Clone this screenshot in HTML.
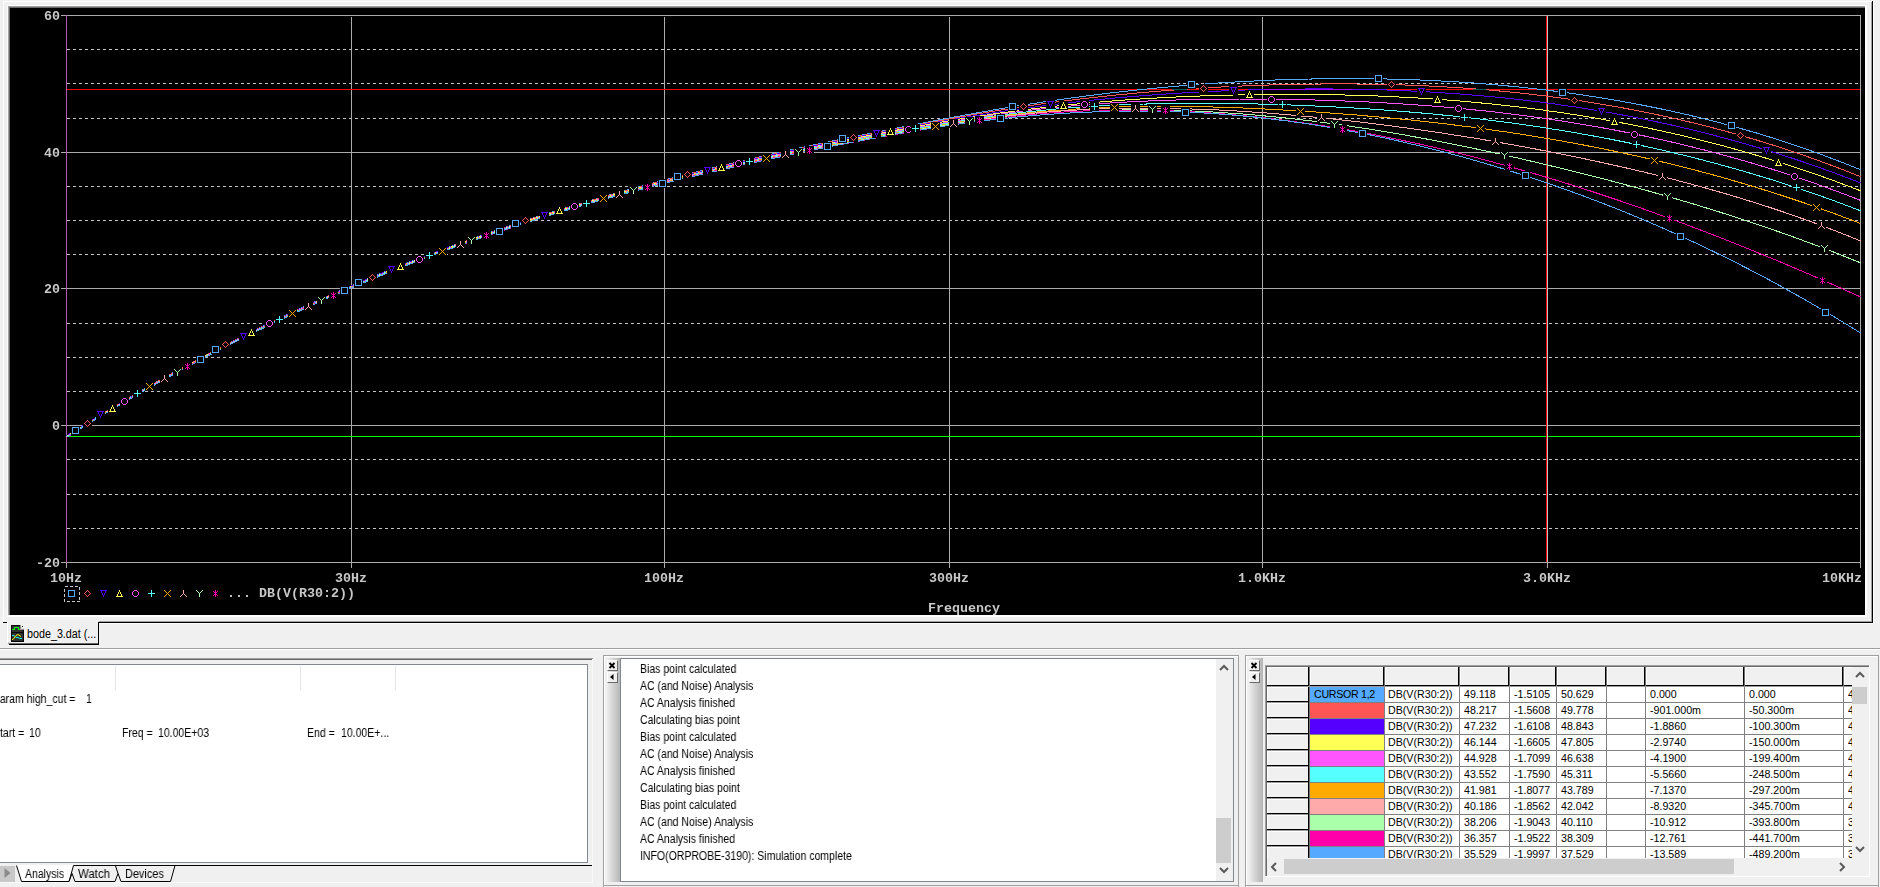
<!DOCTYPE html>
<html><head><meta charset="utf-8"><title>bode_3.dat</title>
<style>
html,body{margin:0;padding:0;}
body{width:1880px;height:887px;overflow:hidden;background:#F0F0F0;position:relative;font-family:"Liberation Sans",sans-serif;font-size:11px;color:#000;}
.a{position:absolute;}
.pt{position:absolute;font-family:"Liberation Mono",monospace;font-weight:bold;font-size:13.33px;line-height:12px;height:12px;color:#C8C8C8;white-space:pre;letter-spacing:0px;will-change:transform;}
.ms{position:absolute;white-space:pre;font-size:12px;line-height:13px;height:13px;transform:scaleX(0.875);transform-origin:0 0;will-change:transform;}
.tc{position:absolute;white-space:pre;font-size:10.67px;line-height:15px;height:15px;overflow:hidden;}
.btn{position:absolute;width:9px;height:9px;background:#F0F0F0;border-top:1px solid #fff;border-left:1px solid #fff;border-right:1px solid #696969;border-bottom:1px solid #696969;}
</style></head><body>

<div class="a" style="left:3px;top:1px;width:1871px;height:1px;background:#fff"></div>
<div class="a" style="left:3px;top:1px;width:1px;height:621px;background:#fff"></div>
<div class="a" style="left:1871px;top:2px;width:1px;height:620px;background:#A0A0A0"></div>
<div class="a" style="left:1872px;top:1px;width:1px;height:622px;background:#000"></div>
<div class="a" style="left:1873px;top:1px;width:1px;height:623px;background:#fff"></div>
<div class="a" style="left:99px;top:621px;width:1773px;height:1px;background:#A0A0A0"></div>
<div class="a" style="left:99px;top:622px;width:1774px;height:1px;background:#000"></div>
<div class="a" style="left:99px;top:623px;width:1775px;height:1px;background:#fff"></div>
<div class="a" style="left:3px;top:622px;width:4px;height:1px;background:#000"></div>
<div class="a" style="left:7px;top:5px;width:1860px;height:612px;background:#fff"></div>
<div class="a" style="left:7px;top:5px;width:1858px;height:1px;background:#FAFAFA"></div>
<div class="a" style="left:7px;top:5px;width:1px;height:610px;background:#FAFAFA"></div>
<div class="a" style="left:8px;top:6px;width:1857px;height:609px;background:#A0A0A0"></div>
<div class="a" style="left:9px;top:7px;width:1856px;height:608px;background:#696969"></div>
<svg class="a" style="left:0;top:0" width="1880" height="620" viewBox="0 0 1880 620">
<rect x="10" y="8" width="1855" height="607" fill="#000"/>
<g stroke="#C4C4C4" stroke-width="1" shape-rendering="crispEdges" stroke-dasharray="3 3" fill="none">
<path d="M67 49.5H1858"/>
<path d="M67 83.5H1858"/>
<path d="M67 118.5H1858"/>
<path d="M67 186.5H1858"/>
<path d="M67 220.5H1858"/>
<path d="M67 254.5H1858"/>
<path d="M67 323.5H1858"/>
<path d="M67 357.5H1858"/>
<path d="M67 391.5H1858"/>
<path d="M67 459.5H1858"/>
<path d="M67 494.5H1858"/>
<path d="M67 528.5H1858"/>
</g>
<g stroke="#ABABAB" stroke-width="1" shape-rendering="crispEdges" fill="none">
<path d="M61 15.5H1861"/>
<path d="M61 152.5H1861"/>
<path d="M61 288.5H1861"/>
<path d="M61 425.5H1861"/>
<path d="M61 562.5H1861"/>
<path d="M351.5 17V568"/>
<path d="M664.5 17V568"/>
<path d="M949.5 17V568"/>
<path d="M1262.5 17V568"/>
<path d="M1547.5 17V568"/>
<path d="M1860.5 15V568"/>
<path d="M66.5 562V568"/>
</g>
<g shape-rendering="crispEdges" fill="none" stroke-width="1">
<path d="M66.5 15V563" stroke="#B358B3"/>
<path d="M67 436.5H1860" stroke="#00FF00"/>
<path d="M67 89.5H1860" stroke="#FF0000"/>
<path d="M1546.5 16V562" stroke="#FF0000"/>
<path d="M1547.5 16V562" stroke="#B4C8C8"/>
</g>
<g fill="none" stroke-width="1" shape-rendering="crispEdges" stroke-linejoin="round">
<path d="M66.5 436.2 69.5 434.3 72.5 432.4 75.5 430.5 78.5 428.6 81.5 426.7 84.5 424.9 87.5 423.0 90.5 421.1 93.5 419.3 96.5 417.4 99.5 415.6 102.5 413.8 105.5 411.9 108.5 410.1 111.5 408.3 114.5 406.5 117.5 404.7 120.5 402.9 123.5 401.1 126.5 399.4 129.5 397.6 132.5 395.8 135.5 394.1 138.5 392.3 141.5 390.6 144.5 388.9 147.5 387.2 150.5 385.4 153.5 383.7 156.5 382.0 159.5 380.3 162.5 378.7 165.5 377.0 168.5 375.3 171.5 373.6 174.5 372.0 177.5 370.3 180.5 368.7 183.5 367.0 186.5 365.4 189.5 363.8 192.5 362.2 195.5 360.6 198.5 359.0 201.5 357.4 204.5 355.8 207.5 354.2 210.5 352.6 213.5 351.0 216.5 349.5 219.5 347.9 222.5 346.4 225.5 344.8 228.5 343.3 231.5 341.8 234.5 340.2 237.5 338.7 240.5 337.2 243.5 335.7 246.5 334.2 249.5 332.7 252.5 331.2 255.5 329.7 258.5 328.3 261.5 326.8 264.5 325.3 267.5 323.9 270.5 322.4 273.5 321.0 276.5 319.6 279.5 318.1 282.5 316.7 285.5 315.3 288.5 313.9 291.5 312.5 294.5 311.1 297.5 309.7 300.5 308.3 303.5 307.0 306.5 305.6 309.5 304.2 312.5 302.9 315.5 301.5 318.5 300.2 321.5 298.8 324.5 297.5 327.5 296.1 330.5 294.8 333.5 293.5 336.5 292.2 339.5 290.9 342.5 289.6 345.5 288.3 348.5 287.0 351.5 285.7 354.5 284.4 357.5 283.2 360.5 281.9 363.5 280.7 366.5 279.4 369.5 278.2 372.5 276.9 375.5 275.7 378.5 274.4 381.5 273.2 384.5 272.0 387.5 270.8 390.5 269.6 393.5 268.4 396.5 267.2 399.5 266.0 402.5 264.8 405.5 263.6 408.5 262.4 411.5 261.3 414.5 260.1 417.5 258.9 420.5 257.8 423.5 256.6 426.5 255.5 429.5 254.4 432.5 253.2 435.5 252.1 438.5 251.0 441.5 249.9 444.5 248.7 447.5 247.6 450.5 246.5 453.5 245.4 456.5 244.3 459.5 243.3 462.5 242.2 465.5 241.1 468.5 240.0 471.5 239.0 474.5 237.9 477.5 236.8 480.5 235.8 483.5 234.7 486.5 233.7 489.5 232.7 492.5 231.6 495.5 230.6 498.5 229.6 501.5 228.6 504.5 227.6 507.5 226.6 510.5 225.6 513.5 224.6 516.5 223.6 519.5 222.6 522.5 221.6 525.5 220.6 528.5 219.6 531.5 218.7 534.5 217.7 537.5 216.7 540.5 215.8 543.5 214.8 546.5 213.9 549.5 212.9 552.5 212.0 555.5 211.1 558.5 210.1 561.5 209.2 564.5 208.3 567.5 207.4 570.5 206.5 573.5 205.6 576.5 204.7 579.5 203.8 582.5 202.9 585.5 202.0 588.5 201.1 591.5 200.2 594.5 199.3 597.5 198.5 600.5 197.6 603.5 196.7 606.5 195.9 609.5 195.0 612.5 194.2 615.5 193.3 618.5 192.5 621.5 191.6 624.5 190.8 627.5 190.0 630.5 189.1 633.5 188.3 636.5 187.5 639.5 186.7 642.5 185.9 645.5 185.0 648.5 184.2 651.5 183.4 654.5 182.6 657.5 181.8 660.5 181.1 663.5 180.3 666.5 179.5 669.5 178.7 672.5 177.9 675.5 177.2 678.5 176.4 681.5 175.6 684.5 174.9 687.5 174.1 690.5 173.4 693.5 172.6 696.5 171.9 699.5 171.1 702.5 170.4 705.5 169.6 708.5 168.9 711.5 168.2 714.5 167.4 717.5 166.7 720.5 166.0 723.5 165.3 726.5 164.6 729.5 163.9 732.5 163.1 735.5 162.4 738.5 161.7 741.5 161.0 744.5 160.3 747.5 159.6 750.5 158.9 753.5 158.3 756.5 157.6 759.5 156.9 762.5 156.2 765.5 155.5 768.5 154.9 771.5 154.2 774.5 153.5 777.5 152.8 780.5 152.2 783.5 151.5 786.5 150.9 789.5 150.2 792.5 149.5 795.5 148.9 798.5 148.2 801.5 147.6 804.5 147.0 807.5 146.3 810.5 145.7 813.5 145.0 816.5 144.4 819.5 143.8 822.5 143.1 825.5 142.5 828.5 141.9 831.5 141.2 834.5 140.6 837.5 140.0 840.5 139.4 843.5 138.8 846.5 138.1 849.5 137.5 852.5 136.9 855.5 136.3 858.5 135.7 861.5 135.1 864.5 134.5 867.5 133.9 870.5 133.3 873.5 132.7 876.5 132.1 879.5 131.5 882.5 130.9 885.5 130.3 888.5 129.7 891.5 129.1 894.5 128.5 897.5 127.9 900.5 127.4 903.5 126.8 906.5 126.2 909.5 125.6 912.5 125.0 915.5 124.4 918.5 123.9 921.5 123.3 924.5 122.7 927.5 122.1 930.5 121.6 933.5 121.0 936.5 120.4 939.5 119.8 942.5 119.3 945.5 118.7 948.5 118.2 951.5 117.6 954.5 117.0 957.5 116.5 960.5 115.9 963.5 115.4 966.5 114.8 969.5 114.3 972.5 113.7 975.5 113.2 978.5 112.6 981.5 112.1 984.5 111.6 987.5 111.1 990.5 110.5 993.5 110.0 996.5 109.5 999.5 109.0 1002.5 108.5 1005.5 108.0 1008.5 107.5 1011.5 107.0 1014.5 106.5 1017.5 106.0 1020.5 105.5 1023.5 105.0 1026.5 104.6 1029.5 104.1 1032.5 103.6 1035.5 103.2 1038.5 102.7 1041.5 102.3 1044.5 101.8 1047.5 101.4 1050.5 100.9 1053.5 100.5 1056.5 100.1 1059.5 99.6 1062.5 99.2 1065.5 98.8 1068.5 98.4 1071.5 98.0 1074.5 97.6 1077.5 97.2 1080.5 96.8 1083.5 96.4 1086.5 96.0 1089.5 95.6 1092.5 95.2 1095.5 94.8 1098.5 94.5 1101.5 94.1 1104.5 93.7 1107.5 93.4 1110.5 93.0 1113.5 92.7 1116.5 92.3 1119.5 92.0 1122.5 91.6 1125.5 91.3 1128.5 91.0 1131.5 90.6 1134.5 90.3 1137.5 90.0 1140.5 89.7 1143.5 89.4 1146.5 89.1 1149.5 88.8 1152.5 88.5 1155.5 88.2 1158.5 87.9 1161.5 87.6 1164.5 87.3 1167.5 87.1 1170.5 86.8 1173.5 86.5 1176.5 86.3 1179.5 86.0 1182.5 85.7 1185.5 85.5 1188.5 85.2 1191.5 85.0 1194.5 84.8 1197.5 84.5 1200.5 84.3 1203.5 84.1 1206.5 83.9 1209.5 83.7 1212.5 83.4 1215.5 83.2 1218.5 83.0 1221.5 82.8 1224.5 82.6 1227.5 82.5 1230.5 82.3 1233.5 82.1 1236.5 81.9 1239.5 81.8 1242.5 81.6 1245.5 81.4 1248.5 81.3 1251.5 81.1 1254.5 81.0 1257.5 80.8 1260.5 80.7 1263.5 80.5 1266.5 80.4 1269.5 80.3 1272.5 80.2 1275.5 80.0 1278.5 79.9 1281.5 79.8 1284.5 79.7 1287.5 79.6 1290.5 79.5 1293.5 79.4 1296.5 79.3 1299.5 79.3 1302.5 79.2 1305.5 79.1 1308.5 79.0 1311.5 79.0 1314.5 78.9 1317.5 78.9 1320.5 78.8 1323.5 78.8 1326.5 78.7 1329.5 78.7 1332.5 78.7 1335.5 78.6 1338.5 78.6 1341.5 78.6 1344.5 78.6 1347.5 78.6 1350.5 78.6 1353.5 78.6 1356.5 78.6 1359.5 78.6 1362.5 78.6 1365.5 78.7 1368.5 78.7 1371.5 78.7 1374.5 78.8 1377.5 78.8 1380.5 78.9 1383.5 78.9 1386.5 79.0 1389.5 79.0 1392.5 79.1 1395.5 79.2 1398.5 79.3 1401.5 79.4 1404.5 79.4 1407.5 79.5 1410.5 79.6 1413.5 79.8 1416.5 79.9 1419.5 80.0 1422.5 80.1 1425.5 80.2 1428.5 80.4 1431.5 80.5 1434.5 80.7 1437.5 80.8 1440.5 81.0 1443.5 81.1 1446.5 81.3 1449.5 81.5 1452.5 81.6 1455.5 81.8 1458.5 82.0 1461.5 82.2 1464.5 82.4 1467.5 82.6 1470.5 82.8 1473.5 83.0 1476.5 83.3 1479.5 83.5 1482.5 83.7 1485.5 84.0 1488.5 84.2 1491.5 84.5 1494.5 84.7 1497.5 85.0 1500.5 85.3 1503.5 85.5 1506.5 85.8 1509.5 86.1 1512.5 86.4 1515.5 86.7 1518.5 87.0 1521.5 87.3 1524.5 87.6 1527.5 88.0 1530.5 88.3 1533.5 88.6 1536.5 89.0 1539.5 89.3 1542.5 89.7 1545.5 90.0 1548.5 90.4 1551.5 90.8 1554.5 91.1 1557.5 91.5 1560.5 91.9 1563.5 92.3 1566.5 92.7 1569.5 93.1 1572.5 93.6 1575.5 94.0 1578.5 94.4 1581.5 94.8 1584.5 95.3 1587.5 95.7 1590.5 96.2 1593.5 96.7 1596.5 97.1 1599.5 97.6 1602.5 98.1 1605.5 98.6 1608.5 99.1 1611.5 99.6 1614.5 100.1 1617.5 100.6 1620.5 101.1 1623.5 101.7 1626.5 102.2 1629.5 102.7 1632.5 103.3 1635.5 103.9 1638.5 104.4 1641.5 105.0 1644.5 105.6 1647.5 106.2 1650.5 106.8 1653.5 107.4 1656.5 108.0 1659.5 108.6 1662.5 109.2 1665.5 109.9 1668.5 110.5 1671.5 111.2 1674.5 111.8 1677.5 112.5 1680.5 113.2 1683.5 113.9 1686.5 114.5 1689.5 115.2 1692.5 116.0 1695.5 116.7 1698.5 117.4 1701.5 118.1 1704.5 118.9 1707.5 119.6 1710.5 120.4 1713.5 121.1 1716.5 121.9 1719.5 122.7 1722.5 123.5 1725.5 124.3 1728.5 125.1 1731.5 125.9 1734.5 126.7 1737.5 127.6 1740.5 128.4 1743.5 129.3 1746.5 130.1 1749.5 131.0 1752.5 131.9 1755.5 132.7 1758.5 133.6 1761.5 134.5 1764.5 135.5 1767.5 136.4 1770.5 137.3 1773.5 138.3 1776.5 139.2 1779.5 140.2 1782.5 141.1 1785.5 142.1 1788.5 143.1 1791.5 144.1 1794.5 145.1 1797.5 146.1 1800.5 147.2 1803.5 148.2 1806.5 149.2 1809.5 150.3 1812.5 151.4 1815.5 152.4 1818.5 153.5 1821.5 154.6 1824.5 155.7 1827.5 156.8 1830.5 158.0 1833.5 159.1 1836.5 160.2 1839.5 161.4 1842.5 162.6 1845.5 163.7 1848.5 164.9 1851.5 166.1 1854.5 167.3 1857.5 168.5 1860.5 169.8" stroke="#55AAFF"/>
<path d="M66.5 436.4 69.5 434.5 72.5 432.6 75.5 430.7 78.5 428.8 81.5 426.9 84.5 425.1 87.5 423.2 90.5 421.3 93.5 419.5 96.5 417.6 99.5 415.8 102.5 414.0 105.5 412.1 108.5 410.3 111.5 408.5 114.5 406.7 117.5 404.9 120.5 403.1 123.5 401.3 126.5 399.6 129.5 397.8 132.5 396.0 135.5 394.3 138.5 392.6 141.5 390.8 144.5 389.1 147.5 387.4 150.5 385.6 153.5 383.9 156.5 382.2 159.5 380.5 162.5 378.9 165.5 377.2 168.5 375.5 171.5 373.8 174.5 372.2 177.5 370.5 180.5 368.9 183.5 367.3 186.5 365.6 189.5 364.0 192.5 362.4 195.5 360.8 198.5 359.2 201.5 357.6 204.5 356.0 207.5 354.4 210.5 352.8 213.5 351.3 216.5 349.7 219.5 348.1 222.5 346.6 225.5 345.0 228.5 343.5 231.5 342.0 234.5 340.5 237.5 338.9 240.5 337.4 243.5 335.9 246.5 334.4 249.5 332.9 252.5 331.5 255.5 330.0 258.5 328.5 261.5 327.0 264.5 325.6 267.5 324.1 270.5 322.7 273.5 321.2 276.5 319.8 279.5 318.4 282.5 317.0 285.5 315.6 288.5 314.1 291.5 312.7 294.5 311.3 297.5 310.0 300.5 308.6 303.5 307.2 306.5 305.8 309.5 304.5 312.5 303.1 315.5 301.8 318.5 300.4 321.5 299.1 324.5 297.7 327.5 296.4 330.5 295.1 333.5 293.8 336.5 292.5 339.5 291.2 342.5 289.9 345.5 288.6 348.5 287.3 351.5 286.0 354.5 284.7 357.5 283.4 360.5 282.2 363.5 280.9 366.5 279.7 369.5 278.4 372.5 277.2 375.5 275.9 378.5 274.7 381.5 273.5 384.5 272.3 387.5 271.1 390.5 269.9 393.5 268.7 396.5 267.5 399.5 266.3 402.5 265.1 405.5 263.9 408.5 262.7 411.5 261.6 414.5 260.4 417.5 259.2 420.5 258.1 423.5 256.9 426.5 255.8 429.5 254.7 432.5 253.5 435.5 252.4 438.5 251.3 441.5 250.2 444.5 249.0 447.5 247.9 450.5 246.8 453.5 245.7 456.5 244.7 459.5 243.6 462.5 242.5 465.5 241.4 468.5 240.3 471.5 239.3 474.5 238.2 477.5 237.2 480.5 236.1 483.5 235.1 486.5 234.0 489.5 233.0 492.5 232.0 495.5 230.9 498.5 229.9 501.5 228.9 504.5 227.9 507.5 226.9 510.5 225.9 513.5 224.9 516.5 223.9 519.5 222.9 522.5 221.9 525.5 220.9 528.5 220.0 531.5 219.0 534.5 218.0 537.5 217.1 540.5 216.1 543.5 215.2 546.5 214.2 549.5 213.3 552.5 212.4 555.5 211.4 558.5 210.5 561.5 209.6 564.5 208.6 567.5 207.7 570.5 206.8 573.5 205.9 576.5 205.0 579.5 204.1 582.5 203.2 585.5 202.3 588.5 201.5 591.5 200.6 594.5 199.7 597.5 198.8 600.5 198.0 603.5 197.1 606.5 196.2 609.5 195.4 612.5 194.5 615.5 193.7 618.5 192.8 621.5 192.0 624.5 191.2 627.5 190.3 630.5 189.5 633.5 188.7 636.5 187.9 639.5 187.1 642.5 186.2 645.5 185.4 648.5 184.6 651.5 183.8 654.5 183.0 657.5 182.2 660.5 181.5 663.5 180.7 666.5 179.9 669.5 179.1 672.5 178.3 675.5 177.6 678.5 176.8 681.5 176.0 684.5 175.3 687.5 174.5 690.5 173.8 693.5 173.0 696.5 172.3 699.5 171.5 702.5 170.8 705.5 170.1 708.5 169.3 711.5 168.6 714.5 167.9 717.5 167.1 720.5 166.4 723.5 165.7 726.5 165.0 729.5 164.3 732.5 163.6 735.5 162.9 738.5 162.2 741.5 161.5 744.5 160.8 747.5 160.1 750.5 159.4 753.5 158.7 756.5 158.0 759.5 157.4 762.5 156.7 765.5 156.0 768.5 155.3 771.5 154.7 774.5 154.0 777.5 153.3 780.5 152.7 783.5 152.0 786.5 151.4 789.5 150.7 792.5 150.1 795.5 149.4 798.5 148.8 801.5 148.1 804.5 147.5 807.5 146.8 810.5 146.2 813.5 145.6 816.5 144.9 819.5 144.3 822.5 143.7 825.5 143.1 828.5 142.4 831.5 141.8 834.5 141.2 837.5 140.6 840.5 140.0 843.5 139.4 846.5 138.8 849.5 138.2 852.5 137.5 855.5 136.9 858.5 136.3 861.5 135.7 864.5 135.1 867.5 134.6 870.5 134.0 873.5 133.4 876.5 132.8 879.5 132.2 882.5 131.6 885.5 131.0 888.5 130.4 891.5 129.9 894.5 129.3 897.5 128.7 900.5 128.1 903.5 127.6 906.5 127.0 909.5 126.4 912.5 125.8 915.5 125.3 918.5 124.7 921.5 124.1 924.5 123.6 927.5 123.0 930.5 122.5 933.5 121.9 936.5 121.3 939.5 120.8 942.5 120.2 945.5 119.7 948.5 119.1 951.5 118.6 954.5 118.0 957.5 117.5 960.5 117.0 963.5 116.4 966.5 115.9 969.5 115.4 972.5 114.8 975.5 114.3 978.5 113.8 981.5 113.3 984.5 112.8 987.5 112.3 990.5 111.8 993.5 111.3 996.5 110.8 999.5 110.3 1002.5 109.8 1005.5 109.3 1008.5 108.9 1011.5 108.4 1014.5 107.9 1017.5 107.5 1020.5 107.0 1023.5 106.6 1026.5 106.1 1029.5 105.7 1032.5 105.3 1035.5 104.8 1038.5 104.4 1041.5 104.0 1044.5 103.6 1047.5 103.2 1050.5 102.8 1053.5 102.4 1056.5 102.0 1059.5 101.6 1062.5 101.2 1065.5 100.8 1068.5 100.4 1071.5 100.1 1074.5 99.7 1077.5 99.3 1080.5 99.0 1083.5 98.6 1086.5 98.3 1089.5 97.9 1092.5 97.6 1095.5 97.3 1098.5 96.9 1101.5 96.6 1104.5 96.3 1107.5 96.0 1110.5 95.6 1113.5 95.3 1116.5 95.0 1119.5 94.7 1122.5 94.4 1125.5 94.1 1128.5 93.9 1131.5 93.6 1134.5 93.3 1137.5 93.0 1140.5 92.8 1143.5 92.5 1146.5 92.2 1149.5 92.0 1152.5 91.7 1155.5 91.5 1158.5 91.2 1161.5 91.0 1164.5 90.7 1167.5 90.5 1170.5 90.3 1173.5 90.1 1176.5 89.8 1179.5 89.6 1182.5 89.4 1185.5 89.2 1188.5 89.0 1191.5 88.8 1194.5 88.6 1197.5 88.4 1200.5 88.2 1203.5 88.1 1206.5 87.9 1209.5 87.7 1212.5 87.5 1215.5 87.4 1218.5 87.2 1221.5 87.0 1224.5 86.9 1227.5 86.7 1230.5 86.6 1233.5 86.4 1236.5 86.3 1239.5 86.2 1242.5 86.0 1245.5 85.9 1248.5 85.8 1251.5 85.7 1254.5 85.5 1257.5 85.4 1260.5 85.3 1263.5 85.2 1266.5 85.1 1269.5 85.0 1272.5 84.9 1275.5 84.8 1278.5 84.8 1281.5 84.7 1284.5 84.6 1287.5 84.5 1290.5 84.4 1293.5 84.4 1296.5 84.3 1299.5 84.3 1302.5 84.2 1305.5 84.2 1308.5 84.1 1311.5 84.1 1314.5 84.0 1317.5 84.0 1320.5 84.0 1323.5 83.9 1326.5 83.9 1329.5 83.9 1332.5 83.9 1335.5 83.9 1338.5 83.9 1341.5 83.9 1344.5 83.9 1347.5 83.9 1350.5 83.9 1353.5 83.9 1356.5 84.0 1359.5 84.0 1362.5 84.0 1365.5 84.1 1368.5 84.1 1371.5 84.2 1374.5 84.2 1377.5 84.3 1380.5 84.3 1383.5 84.4 1386.5 84.5 1389.5 84.6 1392.5 84.6 1395.5 84.7 1398.5 84.8 1401.5 84.9 1404.5 85.0 1407.5 85.1 1410.5 85.2 1413.5 85.3 1416.5 85.5 1419.5 85.6 1422.5 85.7 1425.5 85.9 1428.5 86.0 1431.5 86.2 1434.5 86.3 1437.5 86.5 1440.5 86.6 1443.5 86.8 1446.5 87.0 1449.5 87.2 1452.5 87.4 1455.5 87.5 1458.5 87.7 1461.5 87.9 1464.5 88.2 1467.5 88.4 1470.5 88.6 1473.5 88.8 1476.5 89.1 1479.5 89.3 1482.5 89.5 1485.5 89.8 1488.5 90.0 1491.5 90.3 1494.5 90.6 1497.5 90.8 1500.5 91.1 1503.5 91.4 1506.5 91.7 1509.5 92.0 1512.5 92.3 1515.5 92.6 1518.5 92.9 1521.5 93.2 1524.5 93.6 1527.5 93.9 1530.5 94.2 1533.5 94.6 1536.5 94.9 1539.5 95.3 1542.5 95.7 1545.5 96.0 1548.5 96.4 1551.5 96.8 1554.5 97.2 1557.5 97.6 1560.5 98.0 1563.5 98.4 1566.5 98.8 1569.5 99.2 1572.5 99.7 1575.5 100.1 1578.5 100.6 1581.5 101.0 1584.5 101.5 1587.5 101.9 1590.5 102.4 1593.5 102.9 1596.5 103.4 1599.5 103.9 1602.5 104.4 1605.5 104.9 1608.5 105.4 1611.5 105.9 1614.5 106.4 1617.5 107.0 1620.5 107.5 1623.5 108.0 1626.5 108.6 1629.5 109.2 1632.5 109.7 1635.5 110.3 1638.5 110.9 1641.5 111.5 1644.5 112.1 1647.5 112.7 1650.5 113.3 1653.5 113.9 1656.5 114.6 1659.5 115.2 1662.5 115.8 1665.5 116.5 1668.5 117.2 1671.5 117.8 1674.5 118.5 1677.5 119.2 1680.5 119.9 1683.5 120.6 1686.5 121.3 1689.5 122.0 1692.5 122.7 1695.5 123.4 1698.5 124.2 1701.5 124.9 1704.5 125.7 1707.5 126.4 1710.5 127.2 1713.5 128.0 1716.5 128.8 1719.5 129.6 1722.5 130.4 1725.5 131.2 1728.5 132.0 1731.5 132.8 1734.5 133.7 1737.5 134.5 1740.5 135.4 1743.5 136.2 1746.5 137.1 1749.5 138.0 1752.5 138.9 1755.5 139.7 1758.5 140.7 1761.5 141.6 1764.5 142.5 1767.5 143.4 1770.5 144.4 1773.5 145.3 1776.5 146.3 1779.5 147.2 1782.5 148.2 1785.5 149.2 1788.5 150.2 1791.5 151.2 1794.5 152.2 1797.5 153.2 1800.5 154.2 1803.5 155.3 1806.5 156.3 1809.5 157.4 1812.5 158.4 1815.5 159.5 1818.5 160.6 1821.5 161.7 1824.5 162.8 1827.5 163.9 1830.5 165.0 1833.5 166.1 1836.5 167.3 1839.5 168.4 1842.5 169.6 1845.5 170.7 1848.5 171.9 1851.5 173.1 1854.5 174.3 1857.5 175.5 1860.5 176.7" stroke="#FF5555"/>
<path d="M66.5 435.8 69.5 434.0 72.5 432.1 75.5 430.3 78.5 428.5 81.5 426.6 84.5 424.8 87.5 423.0 90.5 421.2 93.5 419.4 96.5 417.6 99.5 415.8 102.5 414.0 105.5 412.3 108.5 410.5 111.5 408.7 114.5 407.0 117.5 405.2 120.5 403.5 123.5 401.7 126.5 400.0 129.5 398.2 132.5 396.5 135.5 394.8 138.5 393.1 141.5 391.3 144.5 389.6 147.5 387.9 150.5 386.2 153.5 384.5 156.5 382.9 159.5 381.2 162.5 379.5 165.5 377.8 168.5 376.2 171.5 374.5 174.5 372.9 177.5 371.2 180.5 369.6 183.5 367.9 186.5 366.3 189.5 364.7 192.5 363.1 195.5 361.5 198.5 359.8 201.5 358.2 204.5 356.7 207.5 355.1 210.5 353.5 213.5 351.9 216.5 350.3 219.5 348.8 222.5 347.2 225.5 345.7 228.5 344.1 231.5 342.6 234.5 341.0 237.5 339.5 240.5 338.0 243.5 336.5 246.5 335.0 249.5 333.5 252.5 332.0 255.5 330.5 258.5 329.0 261.5 327.5 264.5 326.0 267.5 324.5 270.5 323.1 273.5 321.6 276.5 320.2 279.5 318.7 282.5 317.3 285.5 315.9 288.5 314.4 291.5 313.0 294.5 311.6 297.5 310.2 300.5 308.8 303.5 307.4 306.5 306.0 309.5 304.6 312.5 303.3 315.5 301.9 318.5 300.5 321.5 299.2 324.5 297.8 327.5 296.5 330.5 295.2 333.5 293.8 336.5 292.5 339.5 291.2 342.5 289.9 345.5 288.6 348.5 287.3 351.5 286.0 354.5 284.7 357.5 283.4 360.5 282.1 363.5 280.9 366.5 279.6 369.5 278.4 372.5 277.1 375.5 275.9 378.5 274.7 381.5 273.4 384.5 272.2 387.5 271.0 390.5 269.8 393.5 268.6 396.5 267.4 399.5 266.2 402.5 265.0 405.5 263.8 408.5 262.7 411.5 261.5 414.5 260.3 417.5 259.2 420.5 258.0 423.5 256.9 426.5 255.8 429.5 254.6 432.5 253.5 435.5 252.4 438.5 251.3 441.5 250.2 444.5 249.1 447.5 248.0 450.5 246.9 453.5 245.8 456.5 244.7 459.5 243.6 462.5 242.6 465.5 241.5 468.5 240.5 471.5 239.4 474.5 238.4 477.5 237.3 480.5 236.3 483.5 235.2 486.5 234.2 489.5 233.2 492.5 232.2 495.5 231.2 498.5 230.2 501.5 229.2 504.5 228.2 507.5 227.2 510.5 226.2 513.5 225.2 516.5 224.2 519.5 223.2 522.5 222.3 525.5 221.3 528.5 220.4 531.5 219.4 534.5 218.5 537.5 217.5 540.5 216.6 543.5 215.6 546.5 214.7 549.5 213.8 552.5 212.8 555.5 211.9 558.5 211.0 561.5 210.1 564.5 209.2 567.5 208.3 570.5 207.4 573.5 206.5 576.5 205.6 579.5 204.7 582.5 203.8 585.5 203.0 588.5 202.1 591.5 201.2 594.5 200.4 597.5 199.5 600.5 198.6 603.5 197.8 606.5 196.9 609.5 196.1 612.5 195.2 615.5 194.4 618.5 193.6 621.5 192.7 624.5 191.9 627.5 191.1 630.5 190.2 633.5 189.4 636.5 188.6 639.5 187.8 642.5 187.0 645.5 186.2 648.5 185.4 651.5 184.6 654.5 183.8 657.5 183.0 660.5 182.2 663.5 181.4 666.5 180.6 669.5 179.9 672.5 179.1 675.5 178.3 678.5 177.5 681.5 176.8 684.5 176.0 687.5 175.2 690.5 174.5 693.5 173.7 696.5 173.0 699.5 172.2 702.5 171.5 705.5 170.7 708.5 170.0 711.5 169.3 714.5 168.5 717.5 167.8 720.5 167.1 723.5 166.4 726.5 165.6 729.5 164.9 732.5 164.2 735.5 163.5 738.5 162.8 741.5 162.1 744.5 161.4 747.5 160.7 750.5 160.0 753.5 159.3 756.5 158.6 759.5 157.9 762.5 157.2 765.5 156.5 768.5 155.9 771.5 155.2 774.5 154.5 777.5 153.9 780.5 153.2 783.5 152.5 786.5 151.9 789.5 151.2 792.5 150.5 795.5 149.9 798.5 149.2 801.5 148.6 804.5 148.0 807.5 147.3 810.5 146.7 813.5 146.0 816.5 145.4 819.5 144.8 822.5 144.1 825.5 143.5 828.5 142.9 831.5 142.3 834.5 141.7 837.5 141.1 840.5 140.4 843.5 139.8 846.5 139.2 849.5 138.6 852.5 138.0 855.5 137.4 858.5 136.8 861.5 136.2 864.5 135.6 867.5 135.1 870.5 134.5 873.5 133.9 876.5 133.3 879.5 132.7 882.5 132.2 885.5 131.6 888.5 131.0 891.5 130.5 894.5 129.9 897.5 129.3 900.5 128.8 903.5 128.2 906.5 127.7 909.5 127.1 912.5 126.6 915.5 126.0 918.5 125.5 921.5 124.9 924.5 124.4 927.5 123.8 930.5 123.3 933.5 122.8 936.5 122.2 939.5 121.7 942.5 121.2 945.5 120.7 948.5 120.2 951.5 119.6 954.5 119.1 957.5 118.6 960.5 118.1 963.5 117.6 966.5 117.1 969.5 116.6 972.5 116.1 975.5 115.6 978.5 115.2 981.5 114.7 984.5 114.2 987.5 113.7 990.5 113.3 993.5 112.8 996.5 112.4 999.5 111.9 1002.5 111.5 1005.5 111.0 1008.5 110.6 1011.5 110.2 1014.5 109.7 1017.5 109.3 1020.5 108.9 1023.5 108.5 1026.5 108.1 1029.5 107.7 1032.5 107.3 1035.5 106.9 1038.5 106.5 1041.5 106.1 1044.5 105.7 1047.5 105.3 1050.5 105.0 1053.5 104.6 1056.5 104.2 1059.5 103.9 1062.5 103.5 1065.5 103.2 1068.5 102.8 1071.5 102.5 1074.5 102.2 1077.5 101.8 1080.5 101.5 1083.5 101.2 1086.5 100.9 1089.5 100.5 1092.5 100.2 1095.5 99.9 1098.5 99.6 1101.5 99.3 1104.5 99.1 1107.5 98.8 1110.5 98.5 1113.5 98.2 1116.5 97.9 1119.5 97.7 1122.5 97.4 1125.5 97.1 1128.5 96.9 1131.5 96.6 1134.5 96.4 1137.5 96.1 1140.5 95.9 1143.5 95.7 1146.5 95.4 1149.5 95.2 1152.5 95.0 1155.5 94.8 1158.5 94.6 1161.5 94.3 1164.5 94.1 1167.5 93.9 1170.5 93.7 1173.5 93.5 1176.5 93.4 1179.5 93.2 1182.5 93.0 1185.5 92.8 1188.5 92.6 1191.5 92.5 1194.5 92.3 1197.5 92.1 1200.5 92.0 1203.5 91.8 1206.5 91.7 1209.5 91.5 1212.5 91.4 1215.5 91.3 1218.5 91.1 1221.5 91.0 1224.5 90.9 1227.5 90.8 1230.5 90.6 1233.5 90.5 1236.5 90.4 1239.5 90.3 1242.5 90.2 1245.5 90.1 1248.5 90.0 1251.5 89.9 1254.5 89.8 1257.5 89.8 1260.5 89.7 1263.5 89.6 1266.5 89.5 1269.5 89.5 1272.5 89.4 1275.5 89.3 1278.5 89.3 1281.5 89.2 1284.5 89.2 1287.5 89.1 1290.5 89.1 1293.5 89.1 1296.5 89.0 1299.5 89.0 1302.5 89.0 1305.5 89.0 1308.5 88.9 1311.5 88.9 1314.5 88.9 1317.5 88.9 1320.5 88.9 1323.5 88.9 1326.5 88.9 1329.5 88.9 1332.5 89.0 1335.5 89.0 1338.5 89.0 1341.5 89.0 1344.5 89.1 1347.5 89.1 1350.5 89.2 1353.5 89.2 1356.5 89.3 1359.5 89.3 1362.5 89.4 1365.5 89.4 1368.5 89.5 1371.5 89.6 1374.5 89.7 1377.5 89.8 1380.5 89.8 1383.5 89.9 1386.5 90.0 1389.5 90.1 1392.5 90.2 1395.5 90.4 1398.5 90.5 1401.5 90.6 1404.5 90.7 1407.5 90.9 1410.5 91.0 1413.5 91.1 1416.5 91.3 1419.5 91.5 1422.5 91.6 1425.5 91.8 1428.5 91.9 1431.5 92.1 1434.5 92.3 1437.5 92.5 1440.5 92.7 1443.5 92.9 1446.5 93.1 1449.5 93.3 1452.5 93.5 1455.5 93.7 1458.5 93.9 1461.5 94.1 1464.5 94.4 1467.5 94.6 1470.5 94.9 1473.5 95.1 1476.5 95.4 1479.5 95.6 1482.5 95.9 1485.5 96.2 1488.5 96.4 1491.5 96.7 1494.5 97.0 1497.5 97.3 1500.5 97.6 1503.5 97.9 1506.5 98.2 1509.5 98.5 1512.5 98.9 1515.5 99.2 1518.5 99.5 1521.5 99.9 1524.5 100.2 1527.5 100.6 1530.5 100.9 1533.5 101.3 1536.5 101.7 1539.5 102.0 1542.5 102.4 1545.5 102.8 1548.5 103.2 1551.5 103.6 1554.5 104.0 1557.5 104.4 1560.5 104.9 1563.5 105.3 1566.5 105.7 1569.5 106.2 1572.5 106.6 1575.5 107.0 1578.5 107.5 1581.5 108.0 1584.5 108.4 1587.5 108.9 1590.5 109.4 1593.5 109.9 1596.5 110.4 1599.5 110.9 1602.5 111.4 1605.5 111.9 1608.5 112.5 1611.5 113.0 1614.5 113.5 1617.5 114.1 1620.5 114.6 1623.5 115.2 1626.5 115.7 1629.5 116.3 1632.5 116.9 1635.5 117.5 1638.5 118.1 1641.5 118.7 1644.5 119.3 1647.5 119.9 1650.5 120.5 1653.5 121.1 1656.5 121.8 1659.5 122.4 1662.5 123.1 1665.5 123.7 1668.5 124.4 1671.5 125.0 1674.5 125.7 1677.5 126.4 1680.5 127.1 1683.5 127.8 1686.5 128.5 1689.5 129.2 1692.5 129.9 1695.5 130.7 1698.5 131.4 1701.5 132.1 1704.5 132.9 1707.5 133.7 1710.5 134.4 1713.5 135.2 1716.5 136.0 1719.5 136.8 1722.5 137.6 1725.5 138.4 1728.5 139.2 1731.5 140.0 1734.5 140.8 1737.5 141.7 1740.5 142.5 1743.5 143.4 1746.5 144.2 1749.5 145.1 1752.5 146.0 1755.5 146.8 1758.5 147.7 1761.5 148.6 1764.5 149.5 1767.5 150.4 1770.5 151.4 1773.5 152.3 1776.5 153.2 1779.5 154.2 1782.5 155.1 1785.5 156.1 1788.5 157.1 1791.5 158.0 1794.5 159.0 1797.5 160.0 1800.5 161.0 1803.5 162.0 1806.5 163.1 1809.5 164.1 1812.5 165.1 1815.5 166.2 1818.5 167.2 1821.5 168.3 1824.5 169.4 1827.5 170.5 1830.5 171.5 1833.5 172.6 1836.5 173.7 1839.5 174.9 1842.5 176.0 1845.5 177.1 1848.5 178.3 1851.5 179.4 1854.5 180.6 1857.5 181.7 1860.5 182.9" stroke="#5500FF"/>
<path d="M66.5 436.6 69.5 434.7 72.5 432.8 75.5 431.0 78.5 429.1 81.5 427.2 84.5 425.3 87.5 423.5 90.5 421.6 93.5 419.8 96.5 418.0 99.5 416.1 102.5 414.3 105.5 412.5 108.5 410.7 111.5 408.9 114.5 407.1 117.5 405.3 120.5 403.6 123.5 401.8 126.5 400.0 129.5 398.3 132.5 396.5 135.5 394.8 138.5 393.0 141.5 391.3 144.5 389.6 147.5 387.9 150.5 386.2 153.5 384.5 156.5 382.8 159.5 381.1 162.5 379.4 165.5 377.7 168.5 376.1 171.5 374.4 174.5 372.8 177.5 371.1 180.5 369.5 183.5 367.8 186.5 366.2 189.5 364.6 192.5 363.0 195.5 361.4 198.5 359.8 201.5 358.2 204.5 356.6 207.5 355.0 210.5 353.4 213.5 351.9 216.5 350.3 219.5 348.8 222.5 347.2 225.5 345.7 228.5 344.1 231.5 342.6 234.5 341.1 237.5 339.6 240.5 338.1 243.5 336.6 246.5 335.1 249.5 333.6 252.5 332.1 255.5 330.6 258.5 329.1 261.5 327.7 264.5 326.2 267.5 324.8 270.5 323.3 273.5 321.9 276.5 320.4 279.5 319.0 282.5 317.6 285.5 316.2 288.5 314.8 291.5 313.4 294.5 312.0 297.5 310.6 300.5 309.2 303.5 307.8 306.5 306.4 309.5 305.1 312.5 303.7 315.5 302.4 318.5 301.0 321.5 299.7 324.5 298.3 327.5 297.0 330.5 295.7 333.5 294.4 336.5 293.0 339.5 291.7 342.5 290.4 345.5 289.1 348.5 287.9 351.5 286.6 354.5 285.3 357.5 284.0 360.5 282.8 363.5 281.5 366.5 280.2 369.5 279.0 372.5 277.7 375.5 276.5 378.5 275.3 381.5 274.1 384.5 272.8 387.5 271.6 390.5 270.4 393.5 269.2 396.5 268.0 399.5 266.8 402.5 265.6 405.5 264.4 408.5 263.3 411.5 262.1 414.5 260.9 417.5 259.8 420.5 258.6 423.5 257.5 426.5 256.3 429.5 255.2 432.5 254.0 435.5 252.9 438.5 251.8 441.5 250.7 444.5 249.6 447.5 248.5 450.5 247.4 453.5 246.3 456.5 245.2 459.5 244.1 462.5 243.0 465.5 241.9 468.5 240.9 471.5 239.8 474.5 238.7 477.5 237.7 480.5 236.6 483.5 235.6 486.5 234.6 489.5 233.5 492.5 232.5 495.5 231.5 498.5 230.4 501.5 229.4 504.5 228.4 507.5 227.4 510.5 226.4 513.5 225.4 516.5 224.4 519.5 223.5 522.5 222.5 525.5 221.5 528.5 220.5 531.5 219.6 534.5 218.6 537.5 217.7 540.5 216.7 543.5 215.8 546.5 214.8 549.5 213.9 552.5 212.9 555.5 212.0 558.5 211.1 561.5 210.2 564.5 209.3 567.5 208.4 570.5 207.5 573.5 206.6 576.5 205.7 579.5 204.8 582.5 203.9 585.5 203.0 588.5 202.1 591.5 201.3 594.5 200.4 597.5 199.5 600.5 198.7 603.5 197.8 606.5 197.0 609.5 196.1 612.5 195.3 615.5 194.4 618.5 193.6 621.5 192.8 624.5 192.0 627.5 191.1 630.5 190.3 633.5 189.5 636.5 188.7 639.5 187.9 642.5 187.1 645.5 186.3 648.5 185.5 651.5 184.8 654.5 184.0 657.5 183.2 660.5 182.4 663.5 181.7 666.5 180.9 669.5 180.1 672.5 179.4 675.5 178.6 678.5 177.9 681.5 177.1 684.5 176.4 687.5 175.6 690.5 174.9 693.5 174.2 696.5 173.4 699.5 172.7 702.5 172.0 705.5 171.3 708.5 170.5 711.5 169.8 714.5 169.1 717.5 168.4 720.5 167.7 723.5 167.0 726.5 166.3 729.5 165.6 732.5 164.9 735.5 164.2 738.5 163.5 741.5 162.8 744.5 162.2 747.5 161.5 750.5 160.8 753.5 160.1 756.5 159.4 759.5 158.8 762.5 158.1 765.5 157.4 768.5 156.7 771.5 156.1 774.5 155.4 777.5 154.8 780.5 154.1 783.5 153.4 786.5 152.8 789.5 152.1 792.5 151.5 795.5 150.8 798.5 150.2 801.5 149.5 804.5 148.9 807.5 148.2 810.5 147.6 813.5 146.9 816.5 146.3 819.5 145.7 822.5 145.0 825.5 144.4 828.5 143.8 831.5 143.1 834.5 142.5 837.5 141.9 840.5 141.3 843.5 140.7 846.5 140.0 849.5 139.4 852.5 138.8 855.5 138.2 858.5 137.6 861.5 137.0 864.5 136.4 867.5 135.8 870.5 135.2 873.5 134.6 876.5 134.0 879.5 133.5 882.5 132.9 885.5 132.3 888.5 131.7 891.5 131.1 894.5 130.6 897.5 130.0 900.5 129.4 903.5 128.9 906.5 128.3 909.5 127.8 912.5 127.2 915.5 126.7 918.5 126.2 921.5 125.6 924.5 125.1 927.5 124.6 930.5 124.0 933.5 123.5 936.5 123.0 939.5 122.5 942.5 122.0 945.5 121.5 948.5 121.0 951.5 120.5 954.5 120.0 957.5 119.5 960.5 119.0 963.5 118.5 966.5 118.0 969.5 117.6 972.5 117.1 975.5 116.7 978.5 116.2 981.5 115.7 984.5 115.3 987.5 114.9 990.5 114.4 993.5 114.0 996.5 113.6 999.5 113.1 1002.5 112.7 1005.5 112.3 1008.5 111.9 1011.5 111.5 1014.5 111.1 1017.5 110.7 1020.5 110.4 1023.5 110.0 1026.5 109.6 1029.5 109.2 1032.5 108.9 1035.5 108.5 1038.5 108.2 1041.5 107.8 1044.5 107.5 1047.5 107.1 1050.5 106.8 1053.5 106.5 1056.5 106.1 1059.5 105.8 1062.5 105.5 1065.5 105.2 1068.5 104.9 1071.5 104.6 1074.5 104.3 1077.5 104.0 1080.5 103.7 1083.5 103.4 1086.5 103.2 1089.5 102.9 1092.5 102.6 1095.5 102.4 1098.5 102.1 1101.5 101.9 1104.5 101.6 1107.5 101.4 1110.5 101.1 1113.5 100.9 1116.5 100.7 1119.5 100.4 1122.5 100.2 1125.5 100.0 1128.5 99.8 1131.5 99.6 1134.5 99.4 1137.5 99.2 1140.5 99.0 1143.5 98.8 1146.5 98.6 1149.5 98.4 1152.5 98.2 1155.5 98.1 1158.5 97.9 1161.5 97.7 1164.5 97.6 1167.5 97.4 1170.5 97.3 1173.5 97.1 1176.5 97.0 1179.5 96.8 1182.5 96.7 1185.5 96.6 1188.5 96.4 1191.5 96.3 1194.5 96.2 1197.5 96.1 1200.5 96.0 1203.5 95.9 1206.5 95.8 1209.5 95.7 1212.5 95.6 1215.5 95.5 1218.5 95.4 1221.5 95.3 1224.5 95.2 1227.5 95.1 1230.5 95.1 1233.5 95.0 1236.5 94.9 1239.5 94.9 1242.5 94.8 1245.5 94.7 1248.5 94.7 1251.5 94.6 1254.5 94.6 1257.5 94.5 1260.5 94.5 1263.5 94.5 1266.5 94.4 1269.5 94.4 1272.5 94.4 1275.5 94.4 1278.5 94.4 1281.5 94.3 1284.5 94.3 1287.5 94.3 1290.5 94.3 1293.5 94.3 1296.5 94.3 1299.5 94.3 1302.5 94.4 1305.5 94.4 1308.5 94.4 1311.5 94.4 1314.5 94.5 1317.5 94.5 1320.5 94.5 1323.5 94.6 1326.5 94.6 1329.5 94.7 1332.5 94.7 1335.5 94.8 1338.5 94.8 1341.5 94.9 1344.5 95.0 1347.5 95.0 1350.5 95.1 1353.5 95.2 1356.5 95.3 1359.5 95.4 1362.5 95.5 1365.5 95.6 1368.5 95.7 1371.5 95.8 1374.5 95.9 1377.5 96.0 1380.5 96.1 1383.5 96.3 1386.5 96.4 1389.5 96.5 1392.5 96.7 1395.5 96.8 1398.5 97.0 1401.5 97.1 1404.5 97.3 1407.5 97.4 1410.5 97.6 1413.5 97.8 1416.5 97.9 1419.5 98.1 1422.5 98.3 1425.5 98.5 1428.5 98.7 1431.5 98.9 1434.5 99.1 1437.5 99.3 1440.5 99.5 1443.5 99.8 1446.5 100.0 1449.5 100.2 1452.5 100.5 1455.5 100.7 1458.5 100.9 1461.5 101.2 1464.5 101.5 1467.5 101.7 1470.5 102.0 1473.5 102.3 1476.5 102.5 1479.5 102.8 1482.5 103.1 1485.5 103.4 1488.5 103.7 1491.5 104.0 1494.5 104.3 1497.5 104.6 1500.5 105.0 1503.5 105.3 1506.5 105.6 1509.5 106.0 1512.5 106.3 1515.5 106.6 1518.5 107.0 1521.5 107.4 1524.5 107.7 1527.5 108.1 1530.5 108.5 1533.5 108.9 1536.5 109.2 1539.5 109.6 1542.5 110.0 1545.5 110.4 1548.5 110.9 1551.5 111.3 1554.5 111.7 1557.5 112.1 1560.5 112.6 1563.5 113.0 1566.5 113.5 1569.5 113.9 1572.5 114.4 1575.5 114.8 1578.5 115.3 1581.5 115.8 1584.5 116.3 1587.5 116.8 1590.5 117.3 1593.5 117.8 1596.5 118.3 1599.5 118.8 1602.5 119.3 1605.5 119.9 1608.5 120.4 1611.5 120.9 1614.5 121.5 1617.5 122.0 1620.5 122.6 1623.5 123.2 1626.5 123.7 1629.5 124.3 1632.5 124.9 1635.5 125.5 1638.5 126.1 1641.5 126.7 1644.5 127.3 1647.5 127.9 1650.5 128.6 1653.5 129.2 1656.5 129.9 1659.5 130.5 1662.5 131.2 1665.5 131.8 1668.5 132.5 1671.5 133.2 1674.5 133.8 1677.5 134.5 1680.5 135.2 1683.5 135.9 1686.5 136.6 1689.5 137.4 1692.5 138.1 1695.5 138.8 1698.5 139.6 1701.5 140.3 1704.5 141.1 1707.5 141.8 1710.5 142.6 1713.5 143.4 1716.5 144.1 1719.5 144.9 1722.5 145.7 1725.5 146.5 1728.5 147.4 1731.5 148.2 1734.5 149.0 1737.5 149.8 1740.5 150.7 1743.5 151.5 1746.5 152.4 1749.5 153.2 1752.5 154.1 1755.5 155.0 1758.5 155.9 1761.5 156.8 1764.5 157.7 1767.5 158.6 1770.5 159.5 1773.5 160.4 1776.5 161.4 1779.5 162.3 1782.5 163.3 1785.5 164.2 1788.5 165.2 1791.5 166.2 1794.5 167.1 1797.5 168.1 1800.5 169.1 1803.5 170.1 1806.5 171.2 1809.5 172.2 1812.5 173.2 1815.5 174.2 1818.5 175.3 1821.5 176.3 1824.5 177.4 1827.5 178.5 1830.5 179.6 1833.5 180.6 1836.5 181.7 1839.5 182.8 1842.5 184.0 1845.5 185.1 1848.5 186.2 1851.5 187.3 1854.5 188.5 1857.5 189.6 1860.5 190.8" stroke="#FFFF55"/>
<path d="M66.5 437.0 69.5 435.1 72.5 433.2 75.5 431.3 78.5 429.4 81.5 427.5 84.5 425.6 87.5 423.8 90.5 421.9 93.5 420.1 96.5 418.2 99.5 416.4 102.5 414.6 105.5 412.7 108.5 410.9 111.5 409.1 114.5 407.3 117.5 405.5 120.5 403.8 123.5 402.0 126.5 400.2 129.5 398.4 132.5 396.7 135.5 394.9 138.5 393.2 141.5 391.5 144.5 389.7 147.5 388.0 150.5 386.3 153.5 384.6 156.5 382.9 159.5 381.2 162.5 379.5 165.5 377.9 168.5 376.2 171.5 374.5 174.5 372.9 177.5 371.2 180.5 369.6 183.5 367.9 186.5 366.3 189.5 364.7 192.5 363.1 195.5 361.5 198.5 359.9 201.5 358.3 204.5 356.7 207.5 355.1 210.5 353.5 213.5 352.0 216.5 350.4 219.5 348.9 222.5 347.3 225.5 345.8 228.5 344.2 231.5 342.7 234.5 341.2 237.5 339.7 240.5 338.2 243.5 336.7 246.5 335.2 249.5 333.7 252.5 332.2 255.5 330.7 258.5 329.3 261.5 327.8 264.5 326.4 267.5 324.9 270.5 323.5 273.5 322.0 276.5 320.6 279.5 319.2 282.5 317.8 285.5 316.3 288.5 314.9 291.5 313.5 294.5 312.1 297.5 310.8 300.5 309.4 303.5 308.0 306.5 306.6 309.5 305.3 312.5 303.9 315.5 302.6 318.5 301.2 321.5 299.9 324.5 298.6 327.5 297.2 330.5 295.9 333.5 294.6 336.5 293.3 339.5 292.0 342.5 290.7 345.5 289.4 348.5 288.1 351.5 286.8 354.5 285.6 357.5 284.3 360.5 283.0 363.5 281.8 366.5 280.5 369.5 279.3 372.5 278.0 375.5 276.8 378.5 275.6 381.5 274.4 384.5 273.2 387.5 271.9 390.5 270.7 393.5 269.5 396.5 268.3 399.5 267.2 402.5 266.0 405.5 264.8 408.5 263.6 411.5 262.5 414.5 261.3 417.5 260.1 420.5 259.0 423.5 257.8 426.5 256.7 429.5 255.6 432.5 254.4 435.5 253.3 438.5 252.2 441.5 251.1 444.5 250.0 447.5 248.9 450.5 247.8 453.5 246.7 456.5 245.6 459.5 244.5 462.5 243.4 465.5 242.4 468.5 241.3 471.5 240.3 474.5 239.2 477.5 238.1 480.5 237.1 483.5 236.1 486.5 235.0 489.5 234.0 492.5 233.0 495.5 231.9 498.5 230.9 501.5 229.9 504.5 228.9 507.5 227.9 510.5 226.9 513.5 225.9 516.5 224.9 519.5 223.9 522.5 223.0 525.5 222.0 528.5 221.0 531.5 220.1 534.5 219.1 537.5 218.1 540.5 217.2 543.5 216.2 546.5 215.3 549.5 214.4 552.5 213.4 555.5 212.5 558.5 211.6 561.5 210.7 564.5 209.7 567.5 208.8 570.5 207.9 573.5 207.0 576.5 206.1 579.5 205.2 582.5 204.4 585.5 203.5 588.5 202.6 591.5 201.7 594.5 200.8 597.5 200.0 600.5 199.1 603.5 198.3 606.5 197.4 609.5 196.5 612.5 195.7 615.5 194.9 618.5 194.0 621.5 193.2 624.5 192.4 627.5 191.5 630.5 190.7 633.5 189.9 636.5 189.1 639.5 188.3 642.5 187.5 645.5 186.7 648.5 185.9 651.5 185.1 654.5 184.3 657.5 183.5 660.5 182.7 663.5 181.9 666.5 181.2 669.5 180.4 672.5 179.6 675.5 178.9 678.5 178.1 681.5 177.3 684.5 176.6 687.5 175.8 690.5 175.1 693.5 174.4 696.5 173.6 699.5 172.9 702.5 172.2 705.5 171.4 708.5 170.7 711.5 170.0 714.5 169.3 717.5 168.5 720.5 167.8 723.5 167.1 726.5 166.4 729.5 165.7 732.5 165.0 735.5 164.3 738.5 163.6 741.5 163.0 744.5 162.3 747.5 161.6 750.5 160.9 753.5 160.2 756.5 159.6 759.5 158.9 762.5 158.2 765.5 157.6 768.5 156.9 771.5 156.3 774.5 155.6 777.5 154.9 780.5 154.3 783.5 153.7 786.5 153.0 789.5 152.4 792.5 151.7 795.5 151.1 798.5 150.5 801.5 149.9 804.5 149.2 807.5 148.6 810.5 148.0 813.5 147.4 816.5 146.8 819.5 146.1 822.5 145.5 825.5 144.9 828.5 144.3 831.5 143.7 834.5 143.1 837.5 142.5 840.5 141.9 843.5 141.4 846.5 140.8 849.5 140.2 852.5 139.6 855.5 139.0 858.5 138.4 861.5 137.9 864.5 137.3 867.5 136.7 870.5 136.2 873.5 135.6 876.5 135.0 879.5 134.5 882.5 133.9 885.5 133.3 888.5 132.8 891.5 132.2 894.5 131.7 897.5 131.1 900.5 130.6 903.5 130.0 906.5 129.5 909.5 129.0 912.5 128.4 915.5 127.9 918.5 127.4 921.5 126.8 924.5 126.3 927.5 125.8 930.5 125.2 933.5 124.7 936.5 124.2 939.5 123.7 942.5 123.2 945.5 122.6 948.5 122.1 951.5 121.6 954.5 121.1 957.5 120.6 960.5 120.1 963.5 119.6 966.5 119.2 969.5 118.7 972.5 118.2 975.5 117.7 978.5 117.3 981.5 116.8 984.5 116.3 987.5 115.9 990.5 115.5 993.5 115.0 996.5 114.6 999.5 114.2 1002.5 113.7 1005.5 113.3 1008.5 112.9 1011.5 112.5 1014.5 112.2 1017.5 111.8 1020.5 111.4 1023.5 111.0 1026.5 110.7 1029.5 110.3 1032.5 110.0 1035.5 109.6 1038.5 109.3 1041.5 109.0 1044.5 108.6 1047.5 108.3 1050.5 108.0 1053.5 107.7 1056.5 107.4 1059.5 107.1 1062.5 106.8 1065.5 106.5 1068.5 106.3 1071.5 106.0 1074.5 105.7 1077.5 105.5 1080.5 105.2 1083.5 105.0 1086.5 104.7 1089.5 104.5 1092.5 104.3 1095.5 104.0 1098.5 103.8 1101.5 103.6 1104.5 103.4 1107.5 103.2 1110.5 103.0 1113.5 102.8 1116.5 102.6 1119.5 102.5 1122.5 102.3 1125.5 102.1 1128.5 101.9 1131.5 101.8 1134.5 101.6 1137.5 101.5 1140.5 101.3 1143.5 101.2 1146.5 101.1 1149.5 100.9 1152.5 100.8 1155.5 100.7 1158.5 100.6 1161.5 100.5 1164.5 100.3 1167.5 100.2 1170.5 100.1 1173.5 100.1 1176.5 100.0 1179.5 99.9 1182.5 99.8 1185.5 99.7 1188.5 99.7 1191.5 99.6 1194.5 99.5 1197.5 99.5 1200.5 99.4 1203.5 99.4 1206.5 99.3 1209.5 99.3 1212.5 99.2 1215.5 99.2 1218.5 99.2 1221.5 99.1 1224.5 99.1 1227.5 99.1 1230.5 99.1 1233.5 99.1 1236.5 99.1 1239.5 99.0 1242.5 99.0 1245.5 99.0 1248.5 99.1 1251.5 99.1 1254.5 99.1 1257.5 99.1 1260.5 99.1 1263.5 99.1 1266.5 99.2 1269.5 99.2 1272.5 99.2 1275.5 99.3 1278.5 99.3 1281.5 99.3 1284.5 99.4 1287.5 99.4 1290.5 99.5 1293.5 99.5 1296.5 99.6 1299.5 99.6 1302.5 99.7 1305.5 99.8 1308.5 99.8 1311.5 99.9 1314.5 100.0 1317.5 100.1 1320.5 100.2 1323.5 100.2 1326.5 100.3 1329.5 100.4 1332.5 100.5 1335.5 100.6 1338.5 100.7 1341.5 100.9 1344.5 101.0 1347.5 101.1 1350.5 101.2 1353.5 101.3 1356.5 101.5 1359.5 101.6 1362.5 101.7 1365.5 101.9 1368.5 102.0 1371.5 102.2 1374.5 102.3 1377.5 102.5 1380.5 102.6 1383.5 102.8 1386.5 103.0 1389.5 103.1 1392.5 103.3 1395.5 103.5 1398.5 103.7 1401.5 103.9 1404.5 104.1 1407.5 104.3 1410.5 104.5 1413.5 104.7 1416.5 104.9 1419.5 105.1 1422.5 105.3 1425.5 105.5 1428.5 105.8 1431.5 106.0 1434.5 106.2 1437.5 106.5 1440.5 106.7 1443.5 107.0 1446.5 107.3 1449.5 107.5 1452.5 107.8 1455.5 108.1 1458.5 108.3 1461.5 108.6 1464.5 108.9 1467.5 109.2 1470.5 109.5 1473.5 109.8 1476.5 110.1 1479.5 110.4 1482.5 110.7 1485.5 111.0 1488.5 111.4 1491.5 111.7 1494.5 112.0 1497.5 112.4 1500.5 112.7 1503.5 113.1 1506.5 113.4 1509.5 113.8 1512.5 114.2 1515.5 114.5 1518.5 114.9 1521.5 115.3 1524.5 115.7 1527.5 116.1 1530.5 116.5 1533.5 116.9 1536.5 117.3 1539.5 117.7 1542.5 118.1 1545.5 118.6 1548.5 119.0 1551.5 119.4 1554.5 119.9 1557.5 120.3 1560.5 120.8 1563.5 121.3 1566.5 121.7 1569.5 122.2 1572.5 122.7 1575.5 123.2 1578.5 123.7 1581.5 124.2 1584.5 124.7 1587.5 125.2 1590.5 125.7 1593.5 126.2 1596.5 126.7 1599.5 127.3 1602.5 127.8 1605.5 128.4 1608.5 128.9 1611.5 129.5 1614.5 130.0 1617.5 130.6 1620.5 131.2 1623.5 131.8 1626.5 132.4 1629.5 132.9 1632.5 133.6 1635.5 134.2 1638.5 134.8 1641.5 135.4 1644.5 136.0 1647.5 136.7 1650.5 137.3 1653.5 138.0 1656.5 138.6 1659.5 139.3 1662.5 139.9 1665.5 140.6 1668.5 141.3 1671.5 142.0 1674.5 142.7 1677.5 143.4 1680.5 144.1 1683.5 144.8 1686.5 145.5 1689.5 146.3 1692.5 147.0 1695.5 147.8 1698.5 148.5 1701.5 149.3 1704.5 150.0 1707.5 150.8 1710.5 151.6 1713.5 152.4 1716.5 153.2 1719.5 154.0 1722.5 154.8 1725.5 155.6 1728.5 156.4 1731.5 157.3 1734.5 158.1 1737.5 158.9 1740.5 159.8 1743.5 160.7 1746.5 161.5 1749.5 162.4 1752.5 163.3 1755.5 164.2 1758.5 165.1 1761.5 166.0 1764.5 166.9 1767.5 167.8 1770.5 168.7 1773.5 169.7 1776.5 170.6 1779.5 171.6 1782.5 172.5 1785.5 173.5 1788.5 174.5 1791.5 175.5 1794.5 176.5 1797.5 177.5 1800.5 178.5 1803.5 179.5 1806.5 180.5 1809.5 181.6 1812.5 182.6 1815.5 183.6 1818.5 184.7 1821.5 185.8 1824.5 186.8 1827.5 187.9 1830.5 189.0 1833.5 190.1 1836.5 191.2 1839.5 192.3 1842.5 193.5 1845.5 194.6 1848.5 195.7 1851.5 196.9 1854.5 198.0 1857.5 199.2 1860.5 200.4" stroke="#FF55FF"/>
<path d="M66.5 437.2 69.5 435.3 72.5 433.4 75.5 431.5 78.5 429.6 81.5 427.7 84.5 425.8 87.5 424.0 90.5 422.1 93.5 420.3 96.5 418.4 99.5 416.6 102.5 414.8 105.5 412.9 108.5 411.1 111.5 409.3 114.5 407.5 117.5 405.7 120.5 403.9 123.5 402.2 126.5 400.4 129.5 398.6 132.5 396.9 135.5 395.1 138.5 393.4 141.5 391.7 144.5 389.9 147.5 388.2 150.5 386.5 153.5 384.8 156.5 383.1 159.5 381.4 162.5 379.7 165.5 378.1 168.5 376.4 171.5 374.7 174.5 373.1 177.5 371.4 180.5 369.8 183.5 368.2 186.5 366.5 189.5 364.9 192.5 363.3 195.5 361.7 198.5 360.1 201.5 358.5 204.5 356.9 207.5 355.3 210.5 353.8 213.5 352.2 216.5 350.6 219.5 349.1 222.5 347.5 225.5 346.0 228.5 344.5 231.5 343.0 234.5 341.4 237.5 339.9 240.5 338.4 243.5 336.9 246.5 335.4 249.5 333.9 252.5 332.5 255.5 331.0 258.5 329.5 261.5 328.0 264.5 326.6 267.5 325.1 270.5 323.7 273.5 322.3 276.5 320.8 279.5 319.4 282.5 318.0 285.5 316.6 288.5 315.2 291.5 313.8 294.5 312.4 297.5 311.0 300.5 309.6 303.5 308.3 306.5 306.9 309.5 305.5 312.5 304.2 315.5 302.8 318.5 301.5 321.5 300.1 324.5 298.8 327.5 297.5 330.5 296.2 333.5 294.9 336.5 293.5 339.5 292.2 342.5 291.0 345.5 289.7 348.5 288.4 351.5 287.1 354.5 285.8 357.5 284.6 360.5 283.3 363.5 282.0 366.5 280.8 369.5 279.6 372.5 278.3 375.5 277.1 378.5 275.9 381.5 274.6 384.5 273.4 387.5 272.2 390.5 271.0 393.5 269.8 396.5 268.6 399.5 267.4 402.5 266.2 405.5 265.1 408.5 263.9 411.5 262.7 414.5 261.6 417.5 260.4 420.5 259.3 423.5 258.1 426.5 257.0 429.5 255.9 432.5 254.7 435.5 253.6 438.5 252.5 441.5 251.4 444.5 250.3 447.5 249.2 450.5 248.1 453.5 247.0 456.5 245.9 459.5 244.8 462.5 243.7 465.5 242.7 468.5 241.6 471.5 240.5 474.5 239.5 477.5 238.4 480.5 237.4 483.5 236.4 486.5 235.3 489.5 234.3 492.5 233.3 495.5 232.2 498.5 231.2 501.5 230.2 504.5 229.2 507.5 228.2 510.5 227.2 513.5 226.2 516.5 225.2 519.5 224.2 522.5 223.3 525.5 222.3 528.5 221.3 531.5 220.4 534.5 219.4 537.5 218.5 540.5 217.5 543.5 216.6 546.5 215.6 549.5 214.7 552.5 213.8 555.5 212.8 558.5 211.9 561.5 211.0 564.5 210.1 567.5 209.2 570.5 208.3 573.5 207.4 576.5 206.5 579.5 205.6 582.5 204.7 585.5 203.8 588.5 202.9 591.5 202.1 594.5 201.2 597.5 200.3 600.5 199.5 603.5 198.6 606.5 197.8 609.5 196.9 612.5 196.1 615.5 195.2 618.5 194.4 621.5 193.6 624.5 192.7 627.5 191.9 630.5 191.1 633.5 190.3 636.5 189.5 639.5 188.6 642.5 187.8 645.5 187.0 648.5 186.3 651.5 185.5 654.5 184.7 657.5 183.9 660.5 183.1 663.5 182.3 666.5 181.6 669.5 180.8 672.5 180.0 675.5 179.3 678.5 178.5 681.5 177.8 684.5 177.0 687.5 176.3 690.5 175.5 693.5 174.8 696.5 174.0 699.5 173.3 702.5 172.6 705.5 171.9 708.5 171.1 711.5 170.4 714.5 169.7 717.5 169.0 720.5 168.3 723.5 167.6 726.5 166.9 729.5 166.2 732.5 165.5 735.5 164.8 738.5 164.1 741.5 163.4 744.5 162.7 747.5 162.1 750.5 161.4 753.5 160.7 756.5 160.1 759.5 159.4 762.5 158.7 765.5 158.1 768.5 157.4 771.5 156.8 774.5 156.1 777.5 155.5 780.5 154.8 783.5 154.2 786.5 153.5 789.5 152.9 792.5 152.3 795.5 151.7 798.5 151.0 801.5 150.4 804.5 149.8 807.5 149.2 810.5 148.6 813.5 147.9 816.5 147.3 819.5 146.7 822.5 146.1 825.5 145.5 828.5 144.9 831.5 144.3 834.5 143.7 837.5 143.2 840.5 142.6 843.5 142.0 846.5 141.4 849.5 140.8 852.5 140.2 855.5 139.7 858.5 139.1 861.5 138.5 864.5 138.0 867.5 137.4 870.5 136.8 873.5 136.3 876.5 135.7 879.5 135.2 882.5 134.6 885.5 134.1 888.5 133.5 891.5 133.0 894.5 132.4 897.5 131.9 900.5 131.4 903.5 130.8 906.5 130.3 909.5 129.7 912.5 129.2 915.5 128.7 918.5 128.2 921.5 127.6 924.5 127.1 927.5 126.6 930.5 126.1 933.5 125.6 936.5 125.1 939.5 124.5 942.5 124.0 945.5 123.5 948.5 123.0 951.5 122.5 954.5 122.0 957.5 121.6 960.5 121.1 963.5 120.6 966.5 120.1 969.5 119.6 972.5 119.2 975.5 118.7 978.5 118.3 981.5 117.8 984.5 117.4 987.5 117.0 990.5 116.5 993.5 116.1 996.5 115.7 999.5 115.3 1002.5 114.9 1005.5 114.5 1008.5 114.1 1011.5 113.8 1014.5 113.4 1017.5 113.0 1020.5 112.7 1023.5 112.4 1026.5 112.0 1029.5 111.7 1032.5 111.4 1035.5 111.1 1038.5 110.7 1041.5 110.4 1044.5 110.2 1047.5 109.9 1050.5 109.6 1053.5 109.3 1056.5 109.0 1059.5 108.8 1062.5 108.5 1065.5 108.3 1068.5 108.0 1071.5 107.8 1074.5 107.6 1077.5 107.4 1080.5 107.2 1083.5 106.9 1086.5 106.7 1089.5 106.6 1092.5 106.4 1095.5 106.2 1098.5 106.0 1101.5 105.8 1104.5 105.7 1107.5 105.5 1110.5 105.4 1113.5 105.2 1116.5 105.1 1119.5 104.9 1122.5 104.8 1125.5 104.7 1128.5 104.6 1131.5 104.4 1134.5 104.3 1137.5 104.2 1140.5 104.1 1143.5 104.0 1146.5 104.0 1149.5 103.9 1152.5 103.8 1155.5 103.7 1158.5 103.7 1161.5 103.6 1164.5 103.5 1167.5 103.5 1170.5 103.4 1173.5 103.4 1176.5 103.4 1179.5 103.3 1182.5 103.3 1185.5 103.3 1188.5 103.3 1191.5 103.3 1194.5 103.2 1197.5 103.2 1200.5 103.2 1203.5 103.2 1206.5 103.2 1209.5 103.3 1212.5 103.3 1215.5 103.3 1218.5 103.3 1221.5 103.3 1224.5 103.4 1227.5 103.4 1230.5 103.5 1233.5 103.5 1236.5 103.6 1239.5 103.6 1242.5 103.7 1245.5 103.7 1248.5 103.8 1251.5 103.8 1254.5 103.9 1257.5 104.0 1260.5 104.1 1263.5 104.1 1266.5 104.2 1269.5 104.3 1272.5 104.4 1275.5 104.5 1278.5 104.6 1281.5 104.7 1284.5 104.8 1287.5 104.9 1290.5 105.0 1293.5 105.1 1296.5 105.2 1299.5 105.3 1302.5 105.5 1305.5 105.6 1308.5 105.7 1311.5 105.8 1314.5 106.0 1317.5 106.1 1320.5 106.2 1323.5 106.4 1326.5 106.5 1329.5 106.7 1332.5 106.8 1335.5 107.0 1338.5 107.2 1341.5 107.3 1344.5 107.5 1347.5 107.6 1350.5 107.8 1353.5 108.0 1356.5 108.2 1359.5 108.4 1362.5 108.6 1365.5 108.7 1368.5 108.9 1371.5 109.1 1374.5 109.3 1377.5 109.5 1380.5 109.8 1383.5 110.0 1386.5 110.2 1389.5 110.4 1392.5 110.6 1395.5 110.9 1398.5 111.1 1401.5 111.3 1404.5 111.6 1407.5 111.8 1410.5 112.1 1413.5 112.3 1416.5 112.6 1419.5 112.8 1422.5 113.1 1425.5 113.4 1428.5 113.6 1431.5 113.9 1434.5 114.2 1437.5 114.5 1440.5 114.8 1443.5 115.1 1446.5 115.4 1449.5 115.7 1452.5 116.0 1455.5 116.3 1458.5 116.6 1461.5 116.9 1464.5 117.3 1467.5 117.6 1470.5 117.9 1473.5 118.3 1476.5 118.6 1479.5 119.0 1482.5 119.3 1485.5 119.7 1488.5 120.1 1491.5 120.4 1494.5 120.8 1497.5 121.2 1500.5 121.6 1503.5 122.0 1506.5 122.3 1509.5 122.7 1512.5 123.1 1515.5 123.6 1518.5 124.0 1521.5 124.4 1524.5 124.8 1527.5 125.2 1530.5 125.7 1533.5 126.1 1536.5 126.6 1539.5 127.0 1542.5 127.5 1545.5 127.9 1548.5 128.4 1551.5 128.9 1554.5 129.3 1557.5 129.8 1560.5 130.3 1563.5 130.8 1566.5 131.3 1569.5 131.8 1572.5 132.3 1575.5 132.8 1578.5 133.3 1581.5 133.9 1584.5 134.4 1587.5 134.9 1590.5 135.5 1593.5 136.0 1596.5 136.6 1599.5 137.1 1602.5 137.7 1605.5 138.3 1608.5 138.8 1611.5 139.4 1614.5 140.0 1617.5 140.6 1620.5 141.2 1623.5 141.8 1626.5 142.4 1629.5 143.0 1632.5 143.7 1635.5 144.3 1638.5 144.9 1641.5 145.6 1644.5 146.2 1647.5 146.9 1650.5 147.5 1653.5 148.2 1656.5 148.9 1659.5 149.5 1662.5 150.2 1665.5 150.9 1668.5 151.6 1671.5 152.3 1674.5 153.0 1677.5 153.8 1680.5 154.5 1683.5 155.2 1686.5 155.9 1689.5 156.7 1692.5 157.4 1695.5 158.2 1698.5 159.0 1701.5 159.7 1704.5 160.5 1707.5 161.3 1710.5 162.1 1713.5 162.9 1716.5 163.7 1719.5 164.5 1722.5 165.3 1725.5 166.1 1728.5 167.0 1731.5 167.8 1734.5 168.7 1737.5 169.5 1740.5 170.4 1743.5 171.2 1746.5 172.1 1749.5 173.0 1752.5 173.9 1755.5 174.8 1758.5 175.7 1761.5 176.6 1764.5 177.5 1767.5 178.4 1770.5 179.3 1773.5 180.3 1776.5 181.2 1779.5 182.2 1782.5 183.1 1785.5 184.1 1788.5 185.1 1791.5 186.1 1794.5 187.1 1797.5 188.1 1800.5 189.1 1803.5 190.1 1806.5 191.1 1809.5 192.1 1812.5 193.2 1815.5 194.2 1818.5 195.2 1821.5 196.3 1824.5 197.4 1827.5 198.4 1830.5 199.5 1833.5 200.6 1836.5 201.7 1839.5 202.8 1842.5 203.9 1845.5 205.1 1848.5 206.2 1851.5 207.3 1854.5 208.5 1857.5 209.6 1860.5 210.8" stroke="#55FFFF"/>
<path d="M66.5 437.3 69.5 435.4 72.5 433.5 75.5 431.6 78.5 429.7 81.5 427.8 84.5 426.0 87.5 424.1 90.5 422.3 93.5 420.4 96.5 418.6 99.5 416.7 102.5 414.9 105.5 413.1 108.5 411.3 111.5 409.5 114.5 407.7 117.5 405.9 120.5 404.1 123.5 402.4 126.5 400.6 129.5 398.9 132.5 397.1 135.5 395.4 138.5 393.6 141.5 391.9 144.5 390.2 147.5 388.5 150.5 386.8 153.5 385.1 156.5 383.4 159.5 381.7 162.5 380.0 165.5 378.3 168.5 376.7 171.5 375.0 174.5 373.3 177.5 371.7 180.5 370.1 183.5 368.4 186.5 366.8 189.5 365.2 192.5 363.6 195.5 362.0 198.5 360.4 201.5 358.8 204.5 357.2 207.5 355.6 210.5 354.1 213.5 352.5 216.5 350.9 219.5 349.4 222.5 347.8 225.5 346.3 228.5 344.8 231.5 343.2 234.5 341.7 237.5 340.2 240.5 338.7 243.5 337.2 246.5 335.7 249.5 334.2 252.5 332.7 255.5 331.3 258.5 329.8 261.5 328.3 264.5 326.9 267.5 325.4 270.5 324.0 273.5 322.6 276.5 321.1 279.5 319.7 282.5 318.3 285.5 316.9 288.5 315.5 291.5 314.1 294.5 312.7 297.5 311.3 300.5 309.9 303.5 308.6 306.5 307.2 309.5 305.8 312.5 304.5 315.5 303.1 318.5 301.8 321.5 300.4 324.5 299.1 327.5 297.8 330.5 296.5 333.5 295.1 336.5 293.8 339.5 292.5 342.5 291.2 345.5 289.9 348.5 288.7 351.5 287.4 354.5 286.1 357.5 284.8 360.5 283.6 363.5 282.3 366.5 281.1 369.5 279.8 372.5 278.6 375.5 277.4 378.5 276.1 381.5 274.9 384.5 273.7 387.5 272.5 390.5 271.3 393.5 270.1 396.5 268.9 399.5 267.7 402.5 266.5 405.5 265.3 408.5 264.2 411.5 263.0 414.5 261.8 417.5 260.7 420.5 259.5 423.5 258.4 426.5 257.3 429.5 256.1 432.5 255.0 435.5 253.9 438.5 252.8 441.5 251.6 444.5 250.5 447.5 249.4 450.5 248.3 453.5 247.2 456.5 246.2 459.5 245.1 462.5 244.0 465.5 242.9 468.5 241.9 471.5 240.8 474.5 239.7 477.5 238.7 480.5 237.7 483.5 236.6 486.5 235.6 489.5 234.5 492.5 233.5 495.5 232.5 498.5 231.5 501.5 230.5 504.5 229.5 507.5 228.5 510.5 227.5 513.5 226.5 516.5 225.5 519.5 224.5 522.5 223.5 525.5 222.6 528.5 221.6 531.5 220.6 534.5 219.7 537.5 218.7 540.5 217.8 543.5 216.8 546.5 215.9 549.5 215.0 552.5 214.0 555.5 213.1 558.5 212.2 561.5 211.3 564.5 210.4 567.5 209.5 570.5 208.6 573.5 207.7 576.5 206.8 579.5 205.9 582.5 205.0 585.5 204.1 588.5 203.2 591.5 202.4 594.5 201.5 597.5 200.6 600.5 199.8 603.5 198.9 606.5 198.1 609.5 197.2 612.5 196.4 615.5 195.6 618.5 194.7 621.5 193.9 624.5 193.1 627.5 192.3 630.5 191.4 633.5 190.6 636.5 189.8 639.5 189.0 642.5 188.2 645.5 187.4 648.5 186.6 651.5 185.8 654.5 185.1 657.5 184.3 660.5 183.5 663.5 182.7 666.5 182.0 669.5 181.2 672.5 180.4 675.5 179.7 678.5 178.9 681.5 178.2 684.5 177.4 687.5 176.7 690.5 176.0 693.5 175.2 696.5 174.5 699.5 173.8 702.5 173.1 705.5 172.3 708.5 171.6 711.5 170.9 714.5 170.2 717.5 169.5 720.5 168.8 723.5 168.1 726.5 167.4 729.5 166.7 732.5 166.0 735.5 165.4 738.5 164.7 741.5 164.0 744.5 163.3 747.5 162.7 750.5 162.0 753.5 161.3 756.5 160.7 759.5 160.0 762.5 159.3 765.5 158.7 768.5 158.0 771.5 157.4 774.5 156.8 777.5 156.1 780.5 155.5 783.5 154.8 786.5 154.2 789.5 153.6 792.5 153.0 795.5 152.3 798.5 151.7 801.5 151.1 804.5 150.5 807.5 149.9 810.5 149.3 813.5 148.7 816.5 148.1 819.5 147.5 822.5 146.9 825.5 146.3 828.5 145.7 831.5 145.1 834.5 144.5 837.5 143.9 840.5 143.3 843.5 142.8 846.5 142.2 849.5 141.6 852.5 141.0 855.5 140.5 858.5 139.9 861.5 139.3 864.5 138.8 867.5 138.2 870.5 137.7 873.5 137.1 876.5 136.5 879.5 136.0 882.5 135.4 885.5 134.9 888.5 134.4 891.5 133.8 894.5 133.3 897.5 132.7 900.5 132.2 903.5 131.7 906.5 131.1 909.5 130.6 912.5 130.1 915.5 129.5 918.5 129.0 921.5 128.5 924.5 128.0 927.5 127.5 930.5 126.9 933.5 126.4 936.5 125.9 939.5 125.4 942.5 124.9 945.5 124.4 948.5 123.9 951.5 123.4 954.5 122.9 957.5 122.4 960.5 121.9 963.5 121.5 966.5 121.0 969.5 120.5 972.5 120.1 975.5 119.6 978.5 119.2 981.5 118.7 984.5 118.3 987.5 117.9 990.5 117.4 993.5 117.0 996.5 116.6 999.5 116.2 1002.5 115.8 1005.5 115.5 1008.5 115.1 1011.5 114.7 1014.5 114.4 1017.5 114.1 1020.5 113.7 1023.5 113.4 1026.5 113.1 1029.5 112.8 1032.5 112.5 1035.5 112.2 1038.5 111.9 1041.5 111.6 1044.5 111.3 1047.5 111.1 1050.5 110.8 1053.5 110.6 1056.5 110.3 1059.5 110.1 1062.5 109.9 1065.5 109.7 1068.5 109.5 1071.5 109.3 1074.5 109.1 1077.5 108.9 1080.5 108.7 1083.5 108.5 1086.5 108.4 1089.5 108.2 1092.5 108.1 1095.5 107.9 1098.5 107.8 1101.5 107.6 1104.5 107.5 1107.5 107.4 1110.5 107.3 1113.5 107.2 1116.5 107.1 1119.5 107.0 1122.5 106.9 1125.5 106.8 1128.5 106.7 1131.5 106.7 1134.5 106.6 1137.5 106.6 1140.5 106.5 1143.5 106.5 1146.5 106.4 1149.5 106.4 1152.5 106.4 1155.5 106.4 1158.5 106.3 1161.5 106.3 1164.5 106.3 1167.5 106.3 1170.5 106.3 1173.5 106.3 1176.5 106.4 1179.5 106.4 1182.5 106.4 1185.5 106.5 1188.5 106.5 1191.5 106.5 1194.5 106.6 1197.5 106.6 1200.5 106.7 1203.5 106.8 1206.5 106.8 1209.5 106.9 1212.5 107.0 1215.5 107.1 1218.5 107.1 1221.5 107.2 1224.5 107.3 1227.5 107.4 1230.5 107.5 1233.5 107.6 1236.5 107.7 1239.5 107.9 1242.5 108.0 1245.5 108.1 1248.5 108.2 1251.5 108.4 1254.5 108.5 1257.5 108.6 1260.5 108.8 1263.5 108.9 1266.5 109.1 1269.5 109.2 1272.5 109.4 1275.5 109.6 1278.5 109.7 1281.5 109.9 1284.5 110.1 1287.5 110.2 1290.5 110.4 1293.5 110.6 1296.5 110.8 1299.5 111.0 1302.5 111.1 1305.5 111.3 1308.5 111.5 1311.5 111.7 1314.5 111.9 1317.5 112.1 1320.5 112.3 1323.5 112.5 1326.5 112.8 1329.5 113.0 1332.5 113.2 1335.5 113.4 1338.5 113.6 1341.5 113.9 1344.5 114.1 1347.5 114.3 1350.5 114.6 1353.5 114.8 1356.5 115.0 1359.5 115.3 1362.5 115.5 1365.5 115.8 1368.5 116.1 1371.5 116.3 1374.5 116.6 1377.5 116.9 1380.5 117.1 1383.5 117.4 1386.5 117.7 1389.5 118.0 1392.5 118.2 1395.5 118.5 1398.5 118.8 1401.5 119.1 1404.5 119.4 1407.5 119.7 1410.5 120.0 1413.5 120.3 1416.5 120.7 1419.5 121.0 1422.5 121.3 1425.5 121.6 1428.5 122.0 1431.5 122.3 1434.5 122.6 1437.5 123.0 1440.5 123.3 1443.5 123.7 1446.5 124.0 1449.5 124.4 1452.5 124.8 1455.5 125.1 1458.5 125.5 1461.5 125.9 1464.5 126.3 1467.5 126.6 1470.5 127.0 1473.5 127.4 1476.5 127.8 1479.5 128.2 1482.5 128.6 1485.5 129.0 1488.5 129.4 1491.5 129.9 1494.5 130.3 1497.5 130.7 1500.5 131.2 1503.5 131.6 1506.5 132.0 1509.5 132.5 1512.5 132.9 1515.5 133.4 1518.5 133.8 1521.5 134.3 1524.5 134.8 1527.5 135.3 1530.5 135.7 1533.5 136.2 1536.5 136.7 1539.5 137.2 1542.5 137.7 1545.5 138.2 1548.5 138.7 1551.5 139.2 1554.5 139.7 1557.5 140.3 1560.5 140.8 1563.5 141.3 1566.5 141.9 1569.5 142.4 1572.5 143.0 1575.5 143.5 1578.5 144.1 1581.5 144.6 1584.5 145.2 1587.5 145.8 1590.5 146.4 1593.5 147.0 1596.5 147.5 1599.5 148.1 1602.5 148.7 1605.5 149.4 1608.5 150.0 1611.5 150.6 1614.5 151.2 1617.5 151.8 1620.5 152.5 1623.5 153.1 1626.5 153.8 1629.5 154.4 1632.5 155.1 1635.5 155.7 1638.5 156.4 1641.5 157.1 1644.5 157.8 1647.5 158.4 1650.5 159.1 1653.5 159.8 1656.5 160.5 1659.5 161.2 1662.5 162.0 1665.5 162.7 1668.5 163.4 1671.5 164.1 1674.5 164.9 1677.5 165.6 1680.5 166.4 1683.5 167.1 1686.5 167.9 1689.5 168.7 1692.5 169.4 1695.5 170.2 1698.5 171.0 1701.5 171.8 1704.5 172.6 1707.5 173.4 1710.5 174.2 1713.5 175.0 1716.5 175.9 1719.5 176.7 1722.5 177.5 1725.5 178.4 1728.5 179.2 1731.5 180.1 1734.5 181.0 1737.5 181.8 1740.5 182.7 1743.5 183.6 1746.5 184.5 1749.5 185.4 1752.5 186.3 1755.5 187.2 1758.5 188.1 1761.5 189.0 1764.5 190.0 1767.5 190.9 1770.5 191.9 1773.5 192.8 1776.5 193.8 1779.5 194.7 1782.5 195.7 1785.5 196.7 1788.5 197.7 1791.5 198.7 1794.5 199.7 1797.5 200.7 1800.5 201.7 1803.5 202.7 1806.5 203.7 1809.5 204.8 1812.5 205.8 1815.5 206.9 1818.5 207.9 1821.5 209.0 1824.5 210.1 1827.5 211.1 1830.5 212.2 1833.5 213.3 1836.5 214.4 1839.5 215.5 1842.5 216.7 1845.5 217.8 1848.5 218.9 1851.5 220.0 1854.5 221.2 1857.5 222.3 1860.5 223.5" stroke="#FFAA00"/>
<path d="M66.5 437.3 69.5 435.4 72.5 433.5 75.5 431.7 78.5 429.8 81.5 427.9 84.5 426.1 87.5 424.2 90.5 422.4 93.5 420.5 96.5 418.7 99.5 416.9 102.5 415.0 105.5 413.2 108.5 411.4 111.5 409.6 114.5 407.8 117.5 406.1 120.5 404.3 123.5 402.5 126.5 400.8 129.5 399.0 132.5 397.3 135.5 395.5 138.5 393.8 141.5 392.1 144.5 390.4 147.5 388.6 150.5 386.9 153.5 385.2 156.5 383.5 159.5 381.9 162.5 380.2 165.5 378.5 168.5 376.9 171.5 375.2 174.5 373.5 177.5 371.9 180.5 370.3 183.5 368.6 186.5 367.0 189.5 365.4 192.5 363.8 195.5 362.2 198.5 360.6 201.5 359.0 204.5 357.4 207.5 355.8 210.5 354.3 213.5 352.7 216.5 351.1 219.5 349.6 222.5 348.1 225.5 346.5 228.5 345.0 231.5 343.5 234.5 341.9 237.5 340.4 240.5 338.9 243.5 337.4 246.5 335.9 249.5 334.5 252.5 333.0 255.5 331.5 258.5 330.0 261.5 328.6 264.5 327.1 267.5 325.7 270.5 324.2 273.5 322.8 276.5 321.4 279.5 319.9 282.5 318.5 285.5 317.1 288.5 315.7 291.5 314.3 294.5 312.9 297.5 311.5 300.5 310.2 303.5 308.8 306.5 307.4 309.5 306.0 312.5 304.7 315.5 303.3 318.5 302.0 321.5 300.7 324.5 299.3 327.5 298.0 330.5 296.7 333.5 295.4 336.5 294.1 339.5 292.8 342.5 291.5 345.5 290.2 348.5 288.9 351.5 287.6 354.5 286.3 357.5 285.1 360.5 283.8 363.5 282.5 366.5 281.3 369.5 280.0 372.5 278.8 375.5 277.6 378.5 276.3 381.5 275.1 384.5 273.9 387.5 272.7 390.5 271.5 393.5 270.3 396.5 269.1 399.5 267.9 402.5 266.7 405.5 265.5 408.5 264.4 411.5 263.2 414.5 262.0 417.5 260.9 420.5 259.7 423.5 258.6 426.5 257.5 429.5 256.3 432.5 255.2 435.5 254.1 438.5 252.9 441.5 251.8 444.5 250.7 447.5 249.6 450.5 248.5 453.5 247.4 456.5 246.3 459.5 245.3 462.5 244.2 465.5 243.1 468.5 242.1 471.5 241.0 474.5 239.9 477.5 238.9 480.5 237.8 483.5 236.8 486.5 235.8 489.5 234.7 492.5 233.7 495.5 232.7 498.5 231.7 501.5 230.7 504.5 229.7 507.5 228.7 510.5 227.7 513.5 226.7 516.5 225.7 519.5 224.7 522.5 223.7 525.5 222.8 528.5 221.8 531.5 220.8 534.5 219.9 537.5 218.9 540.5 218.0 543.5 217.0 546.5 216.1 549.5 215.2 552.5 214.2 555.5 213.3 558.5 212.4 561.5 211.5 564.5 210.6 567.5 209.7 570.5 208.8 573.5 207.9 576.5 207.0 579.5 206.1 582.5 205.2 585.5 204.3 588.5 203.4 591.5 202.6 594.5 201.7 597.5 200.9 600.5 200.0 603.5 199.1 606.5 198.3 609.5 197.5 612.5 196.6 615.5 195.8 618.5 195.0 621.5 194.1 624.5 193.3 627.5 192.5 630.5 191.7 633.5 190.9 636.5 190.1 639.5 189.3 642.5 188.5 645.5 187.7 648.5 186.9 651.5 186.1 654.5 185.3 657.5 184.6 660.5 183.8 663.5 183.0 666.5 182.3 669.5 181.5 672.5 180.8 675.5 180.0 678.5 179.3 681.5 178.5 684.5 177.8 687.5 177.0 690.5 176.3 693.5 175.6 696.5 174.9 699.5 174.1 702.5 173.4 705.5 172.7 708.5 172.0 711.5 171.3 714.5 170.6 717.5 169.9 720.5 169.2 723.5 168.5 726.5 167.8 729.5 167.1 732.5 166.4 735.5 165.8 738.5 165.1 741.5 164.4 744.5 163.7 747.5 163.1 750.5 162.4 753.5 161.8 756.5 161.1 759.5 160.5 762.5 159.8 765.5 159.2 768.5 158.5 771.5 157.9 774.5 157.2 777.5 156.6 780.5 156.0 783.5 155.3 786.5 154.7 789.5 154.1 792.5 153.5 795.5 152.9 798.5 152.2 801.5 151.6 804.5 151.0 807.5 150.4 810.5 149.8 813.5 149.2 816.5 148.6 819.5 148.0 822.5 147.4 825.5 146.8 828.5 146.3 831.5 145.7 834.5 145.1 837.5 144.5 840.5 143.9 843.5 143.4 846.5 142.8 849.5 142.2 852.5 141.6 855.5 141.1 858.5 140.5 861.5 140.0 864.5 139.4 867.5 138.8 870.5 138.3 873.5 137.7 876.5 137.2 879.5 136.6 882.5 136.1 885.5 135.6 888.5 135.0 891.5 134.5 894.5 133.9 897.5 133.4 900.5 132.9 903.5 132.3 906.5 131.8 909.5 131.3 912.5 130.7 915.5 130.2 918.5 129.7 921.5 129.2 924.5 128.7 927.5 128.1 930.5 127.6 933.5 127.1 936.5 126.6 939.5 126.1 942.5 125.6 945.5 125.1 948.5 124.6 951.5 124.1 954.5 123.6 957.5 123.1 960.5 122.6 963.5 122.1 966.5 121.7 969.5 121.2 972.5 120.8 975.5 120.3 978.5 119.9 981.5 119.4 984.5 119.0 987.5 118.6 990.5 118.2 993.5 117.8 996.5 117.4 999.5 117.0 1002.5 116.6 1005.5 116.2 1008.5 115.9 1011.5 115.5 1014.5 115.2 1017.5 114.8 1020.5 114.5 1023.5 114.2 1026.5 113.9 1029.5 113.6 1032.5 113.3 1035.5 113.0 1038.5 112.8 1041.5 112.5 1044.5 112.2 1047.5 112.0 1050.5 111.8 1053.5 111.5 1056.5 111.3 1059.5 111.1 1062.5 110.9 1065.5 110.7 1068.5 110.5 1071.5 110.3 1074.5 110.1 1077.5 110.0 1080.5 109.8 1083.5 109.7 1086.5 109.5 1089.5 109.4 1092.5 109.3 1095.5 109.1 1098.5 109.0 1101.5 108.9 1104.5 108.8 1107.5 108.7 1110.5 108.6 1113.5 108.6 1116.5 108.5 1119.5 108.4 1122.5 108.4 1125.5 108.3 1128.5 108.3 1131.5 108.3 1134.5 108.2 1137.5 108.2 1140.5 108.2 1143.5 108.2 1146.5 108.2 1149.5 108.2 1152.5 108.2 1155.5 108.2 1158.5 108.3 1161.5 108.3 1164.5 108.3 1167.5 108.4 1170.5 108.4 1173.5 108.5 1176.5 108.5 1179.5 108.6 1182.5 108.7 1185.5 108.8 1188.5 108.9 1191.5 109.0 1194.5 109.0 1197.5 109.2 1200.5 109.3 1203.5 109.4 1206.5 109.5 1209.5 109.6 1212.5 109.8 1215.5 109.9 1218.5 110.0 1221.5 110.2 1224.5 110.3 1227.5 110.5 1230.5 110.7 1233.5 110.8 1236.5 111.0 1239.5 111.2 1242.5 111.4 1245.5 111.6 1248.5 111.8 1251.5 112.0 1254.5 112.2 1257.5 112.4 1260.5 112.6 1263.5 112.8 1266.5 113.0 1269.5 113.3 1272.5 113.5 1275.5 113.7 1278.5 114.0 1281.5 114.2 1284.5 114.5 1287.5 114.7 1290.5 115.0 1293.5 115.2 1296.5 115.5 1299.5 115.8 1302.5 116.1 1305.5 116.3 1308.5 116.6 1311.5 116.9 1314.5 117.2 1317.5 117.5 1320.5 117.8 1323.5 118.1 1326.5 118.4 1329.5 118.7 1332.5 119.0 1335.5 119.3 1338.5 119.6 1341.5 120.0 1344.5 120.3 1347.5 120.6 1350.5 121.0 1353.5 121.3 1356.5 121.7 1359.5 122.0 1362.5 122.4 1365.5 122.7 1368.5 123.1 1371.5 123.4 1374.5 123.8 1377.5 124.2 1380.5 124.5 1383.5 124.9 1386.5 125.3 1389.5 125.7 1392.5 126.1 1395.5 126.5 1398.5 126.9 1401.5 127.3 1404.5 127.7 1407.5 128.1 1410.5 128.5 1413.5 128.9 1416.5 129.3 1419.5 129.8 1422.5 130.2 1425.5 130.6 1428.5 131.1 1431.5 131.5 1434.5 131.9 1437.5 132.4 1440.5 132.8 1443.5 133.3 1446.5 133.8 1449.5 134.2 1452.5 134.7 1455.5 135.2 1458.5 135.6 1461.5 136.1 1464.5 136.6 1467.5 137.1 1470.5 137.6 1473.5 138.0 1476.5 138.5 1479.5 139.0 1482.5 139.5 1485.5 140.0 1488.5 140.6 1491.5 141.1 1494.5 141.6 1497.5 142.1 1500.5 142.6 1503.5 143.2 1506.5 143.7 1509.5 144.2 1512.5 144.8 1515.5 145.3 1518.5 145.9 1521.5 146.4 1524.5 147.0 1527.5 147.5 1530.5 148.1 1533.5 148.6 1536.5 149.2 1539.5 149.8 1542.5 150.4 1545.5 150.9 1548.5 151.5 1551.5 152.1 1554.5 152.7 1557.5 153.3 1560.5 153.9 1563.5 154.5 1566.5 155.1 1569.5 155.7 1572.5 156.3 1575.5 156.9 1578.5 157.5 1581.5 158.2 1584.5 158.8 1587.5 159.4 1590.5 160.1 1593.5 160.7 1596.5 161.3 1599.5 162.0 1602.5 162.6 1605.5 163.3 1608.5 164.0 1611.5 164.6 1614.5 165.3 1617.5 166.0 1620.5 166.6 1623.5 167.3 1626.5 168.0 1629.5 168.7 1632.5 169.4 1635.5 170.1 1638.5 170.8 1641.5 171.5 1644.5 172.2 1647.5 173.0 1650.5 173.7 1653.5 174.4 1656.5 175.2 1659.5 175.9 1662.5 176.7 1665.5 177.4 1668.5 178.2 1671.5 178.9 1674.5 179.7 1677.5 180.5 1680.5 181.3 1683.5 182.1 1686.5 182.9 1689.5 183.7 1692.5 184.5 1695.5 185.3 1698.5 186.1 1701.5 186.9 1704.5 187.7 1707.5 188.6 1710.5 189.4 1713.5 190.3 1716.5 191.1 1719.5 192.0 1722.5 192.9 1725.5 193.7 1728.5 194.6 1731.5 195.5 1734.5 196.4 1737.5 197.3 1740.5 198.2 1743.5 199.1 1746.5 200.1 1749.5 201.0 1752.5 201.9 1755.5 202.9 1758.5 203.8 1761.5 204.8 1764.5 205.8 1767.5 206.7 1770.5 207.7 1773.5 208.7 1776.5 209.7 1779.5 210.7 1782.5 211.7 1785.5 212.7 1788.5 213.8 1791.5 214.8 1794.5 215.8 1797.5 216.9 1800.5 218.0 1803.5 219.0 1806.5 220.1 1809.5 221.2 1812.5 222.3 1815.5 223.4 1818.5 224.5 1821.5 225.6 1824.5 226.7 1827.5 227.9 1830.5 229.0 1833.5 230.2 1836.5 231.3 1839.5 232.5 1842.5 233.7 1845.5 234.8 1848.5 236.0 1851.5 237.2 1854.5 238.5 1857.5 239.7 1860.5 240.9" stroke="#FFAAAA"/>
<path d="M66.5 437.1 69.5 435.2 72.5 433.4 75.5 431.5 78.5 429.7 81.5 427.8 84.5 426.0 87.5 424.1 90.5 422.3 93.5 420.5 96.5 418.7 99.5 416.9 102.5 415.1 105.5 413.3 108.5 411.5 111.5 409.7 114.5 407.9 117.5 406.2 120.5 404.4 123.5 402.6 126.5 400.9 129.5 399.1 132.5 397.4 135.5 395.7 138.5 394.0 141.5 392.2 144.5 390.5 147.5 388.8 150.5 387.1 153.5 385.5 156.5 383.8 159.5 382.1 162.5 380.4 165.5 378.8 168.5 377.1 171.5 375.5 174.5 373.8 177.5 372.2 180.5 370.5 183.5 368.9 186.5 367.3 189.5 365.7 192.5 364.1 195.5 362.5 198.5 360.9 201.5 359.3 204.5 357.7 207.5 356.1 210.5 354.6 213.5 353.0 216.5 351.5 219.5 349.9 222.5 348.4 225.5 346.8 228.5 345.3 231.5 343.8 234.5 342.3 237.5 340.7 240.5 339.2 243.5 337.7 246.5 336.2 249.5 334.8 252.5 333.3 255.5 331.8 258.5 330.3 261.5 328.9 264.5 327.4 267.5 326.0 270.5 324.5 273.5 323.1 276.5 321.6 279.5 320.2 282.5 318.8 285.5 317.4 288.5 316.0 291.5 314.6 294.5 313.2 297.5 311.8 300.5 310.4 303.5 309.0 306.5 307.6 309.5 306.3 312.5 304.9 315.5 303.6 318.5 302.2 321.5 300.9 324.5 299.5 327.5 298.2 330.5 296.9 333.5 295.6 336.5 294.2 339.5 292.9 342.5 291.6 345.5 290.3 348.5 289.0 351.5 287.8 354.5 286.5 357.5 285.2 360.5 283.9 363.5 282.7 366.5 281.4 369.5 280.2 372.5 278.9 375.5 277.7 378.5 276.4 381.5 275.2 384.5 274.0 387.5 272.8 390.5 271.6 393.5 270.4 396.5 269.2 399.5 268.0 402.5 266.8 405.5 265.6 408.5 264.4 411.5 263.2 414.5 262.1 417.5 260.9 420.5 259.8 423.5 258.6 426.5 257.5 429.5 256.3 432.5 255.2 435.5 254.1 438.5 252.9 441.5 251.8 444.5 250.7 447.5 249.6 450.5 248.5 453.5 247.4 456.5 246.3 459.5 245.2 462.5 244.1 465.5 243.1 468.5 242.0 471.5 240.9 474.5 239.9 477.5 238.8 480.5 237.8 483.5 236.7 486.5 235.7 489.5 234.7 492.5 233.6 495.5 232.6 498.5 231.6 501.5 230.6 504.5 229.6 507.5 228.6 510.5 227.6 513.5 226.6 516.5 225.6 519.5 224.6 522.5 223.7 525.5 222.7 528.5 221.7 531.5 220.8 534.5 219.8 537.5 218.9 540.5 217.9 543.5 217.0 546.5 216.0 549.5 215.1 552.5 214.2 555.5 213.3 558.5 212.4 561.5 211.4 564.5 210.5 567.5 209.6 570.5 208.7 573.5 207.9 576.5 207.0 579.5 206.1 582.5 205.2 585.5 204.3 588.5 203.5 591.5 202.6 594.5 201.8 597.5 200.9 600.5 200.1 603.5 199.2 606.5 198.4 609.5 197.6 612.5 196.7 615.5 195.9 618.5 195.1 621.5 194.3 624.5 193.5 627.5 192.7 630.5 191.9 633.5 191.1 636.5 190.3 639.5 189.5 642.5 188.7 645.5 188.0 648.5 187.2 651.5 186.4 654.5 185.7 657.5 184.9 660.5 184.2 663.5 183.4 666.5 182.7 669.5 181.9 672.5 181.2 675.5 180.5 678.5 179.7 681.5 179.0 684.5 178.3 687.5 177.6 690.5 176.9 693.5 176.1 696.5 175.4 699.5 174.7 702.5 174.0 705.5 173.3 708.5 172.6 711.5 172.0 714.5 171.3 717.5 170.6 720.5 169.9 723.5 169.2 726.5 168.5 729.5 167.9 732.5 167.2 735.5 166.5 738.5 165.9 741.5 165.2 744.5 164.5 747.5 163.9 750.5 163.2 753.5 162.6 756.5 161.9 759.5 161.3 762.5 160.6 765.5 160.0 768.5 159.3 771.5 158.7 774.5 158.0 777.5 157.4 780.5 156.7 783.5 156.1 786.5 155.5 789.5 154.8 792.5 154.2 795.5 153.6 798.5 152.9 801.5 152.3 804.5 151.7 807.5 151.0 810.5 150.4 813.5 149.8 816.5 149.2 819.5 148.5 822.5 147.9 825.5 147.3 828.5 146.7 831.5 146.1 834.5 145.5 837.5 144.9 840.5 144.3 843.5 143.7 846.5 143.1 849.5 142.5 852.5 141.9 855.5 141.3 858.5 140.7 861.5 140.1 864.5 139.5 867.5 138.9 870.5 138.4 873.5 137.8 876.5 137.2 879.5 136.6 882.5 136.1 885.5 135.5 888.5 135.0 891.5 134.4 894.5 133.9 897.5 133.3 900.5 132.8 903.5 132.2 906.5 131.7 909.5 131.2 912.5 130.6 915.5 130.1 918.5 129.6 921.5 129.1 924.5 128.6 927.5 128.1 930.5 127.6 933.5 127.1 936.5 126.6 939.5 126.1 942.5 125.6 945.5 125.1 948.5 124.7 951.5 124.2 954.5 123.8 957.5 123.3 960.5 122.9 963.5 122.4 966.5 122.0 969.5 121.6 972.5 121.1 975.5 120.7 978.5 120.3 981.5 119.9 984.5 119.5 987.5 119.1 990.5 118.8 993.5 118.4 996.5 118.0 999.5 117.7 1002.5 117.3 1005.5 117.0 1008.5 116.7 1011.5 116.4 1014.5 116.0 1017.5 115.7 1020.5 115.4 1023.5 115.2 1026.5 114.9 1029.5 114.6 1032.5 114.3 1035.5 114.1 1038.5 113.8 1041.5 113.6 1044.5 113.4 1047.5 113.1 1050.5 112.9 1053.5 112.7 1056.5 112.5 1059.5 112.3 1062.5 112.1 1065.5 111.9 1068.5 111.8 1071.5 111.6 1074.5 111.5 1077.5 111.3 1080.5 111.2 1083.5 111.0 1086.5 110.9 1089.5 110.8 1092.5 110.7 1095.5 110.6 1098.5 110.5 1101.5 110.4 1104.5 110.3 1107.5 110.2 1110.5 110.2 1113.5 110.1 1116.5 110.0 1119.5 110.0 1122.5 110.0 1125.5 109.9 1128.5 109.9 1131.5 109.9 1134.5 109.9 1137.5 109.9 1140.5 109.9 1143.5 109.9 1146.5 109.9 1149.5 109.9 1152.5 110.0 1155.5 110.0 1158.5 110.1 1161.5 110.1 1164.5 110.2 1167.5 110.2 1170.5 110.3 1173.5 110.4 1176.5 110.5 1179.5 110.6 1182.5 110.7 1185.5 110.8 1188.5 110.9 1191.5 111.0 1194.5 111.1 1197.5 111.3 1200.5 111.4 1203.5 111.6 1206.5 111.7 1209.5 111.9 1212.5 112.0 1215.5 112.2 1218.5 112.4 1221.5 112.6 1224.5 112.8 1227.5 113.0 1230.5 113.2 1233.5 113.4 1236.5 113.6 1239.5 113.8 1242.5 114.0 1245.5 114.3 1248.5 114.5 1251.5 114.8 1254.5 115.0 1257.5 115.3 1260.5 115.5 1263.5 115.8 1266.5 116.1 1269.5 116.4 1272.5 116.7 1275.5 117.0 1278.5 117.3 1281.5 117.6 1284.5 117.9 1287.5 118.2 1290.5 118.5 1293.5 118.9 1296.5 119.2 1299.5 119.6 1302.5 119.9 1305.5 120.3 1308.5 120.6 1311.5 121.0 1314.5 121.4 1317.5 121.7 1320.5 122.1 1323.5 122.5 1326.5 122.9 1329.5 123.3 1332.5 123.7 1335.5 124.1 1338.5 124.5 1341.5 125.0 1344.5 125.4 1347.5 125.8 1350.5 126.3 1353.5 126.7 1356.5 127.2 1359.5 127.6 1362.5 128.1 1365.5 128.5 1368.5 129.0 1371.5 129.5 1374.5 130.0 1377.5 130.4 1380.5 130.9 1383.5 131.4 1386.5 131.9 1389.5 132.4 1392.5 132.9 1395.5 133.4 1398.5 134.0 1401.5 134.5 1404.5 135.0 1407.5 135.5 1410.5 136.1 1413.5 136.6 1416.5 137.2 1419.5 137.7 1422.5 138.3 1425.5 138.8 1428.5 139.4 1431.5 140.0 1434.5 140.5 1437.5 141.1 1440.5 141.7 1443.5 142.3 1446.5 142.9 1449.5 143.5 1452.5 144.1 1455.5 144.7 1458.5 145.3 1461.5 145.9 1464.5 146.5 1467.5 147.1 1470.5 147.7 1473.5 148.4 1476.5 149.0 1479.5 149.6 1482.5 150.3 1485.5 150.9 1488.5 151.6 1491.5 152.2 1494.5 152.9 1497.5 153.5 1500.5 154.2 1503.5 154.9 1506.5 155.5 1509.5 156.2 1512.5 156.9 1515.5 157.5 1518.5 158.2 1521.5 158.9 1524.5 159.6 1527.5 160.3 1530.5 161.0 1533.5 161.7 1536.5 162.4 1539.5 163.1 1542.5 163.8 1545.5 164.5 1548.5 165.2 1551.5 166.0 1554.5 166.7 1557.5 167.4 1560.5 168.1 1563.5 168.9 1566.5 169.6 1569.5 170.3 1572.5 171.1 1575.5 171.8 1578.5 172.6 1581.5 173.3 1584.5 174.1 1587.5 174.8 1590.5 175.6 1593.5 176.4 1596.5 177.1 1599.5 177.9 1602.5 178.7 1605.5 179.4 1608.5 180.2 1611.5 181.0 1614.5 181.8 1617.5 182.6 1620.5 183.4 1623.5 184.2 1626.5 185.0 1629.5 185.8 1632.5 186.6 1635.5 187.4 1638.5 188.2 1641.5 189.1 1644.5 189.9 1647.5 190.7 1650.5 191.6 1653.5 192.4 1656.5 193.3 1659.5 194.1 1662.5 195.0 1665.5 195.8 1668.5 196.7 1671.5 197.5 1674.5 198.4 1677.5 199.3 1680.5 200.2 1683.5 201.1 1686.5 201.9 1689.5 202.8 1692.5 203.7 1695.5 204.6 1698.5 205.5 1701.5 206.5 1704.5 207.4 1707.5 208.3 1710.5 209.2 1713.5 210.2 1716.5 211.1 1719.5 212.0 1722.5 213.0 1725.5 213.9 1728.5 214.9 1731.5 215.9 1734.5 216.8 1737.5 217.8 1740.5 218.8 1743.5 219.8 1746.5 220.8 1749.5 221.8 1752.5 222.8 1755.5 223.8 1758.5 224.8 1761.5 225.8 1764.5 226.8 1767.5 227.9 1770.5 228.9 1773.5 229.9 1776.5 231.0 1779.5 232.0 1782.5 233.1 1785.5 234.1 1788.5 235.2 1791.5 236.3 1794.5 237.4 1797.5 238.5 1800.5 239.6 1803.5 240.7 1806.5 241.8 1809.5 242.9 1812.5 244.0 1815.5 245.1 1818.5 246.3 1821.5 247.4 1824.5 248.5 1827.5 249.7 1830.5 250.9 1833.5 252.0 1836.5 253.2 1839.5 254.4 1842.5 255.6 1845.5 256.8 1848.5 258.0 1851.5 259.2 1854.5 260.4 1857.5 261.6 1860.5 262.8" stroke="#AAFFAA"/>
<path d="M66.5 437.5 69.5 435.6 72.5 433.7 75.5 431.8 78.5 429.9 81.5 428.1 84.5 426.2 87.5 424.4 90.5 422.5 93.5 420.7 96.5 418.9 99.5 417.0 102.5 415.2 105.5 413.4 108.5 411.6 111.5 409.8 114.5 408.0 117.5 406.3 120.5 404.5 123.5 402.7 126.5 401.0 129.5 399.2 132.5 397.5 135.5 395.7 138.5 394.0 141.5 392.3 144.5 390.6 147.5 388.8 150.5 387.1 153.5 385.4 156.5 383.8 159.5 382.1 162.5 380.4 165.5 378.7 168.5 377.1 171.5 375.4 174.5 373.8 177.5 372.1 180.5 370.5 183.5 368.9 186.5 367.2 189.5 365.6 192.5 364.0 195.5 362.4 198.5 360.8 201.5 359.2 204.5 357.6 207.5 356.1 210.5 354.5 213.5 352.9 216.5 351.4 219.5 349.8 222.5 348.3 225.5 346.8 228.5 345.2 231.5 343.7 234.5 342.2 237.5 340.7 240.5 339.2 243.5 337.7 246.5 336.2 249.5 334.7 252.5 333.2 255.5 331.7 258.5 330.3 261.5 328.8 264.5 327.4 267.5 325.9 270.5 324.5 273.5 323.0 276.5 321.6 279.5 320.2 282.5 318.8 285.5 317.4 288.5 316.0 291.5 314.6 294.5 313.2 297.5 311.8 300.5 310.4 303.5 309.0 306.5 307.7 309.5 306.3 312.5 304.9 315.5 303.6 318.5 302.3 321.5 300.9 324.5 299.6 327.5 298.3 330.5 296.9 333.5 295.6 336.5 294.3 339.5 293.0 342.5 291.7 345.5 290.4 348.5 289.1 351.5 287.9 354.5 286.6 357.5 285.3 360.5 284.1 363.5 282.8 366.5 281.6 369.5 280.3 372.5 279.1 375.5 277.8 378.5 276.6 381.5 275.4 384.5 274.2 387.5 273.0 390.5 271.8 393.5 270.6 396.5 269.4 399.5 268.2 402.5 267.0 405.5 265.8 408.5 264.6 411.5 263.5 414.5 262.3 417.5 261.2 420.5 260.0 423.5 258.9 426.5 257.7 429.5 256.6 432.5 255.5 435.5 254.3 438.5 253.2 441.5 252.1 444.5 251.0 447.5 249.9 450.5 248.8 453.5 247.7 456.5 246.6 459.5 245.5 462.5 244.5 465.5 243.4 468.5 242.3 471.5 241.3 474.5 240.2 477.5 239.2 480.5 238.1 483.5 237.1 486.5 236.1 489.5 235.0 492.5 234.0 495.5 233.0 498.5 232.0 501.5 231.0 504.5 230.0 507.5 229.0 510.5 228.0 513.5 227.0 516.5 226.0 519.5 225.0 522.5 224.0 525.5 223.1 528.5 222.1 531.5 221.1 534.5 220.2 537.5 219.2 540.5 218.3 543.5 217.3 546.5 216.4 549.5 215.5 552.5 214.5 555.5 213.6 558.5 212.7 561.5 211.8 564.5 210.9 567.5 210.0 570.5 209.1 573.5 208.2 576.5 207.3 579.5 206.4 582.5 205.5 585.5 204.7 588.5 203.8 591.5 202.9 594.5 202.1 597.5 201.2 600.5 200.3 603.5 199.5 606.5 198.7 609.5 197.8 612.5 197.0 615.5 196.1 618.5 195.3 621.5 194.5 624.5 193.7 627.5 192.9 630.5 192.1 633.5 191.2 636.5 190.4 639.5 189.6 642.5 188.9 645.5 188.1 648.5 187.3 651.5 186.5 654.5 185.7 657.5 185.0 660.5 184.2 663.5 183.4 666.5 182.7 669.5 181.9 672.5 181.2 675.5 180.4 678.5 179.7 681.5 178.9 684.5 178.2 687.5 177.5 690.5 176.7 693.5 176.0 696.5 175.3 699.5 174.6 702.5 173.9 705.5 173.1 708.5 172.4 711.5 171.7 714.5 171.0 717.5 170.3 720.5 169.6 723.5 169.0 726.5 168.3 729.5 167.6 732.5 166.9 735.5 166.2 738.5 165.6 741.5 164.9 744.5 164.2 747.5 163.6 750.5 162.9 753.5 162.3 756.5 161.6 759.5 161.0 762.5 160.3 765.5 159.7 768.5 159.0 771.5 158.4 774.5 157.8 777.5 157.1 780.5 156.5 783.5 155.9 786.5 155.3 789.5 154.7 792.5 154.0 795.5 153.4 798.5 152.8 801.5 152.2 804.5 151.6 807.5 151.0 810.5 150.4 813.5 149.8 816.5 149.2 819.5 148.6 822.5 148.0 825.5 147.5 828.5 146.9 831.5 146.3 834.5 145.7 837.5 145.1 840.5 144.6 843.5 144.0 846.5 143.4 849.5 142.9 852.5 142.3 855.5 141.8 858.5 141.2 861.5 140.6 864.5 140.1 867.5 139.5 870.5 139.0 873.5 138.4 876.5 137.9 879.5 137.4 882.5 136.8 885.5 136.3 888.5 135.7 891.5 135.2 894.5 134.7 897.5 134.1 900.5 133.6 903.5 133.1 906.5 132.6 909.5 132.0 912.5 131.5 915.5 131.0 918.5 130.5 921.5 130.0 924.5 129.5 927.5 129.0 930.5 128.4 933.5 127.9 936.5 127.4 939.5 126.9 942.5 126.4 945.5 125.9 948.5 125.4 951.5 125.0 954.5 124.5 957.5 124.0 960.5 123.5 963.5 123.1 966.5 122.6 969.5 122.1 972.5 121.7 975.5 121.2 978.5 120.8 981.5 120.4 984.5 120.0 987.5 119.5 990.5 119.1 993.5 118.7 996.5 118.4 999.5 118.0 1002.5 117.6 1005.5 117.2 1008.5 116.9 1011.5 116.6 1014.5 116.2 1017.5 115.9 1020.5 115.6 1023.5 115.3 1026.5 115.0 1029.5 114.7 1032.5 114.4 1035.5 114.1 1038.5 113.9 1041.5 113.6 1044.5 113.4 1047.5 113.2 1050.5 112.9 1053.5 112.7 1056.5 112.5 1059.5 112.3 1062.5 112.1 1065.5 111.9 1068.5 111.8 1071.5 111.6 1074.5 111.4 1077.5 111.3 1080.5 111.2 1083.5 111.0 1086.5 110.9 1089.5 110.8 1092.5 110.7 1095.5 110.6 1098.5 110.5 1101.5 110.4 1104.5 110.4 1107.5 110.3 1110.5 110.2 1113.5 110.2 1116.5 110.2 1119.5 110.1 1122.5 110.1 1125.5 110.1 1128.5 110.1 1131.5 110.1 1134.5 110.1 1137.5 110.1 1140.5 110.1 1143.5 110.2 1146.5 110.2 1149.5 110.3 1152.5 110.3 1155.5 110.4 1158.5 110.5 1161.5 110.5 1164.5 110.6 1167.5 110.7 1170.5 110.8 1173.5 111.0 1176.5 111.1 1179.5 111.2 1182.5 111.3 1185.5 111.5 1188.5 111.6 1191.5 111.8 1194.5 112.0 1197.5 112.1 1200.5 112.3 1203.5 112.5 1206.5 112.7 1209.5 112.9 1212.5 113.1 1215.5 113.3 1218.5 113.6 1221.5 113.8 1224.5 114.0 1227.5 114.3 1230.5 114.5 1233.5 114.8 1236.5 115.1 1239.5 115.3 1242.5 115.6 1245.5 115.9 1248.5 116.2 1251.5 116.5 1254.5 116.8 1257.5 117.1 1260.5 117.5 1263.5 117.8 1266.5 118.1 1269.5 118.5 1272.5 118.8 1275.5 119.2 1278.5 119.6 1281.5 119.9 1284.5 120.3 1287.5 120.7 1290.5 121.1 1293.5 121.5 1296.5 121.9 1299.5 122.3 1302.5 122.7 1305.5 123.2 1308.5 123.6 1311.5 124.0 1314.5 124.5 1317.5 124.9 1320.5 125.4 1323.5 125.8 1326.5 126.3 1329.5 126.8 1332.5 127.3 1335.5 127.8 1338.5 128.3 1341.5 128.8 1344.5 129.3 1347.5 129.8 1350.5 130.3 1353.5 130.8 1356.5 131.4 1359.5 131.9 1362.5 132.5 1365.5 133.0 1368.5 133.6 1371.5 134.1 1374.5 134.7 1377.5 135.3 1380.5 135.9 1383.5 136.5 1386.5 137.1 1389.5 137.7 1392.5 138.3 1395.5 138.9 1398.5 139.5 1401.5 140.1 1404.5 140.8 1407.5 141.4 1410.5 142.1 1413.5 142.7 1416.5 143.4 1419.5 144.0 1422.5 144.7 1425.5 145.4 1428.5 146.1 1431.5 146.7 1434.5 147.4 1437.5 148.1 1440.5 148.8 1443.5 149.5 1446.5 150.3 1449.5 151.0 1452.5 151.7 1455.5 152.4 1458.5 153.2 1461.5 153.9 1464.5 154.7 1467.5 155.4 1470.5 156.2 1473.5 156.9 1476.5 157.7 1479.5 158.5 1482.5 159.3 1485.5 160.1 1488.5 160.9 1491.5 161.7 1494.5 162.5 1497.5 163.3 1500.5 164.1 1503.5 164.9 1506.5 165.7 1509.5 166.6 1512.5 167.4 1515.5 168.3 1518.5 169.1 1521.5 170.0 1524.5 170.8 1527.5 171.7 1530.5 172.6 1533.5 173.4 1536.5 174.3 1539.5 175.2 1542.5 176.1 1545.5 177.0 1548.5 177.9 1551.5 178.8 1554.5 179.7 1557.5 180.6 1560.5 181.5 1563.5 182.5 1566.5 183.4 1569.5 184.3 1572.5 185.3 1575.5 186.2 1578.5 187.2 1581.5 188.1 1584.5 189.1 1587.5 190.1 1590.5 191.0 1593.5 192.0 1596.5 193.0 1599.5 194.0 1602.5 195.0 1605.5 196.0 1608.5 197.0 1611.5 198.0 1614.5 199.0 1617.5 200.0 1620.5 201.0 1623.5 202.1 1626.5 203.1 1629.5 204.1 1632.5 205.2 1635.5 206.2 1638.5 207.3 1641.5 208.3 1644.5 209.4 1647.5 210.4 1650.5 211.5 1653.5 212.6 1656.5 213.7 1659.5 214.8 1662.5 215.8 1665.5 216.9 1668.5 218.0 1671.5 219.1 1674.5 220.2 1677.5 221.3 1680.5 222.5 1683.5 223.6 1686.5 224.7 1689.5 225.8 1692.5 227.0 1695.5 228.1 1698.5 229.2 1701.5 230.4 1704.5 231.5 1707.5 232.7 1710.5 233.8 1713.5 235.0 1716.5 236.2 1719.5 237.3 1722.5 238.5 1725.5 239.7 1728.5 240.9 1731.5 242.1 1734.5 243.3 1737.5 244.5 1740.5 245.7 1743.5 246.9 1746.5 248.1 1749.5 249.3 1752.5 250.5 1755.5 251.7 1758.5 253.0 1761.5 254.2 1764.5 255.4 1767.5 256.7 1770.5 257.9 1773.5 259.1 1776.5 260.4 1779.5 261.6 1782.5 262.9 1785.5 264.2 1788.5 265.4 1791.5 266.7 1794.5 268.0 1797.5 269.2 1800.5 270.5 1803.5 271.8 1806.5 273.1 1809.5 274.4 1812.5 275.7 1815.5 277.0 1818.5 278.3 1821.5 279.6 1824.5 280.9 1827.5 282.2 1830.5 283.5 1833.5 284.9 1836.5 286.2 1839.5 287.5 1842.5 288.8 1845.5 290.2 1848.5 291.5 1851.5 292.9 1854.5 294.2 1857.5 295.6 1860.5 296.9" stroke="#FF00AA"/>
<path d="M66.5 437.4 69.5 435.5 72.5 433.6 75.5 431.7 78.5 429.9 81.5 428.0 84.5 426.2 87.5 424.3 90.5 422.5 93.5 420.7 96.5 418.8 99.5 417.0 102.5 415.2 105.5 413.4 108.5 411.6 111.5 409.8 114.5 408.1 117.5 406.3 120.5 404.5 123.5 402.8 126.5 401.0 129.5 399.3 132.5 397.5 135.5 395.8 138.5 394.1 141.5 392.4 144.5 390.7 147.5 388.9 150.5 387.2 153.5 385.6 156.5 383.9 159.5 382.2 162.5 380.5 165.5 378.9 168.5 377.2 171.5 375.5 174.5 373.9 177.5 372.3 180.5 370.6 183.5 369.0 186.5 367.4 189.5 365.8 192.5 364.2 195.5 362.6 198.5 361.0 201.5 359.4 204.5 357.8 207.5 356.2 210.5 354.7 213.5 353.1 216.5 351.5 219.5 350.0 222.5 348.4 225.5 346.9 228.5 345.4 231.5 343.9 234.5 342.3 237.5 340.8 240.5 339.3 243.5 337.8 246.5 336.3 249.5 334.8 252.5 333.4 255.5 331.9 258.5 330.4 261.5 329.0 264.5 327.5 267.5 326.1 270.5 324.6 273.5 323.2 276.5 321.7 279.5 320.3 282.5 318.9 285.5 317.5 288.5 316.1 291.5 314.7 294.5 313.3 297.5 311.9 300.5 310.5 303.5 309.1 306.5 307.8 309.5 306.4 312.5 305.0 315.5 303.7 318.5 302.3 321.5 301.0 324.5 299.7 327.5 298.3 330.5 297.0 333.5 295.7 336.5 294.4 339.5 293.1 342.5 291.8 345.5 290.5 348.5 289.2 351.5 287.9 354.5 286.6 357.5 285.4 360.5 284.1 363.5 282.8 366.5 281.6 369.5 280.3 372.5 279.1 375.5 277.9 378.5 276.6 381.5 275.4 384.5 274.2 387.5 273.0 390.5 271.8 393.5 270.6 396.5 269.4 399.5 268.2 402.5 267.0 405.5 265.8 408.5 264.6 411.5 263.5 414.5 262.3 417.5 261.1 420.5 260.0 423.5 258.8 426.5 257.7 429.5 256.6 432.5 255.4 435.5 254.3 438.5 253.2 441.5 252.1 444.5 251.0 447.5 249.9 450.5 248.8 453.5 247.7 456.5 246.6 459.5 245.5 462.5 244.4 465.5 243.3 468.5 242.3 471.5 241.2 474.5 240.2 477.5 239.1 480.5 238.1 483.5 237.0 486.5 236.0 489.5 235.0 492.5 233.9 495.5 232.9 498.5 231.9 501.5 230.9 504.5 229.9 507.5 228.9 510.5 227.9 513.5 226.9 516.5 225.9 519.5 224.9 522.5 224.0 525.5 223.0 528.5 222.0 531.5 221.1 534.5 220.1 537.5 219.2 540.5 218.2 543.5 217.3 546.5 216.4 549.5 215.4 552.5 214.5 555.5 213.6 558.5 212.7 561.5 211.8 564.5 210.9 567.5 210.0 570.5 209.1 573.5 208.2 576.5 207.3 579.5 206.4 582.5 205.5 585.5 204.7 588.5 203.8 591.5 202.9 594.5 202.1 597.5 201.2 600.5 200.4 603.5 199.5 606.5 198.7 609.5 197.9 612.5 197.0 615.5 196.2 618.5 195.4 621.5 194.6 624.5 193.8 627.5 193.0 630.5 192.2 633.5 191.4 636.5 190.6 639.5 189.8 642.5 189.0 645.5 188.2 648.5 187.5 651.5 186.7 654.5 185.9 657.5 185.2 660.5 184.4 663.5 183.7 666.5 182.9 669.5 182.2 672.5 181.4 675.5 180.7 678.5 180.0 681.5 179.2 684.5 178.5 687.5 177.8 690.5 177.1 693.5 176.4 696.5 175.7 699.5 174.9 702.5 174.2 705.5 173.5 708.5 172.8 711.5 172.2 714.5 171.5 717.5 170.8 720.5 170.1 723.5 169.4 726.5 168.7 729.5 168.0 732.5 167.4 735.5 166.7 738.5 166.0 741.5 165.4 744.5 164.7 747.5 164.0 750.5 163.4 753.5 162.7 756.5 162.1 759.5 161.4 762.5 160.7 765.5 160.1 768.5 159.4 771.5 158.8 774.5 158.2 777.5 157.5 780.5 156.9 783.5 156.2 786.5 155.6 789.5 155.0 792.5 154.3 795.5 153.7 798.5 153.1 801.5 152.4 804.5 151.8 807.5 151.2 810.5 150.6 813.5 149.9 816.5 149.3 819.5 148.7 822.5 148.1 825.5 147.5 828.5 146.9 831.5 146.3 834.5 145.7 837.5 145.1 840.5 144.5 843.5 143.9 846.5 143.3 849.5 142.7 852.5 142.1 855.5 141.6 858.5 141.0 861.5 140.4 864.5 139.9 867.5 139.3 870.5 138.7 873.5 138.2 876.5 137.6 879.5 137.1 882.5 136.5 885.5 136.0 888.5 135.4 891.5 134.9 894.5 134.4 897.5 133.8 900.5 133.3 903.5 132.8 906.5 132.3 909.5 131.8 912.5 131.3 915.5 130.8 918.5 130.3 921.5 129.8 924.5 129.3 927.5 128.8 930.5 128.3 933.5 127.9 936.5 127.4 939.5 126.9 942.5 126.5 945.5 126.0 948.5 125.6 951.5 125.1 954.5 124.7 957.5 124.3 960.5 123.8 963.5 123.4 966.5 123.0 969.5 122.6 972.5 122.2 975.5 121.8 978.5 121.4 981.5 121.1 984.5 120.7 987.5 120.3 990.5 120.0 993.5 119.6 996.5 119.3 999.5 118.9 1002.5 118.6 1005.5 118.3 1008.5 118.0 1011.5 117.6 1014.5 117.3 1017.5 117.0 1020.5 116.8 1023.5 116.5 1026.5 116.2 1029.5 115.9 1032.5 115.7 1035.5 115.4 1038.5 115.2 1041.5 114.9 1044.5 114.7 1047.5 114.5 1050.5 114.3 1053.5 114.1 1056.5 113.8 1059.5 113.7 1062.5 113.5 1065.5 113.3 1068.5 113.1 1071.5 112.9 1074.5 112.8 1077.5 112.6 1080.5 112.5 1083.5 112.3 1086.5 112.2 1089.5 112.1 1092.5 112.0 1095.5 111.9 1098.5 111.8 1101.5 111.7 1104.5 111.6 1107.5 111.5 1110.5 111.4 1113.5 111.4 1116.5 111.3 1119.5 111.3 1122.5 111.2 1125.5 111.2 1128.5 111.2 1131.5 111.2 1134.5 111.1 1137.5 111.1 1140.5 111.2 1143.5 111.2 1146.5 111.2 1149.5 111.2 1152.5 111.2 1155.5 111.3 1158.5 111.3 1161.5 111.4 1164.5 111.5 1167.5 111.5 1170.5 111.6 1173.5 111.7 1176.5 111.8 1179.5 111.9 1182.5 112.0 1185.5 112.2 1188.5 112.3 1191.5 112.4 1194.5 112.6 1197.5 112.7 1200.5 112.9 1203.5 113.0 1206.5 113.2 1209.5 113.4 1212.5 113.6 1215.5 113.8 1218.5 114.0 1221.5 114.2 1224.5 114.4 1227.5 114.7 1230.5 114.9 1233.5 115.2 1236.5 115.4 1239.5 115.7 1242.5 116.0 1245.5 116.2 1248.5 116.5 1251.5 116.8 1254.5 117.1 1257.5 117.5 1260.5 117.8 1263.5 118.1 1266.5 118.4 1269.5 118.8 1272.5 119.2 1275.5 119.5 1278.5 119.9 1281.5 120.3 1284.5 120.7 1287.5 121.0 1290.5 121.5 1293.5 121.9 1296.5 122.3 1299.5 122.7 1302.5 123.1 1305.5 123.6 1308.5 124.0 1311.5 124.5 1314.5 125.0 1317.5 125.4 1320.5 125.9 1323.5 126.4 1326.5 126.9 1329.5 127.4 1332.5 127.9 1335.5 128.4 1338.5 129.0 1341.5 129.5 1344.5 130.0 1347.5 130.6 1350.5 131.2 1353.5 131.7 1356.5 132.3 1359.5 132.9 1362.5 133.4 1365.5 134.0 1368.5 134.6 1371.5 135.2 1374.5 135.9 1377.5 136.5 1380.5 137.1 1383.5 137.7 1386.5 138.4 1389.5 139.0 1392.5 139.7 1395.5 140.4 1398.5 141.0 1401.5 141.7 1404.5 142.4 1407.5 143.1 1410.5 143.8 1413.5 144.5 1416.5 145.2 1419.5 145.9 1422.5 146.6 1425.5 147.4 1428.5 148.1 1431.5 148.9 1434.5 149.6 1437.5 150.4 1440.5 151.1 1443.5 151.9 1446.5 152.7 1449.5 153.5 1452.5 154.3 1455.5 155.1 1458.5 155.9 1461.5 156.7 1464.5 157.5 1467.5 158.4 1470.5 159.2 1473.5 160.1 1476.5 160.9 1479.5 161.8 1482.5 162.6 1485.5 163.5 1488.5 164.4 1491.5 165.3 1494.5 166.2 1497.5 167.1 1500.5 168.0 1503.5 168.9 1506.5 169.8 1509.5 170.8 1512.5 171.7 1515.5 172.7 1518.5 173.6 1521.5 174.6 1524.5 175.5 1527.5 176.5 1530.5 177.5 1533.5 178.5 1536.5 179.5 1539.5 180.5 1542.5 181.5 1545.5 182.5 1548.5 183.5 1551.5 184.6 1554.5 185.6 1557.5 186.7 1560.5 187.7 1563.5 188.8 1566.5 189.8 1569.5 190.9 1572.5 192.0 1575.5 193.1 1578.5 194.2 1581.5 195.3 1584.5 196.4 1587.5 197.5 1590.5 198.7 1593.5 199.8 1596.5 200.9 1599.5 202.1 1602.5 203.2 1605.5 204.4 1608.5 205.6 1611.5 206.8 1614.5 207.9 1617.5 209.1 1620.5 210.3 1623.5 211.5 1626.5 212.8 1629.5 214.0 1632.5 215.2 1635.5 216.5 1638.5 217.7 1641.5 219.0 1644.5 220.2 1647.5 221.5 1650.5 222.8 1653.5 224.1 1656.5 225.4 1659.5 226.7 1662.5 228.0 1665.5 229.3 1668.5 230.6 1671.5 232.0 1674.5 233.3 1677.5 234.7 1680.5 236.0 1683.5 237.4 1686.5 238.8 1689.5 240.2 1692.5 241.5 1695.5 242.9 1698.5 244.4 1701.5 245.8 1704.5 247.2 1707.5 248.6 1710.5 250.1 1713.5 251.5 1716.5 253.0 1719.5 254.4 1722.5 255.9 1725.5 257.4 1728.5 258.9 1731.5 260.4 1734.5 261.9 1737.5 263.4 1740.5 264.9 1743.5 266.5 1746.5 268.0 1749.5 269.6 1752.5 271.1 1755.5 272.7 1758.5 274.3 1761.5 275.8 1764.5 277.4 1767.5 279.0 1770.5 280.6 1773.5 282.3 1776.5 283.9 1779.5 285.5 1782.5 287.2 1785.5 288.8 1788.5 290.5 1791.5 292.1 1794.5 293.8 1797.5 295.5 1800.5 297.2 1803.5 298.9 1806.5 300.6 1809.5 302.3 1812.5 304.1 1815.5 305.8 1818.5 307.6 1821.5 309.3 1824.5 311.1 1827.5 312.9 1830.5 314.6 1833.5 316.4 1836.5 318.2 1839.5 320.1 1842.5 321.9 1845.5 323.7 1848.5 325.5 1851.5 327.4 1854.5 329.2 1857.5 331.1 1860.5 333.0" stroke="#55AAFF"/>
<path d="M1172 89.5H1187M1473 89.5H1486" stroke="#005858"/>
<path d="M1264 89.5H1353" stroke="#AA00FF"/>
</g>
<g stroke="none" shape-rendering="crispEdges">
<rect x="71" y="426" width="9" height="9" fill="#000"/><path d="M72 427h7v1h-7zM72 428h1v1h-1zM78 428h1v1h-1zM72 429h1v1h-1zM78 429h1v1h-1zM72 430h1v1h-1zM78 430h1v1h-1zM72 431h1v1h-1zM78 431h1v1h-1zM72 432h1v1h-1zM78 432h1v1h-1zM72 433h7v1h-7z" fill="#55AAFF"/>
<rect x="211" y="345" width="9" height="9" fill="#000"/><path d="M212 346h7v1h-7zM212 347h1v1h-1zM218 347h1v1h-1zM212 348h1v1h-1zM218 348h1v1h-1zM212 349h1v1h-1zM218 349h1v1h-1zM212 350h1v1h-1zM218 350h1v1h-1zM212 351h1v1h-1zM218 351h1v1h-1zM212 352h7v1h-7z" fill="#55AAFF"/>
<rect x="354" y="278" width="9" height="9" fill="#000"/><path d="M355 279h7v1h-7zM355 280h1v1h-1zM361 280h1v1h-1zM355 281h1v1h-1zM361 281h1v1h-1zM355 282h1v1h-1zM361 282h1v1h-1zM355 283h1v1h-1zM361 283h1v1h-1zM355 284h1v1h-1zM361 284h1v1h-1zM355 285h7v1h-7z" fill="#55AAFF"/>
<rect x="511" y="219" width="9" height="9" fill="#000"/><path d="M512 220h7v1h-7zM512 221h1v1h-1zM518 221h1v1h-1zM512 222h1v1h-1zM518 222h1v1h-1zM512 223h1v1h-1zM518 223h1v1h-1zM512 224h1v1h-1zM518 224h1v1h-1zM512 225h1v1h-1zM518 225h1v1h-1zM512 226h7v1h-7z" fill="#55AAFF"/>
<rect x="673" y="172" width="9" height="9" fill="#000"/><path d="M674 173h7v1h-7zM674 174h1v1h-1zM680 174h1v1h-1zM674 175h1v1h-1zM680 175h1v1h-1zM674 176h1v1h-1zM680 176h1v1h-1zM674 177h1v1h-1zM680 177h1v1h-1zM674 178h1v1h-1zM680 178h1v1h-1zM674 179h7v1h-7z" fill="#55AAFF"/>
<rect x="838" y="134" width="9" height="9" fill="#000"/><path d="M839 135h7v1h-7zM839 136h1v1h-1zM845 136h1v1h-1zM839 137h1v1h-1zM845 137h1v1h-1zM839 138h1v1h-1zM845 138h1v1h-1zM839 139h1v1h-1zM845 139h1v1h-1zM839 140h1v1h-1zM845 140h1v1h-1zM839 141h7v1h-7z" fill="#55AAFF"/>
<rect x="1008" y="102" width="9" height="9" fill="#000"/><path d="M1009 103h7v1h-7zM1009 104h1v1h-1zM1015 104h1v1h-1zM1009 105h1v1h-1zM1015 105h1v1h-1zM1009 106h1v1h-1zM1015 106h1v1h-1zM1009 107h1v1h-1zM1015 107h1v1h-1zM1009 108h1v1h-1zM1015 108h1v1h-1zM1009 109h7v1h-7z" fill="#55AAFF"/>
<rect x="1187" y="80" width="9" height="9" fill="#000"/><path d="M1188 81h7v1h-7zM1188 82h1v1h-1zM1194 82h1v1h-1zM1188 83h1v1h-1zM1194 83h1v1h-1zM1188 84h1v1h-1zM1194 84h1v1h-1zM1188 85h1v1h-1zM1194 85h1v1h-1zM1188 86h1v1h-1zM1194 86h1v1h-1zM1188 87h7v1h-7z" fill="#55AAFF"/>
<rect x="1374" y="74" width="9" height="9" fill="#000"/><path d="M1375 75h7v1h-7zM1375 76h1v1h-1zM1381 76h1v1h-1zM1375 77h1v1h-1zM1381 77h1v1h-1zM1375 78h1v1h-1zM1381 78h1v1h-1zM1375 79h1v1h-1zM1381 79h1v1h-1zM1375 80h1v1h-1zM1381 80h1v1h-1zM1375 81h7v1h-7z" fill="#55AAFF"/>
<rect x="1558" y="88" width="9" height="9" fill="#000"/><path d="M1559 89h7v1h-7zM1559 90h1v1h-1zM1565 90h1v1h-1zM1559 91h1v1h-1zM1565 91h1v1h-1zM1559 92h1v1h-1zM1565 92h1v1h-1zM1559 93h1v1h-1zM1565 93h1v1h-1zM1559 94h1v1h-1zM1565 94h1v1h-1zM1559 95h7v1h-7z" fill="#55AAFF"/>
<rect x="1727" y="121" width="9" height="9" fill="#000"/><path d="M1728 122h7v1h-7zM1728 123h1v1h-1zM1734 123h1v1h-1zM1728 124h1v1h-1zM1734 124h1v1h-1zM1728 125h1v1h-1zM1734 125h1v1h-1zM1728 126h1v1h-1zM1734 126h1v1h-1zM1728 127h1v1h-1zM1734 127h1v1h-1zM1728 128h7v1h-7z" fill="#55AAFF"/>
<rect x="83" y="419" width="9" height="9" fill="#000"/><path d="M87 420h1v1h-1zM86 421h1v1h-1zM88 421h1v1h-1zM85 422h1v1h-1zM89 422h1v1h-1zM84 423h1v1h-1zM90 423h1v1h-1zM85 424h1v1h-1zM89 424h1v1h-1zM86 425h1v1h-1zM88 425h1v1h-1zM87 426h1v1h-1z" fill="#FF5555"/>
<rect x="221" y="340" width="9" height="9" fill="#000"/><path d="M225 341h1v1h-1zM224 342h1v1h-1zM226 342h1v1h-1zM223 343h1v1h-1zM227 343h1v1h-1zM222 344h1v1h-1zM228 344h1v1h-1zM223 345h1v1h-1zM227 345h1v1h-1zM224 346h1v1h-1zM226 346h1v1h-1zM225 347h1v1h-1z" fill="#FF5555"/>
<rect x="368" y="273" width="9" height="9" fill="#000"/><path d="M372 274h1v1h-1zM371 275h1v1h-1zM373 275h1v1h-1zM370 276h1v1h-1zM374 276h1v1h-1zM369 277h1v1h-1zM375 277h1v1h-1zM370 278h1v1h-1zM374 278h1v1h-1zM371 279h1v1h-1zM373 279h1v1h-1zM372 280h1v1h-1z" fill="#FF5555"/>
<rect x="521" y="216" width="9" height="9" fill="#000"/><path d="M525 217h1v1h-1zM524 218h1v1h-1zM526 218h1v1h-1zM523 219h1v1h-1zM527 219h1v1h-1zM522 220h1v1h-1zM528 220h1v1h-1zM523 221h1v1h-1zM527 221h1v1h-1zM524 222h1v1h-1zM526 222h1v1h-1zM525 223h1v1h-1z" fill="#FF5555"/>
<rect x="683" y="170" width="9" height="9" fill="#000"/><path d="M687 171h1v1h-1zM686 172h1v1h-1zM688 172h1v1h-1zM685 173h1v1h-1zM689 173h1v1h-1zM684 174h1v1h-1zM690 174h1v1h-1zM685 175h1v1h-1zM689 175h1v1h-1zM686 176h1v1h-1zM688 176h1v1h-1zM687 177h1v1h-1z" fill="#FF5555"/>
<rect x="849" y="133" width="9" height="9" fill="#000"/><path d="M853 134h1v1h-1zM852 135h1v1h-1zM854 135h1v1h-1zM851 136h1v1h-1zM855 136h1v1h-1zM850 137h1v1h-1zM856 137h1v1h-1zM851 138h1v1h-1zM855 138h1v1h-1zM852 139h1v1h-1zM854 139h1v1h-1zM853 140h1v1h-1z" fill="#FF5555"/>
<rect x="1019" y="102" width="9" height="9" fill="#000"/><path d="M1023 103h1v1h-1zM1022 104h1v1h-1zM1024 104h1v1h-1zM1021 105h1v1h-1zM1025 105h1v1h-1zM1020 106h1v1h-1zM1026 106h1v1h-1zM1021 107h1v1h-1zM1025 107h1v1h-1zM1022 108h1v1h-1zM1024 108h1v1h-1zM1023 109h1v1h-1z" fill="#FF5555"/>
<rect x="1199" y="84" width="9" height="9" fill="#000"/><path d="M1203 85h1v1h-1zM1202 86h1v1h-1zM1204 86h1v1h-1zM1201 87h1v1h-1zM1205 87h1v1h-1zM1200 88h1v1h-1zM1206 88h1v1h-1zM1201 89h1v1h-1zM1205 89h1v1h-1zM1202 90h1v1h-1zM1204 90h1v1h-1zM1203 91h1v1h-1z" fill="#FF5555"/>
<rect x="1387" y="80" width="9" height="9" fill="#000"/><path d="M1391 81h1v1h-1zM1390 82h1v1h-1zM1392 82h1v1h-1zM1389 83h1v1h-1zM1393 83h1v1h-1zM1388 84h1v1h-1zM1394 84h1v1h-1zM1389 85h1v1h-1zM1393 85h1v1h-1zM1390 86h1v1h-1zM1392 86h1v1h-1zM1391 87h1v1h-1z" fill="#FF5555"/>
<rect x="1570" y="96" width="9" height="9" fill="#000"/><path d="M1574 97h1v1h-1zM1573 98h1v1h-1zM1575 98h1v1h-1zM1572 99h1v1h-1zM1576 99h1v1h-1zM1571 100h1v1h-1zM1577 100h1v1h-1zM1572 101h1v1h-1zM1576 101h1v1h-1zM1573 102h1v1h-1zM1575 102h1v1h-1zM1574 103h1v1h-1z" fill="#FF5555"/>
<rect x="1736" y="131" width="9" height="9" fill="#000"/><path d="M1740 132h1v1h-1zM1739 133h1v1h-1zM1741 133h1v1h-1zM1738 134h1v1h-1zM1742 134h1v1h-1zM1737 135h1v1h-1zM1743 135h1v1h-1zM1738 136h1v1h-1zM1742 136h1v1h-1zM1739 137h1v1h-1zM1741 137h1v1h-1zM1740 138h1v1h-1z" fill="#FF5555"/>
<rect x="96" y="410" width="9" height="9" fill="#000"/><path d="M97 411h7v1h-7zM98 412h1v1h-1zM102 412h1v1h-1zM98 413h1v1h-1zM102 413h1v1h-1zM99 414h1v1h-1zM101 414h1v1h-1zM99 415h1v1h-1zM101 415h1v1h-1zM100 416h1v1h-1zM100 417h1v1h-1z" fill="#5500FF"/>
<rect x="239" y="332" width="9" height="9" fill="#000"/><path d="M240 333h7v1h-7zM241 334h1v1h-1zM245 334h1v1h-1zM241 335h1v1h-1zM245 335h1v1h-1zM242 336h1v1h-1zM244 336h1v1h-1zM242 337h1v1h-1zM244 337h1v1h-1zM243 338h1v1h-1zM243 339h1v1h-1z" fill="#5500FF"/>
<rect x="387" y="265" width="9" height="9" fill="#000"/><path d="M388 266h7v1h-7zM389 267h1v1h-1zM393 267h1v1h-1zM389 268h1v1h-1zM393 268h1v1h-1zM390 269h1v1h-1zM392 269h1v1h-1zM390 270h1v1h-1zM392 270h1v1h-1zM391 271h1v1h-1zM391 272h1v1h-1z" fill="#5500FF"/>
<rect x="540" y="211" width="9" height="9" fill="#000"/><path d="M541 212h7v1h-7zM542 213h1v1h-1zM546 213h1v1h-1zM542 214h1v1h-1zM546 214h1v1h-1zM543 215h1v1h-1zM545 215h1v1h-1zM543 216h1v1h-1zM545 216h1v1h-1zM544 217h1v1h-1zM544 218h1v1h-1z" fill="#5500FF"/>
<rect x="703" y="166" width="9" height="9" fill="#000"/><path d="M704 167h7v1h-7zM705 168h1v1h-1zM709 168h1v1h-1zM705 169h1v1h-1zM709 169h1v1h-1zM706 170h1v1h-1zM708 170h1v1h-1zM706 171h1v1h-1zM708 171h1v1h-1zM707 172h1v1h-1zM707 173h1v1h-1z" fill="#5500FF"/>
<rect x="872" y="129" width="9" height="9" fill="#000"/><path d="M873 130h7v1h-7zM874 131h1v1h-1zM878 131h1v1h-1zM874 132h1v1h-1zM878 132h1v1h-1zM875 133h1v1h-1zM877 133h1v1h-1zM875 134h1v1h-1zM877 134h1v1h-1zM876 135h1v1h-1zM876 136h1v1h-1z" fill="#5500FF"/>
<rect x="1046" y="100" width="9" height="9" fill="#000"/><path d="M1047 101h7v1h-7zM1048 102h1v1h-1zM1052 102h1v1h-1zM1048 103h1v1h-1zM1052 103h1v1h-1zM1049 104h1v1h-1zM1051 104h1v1h-1zM1049 105h1v1h-1zM1051 105h1v1h-1zM1050 106h1v1h-1zM1050 107h1v1h-1z" fill="#5500FF"/>
<rect x="1229" y="86" width="9" height="9" fill="#000"/><path d="M1230 87h7v1h-7zM1231 88h1v1h-1zM1235 88h1v1h-1zM1231 89h1v1h-1zM1235 89h1v1h-1zM1232 90h1v1h-1zM1234 90h1v1h-1zM1232 91h1v1h-1zM1234 91h1v1h-1zM1233 92h1v1h-1zM1233 93h1v1h-1z" fill="#5500FF"/>
<rect x="1417" y="87" width="9" height="9" fill="#000"/><path d="M1418 88h7v1h-7zM1419 89h1v1h-1zM1423 89h1v1h-1zM1419 90h1v1h-1zM1423 90h1v1h-1zM1420 91h1v1h-1zM1422 91h1v1h-1zM1420 92h1v1h-1zM1422 92h1v1h-1zM1421 93h1v1h-1zM1421 94h1v1h-1z" fill="#5500FF"/>
<rect x="1597" y="107" width="9" height="9" fill="#000"/><path d="M1598 108h7v1h-7zM1599 109h1v1h-1zM1603 109h1v1h-1zM1599 110h1v1h-1zM1603 110h1v1h-1zM1600 111h1v1h-1zM1602 111h1v1h-1zM1600 112h1v1h-1zM1602 112h1v1h-1zM1601 113h1v1h-1zM1601 114h1v1h-1z" fill="#5500FF"/>
<rect x="1762" y="146" width="9" height="9" fill="#000"/><path d="M1763 147h7v1h-7zM1764 148h1v1h-1zM1768 148h1v1h-1zM1764 149h1v1h-1zM1768 149h1v1h-1zM1765 150h1v1h-1zM1767 150h1v1h-1zM1765 151h1v1h-1zM1767 151h1v1h-1zM1766 152h1v1h-1zM1766 153h1v1h-1z" fill="#5500FF"/>
<rect x="108" y="404" width="9" height="9" fill="#000"/><path d="M112 405h1v1h-1zM112 406h1v1h-1zM111 407h1v1h-1zM113 407h1v1h-1zM111 408h1v1h-1zM113 408h1v1h-1zM110 409h1v1h-1zM114 409h1v1h-1zM110 410h1v1h-1zM114 410h1v1h-1zM109 411h7v1h-7z" fill="#FFFF55"/>
<rect x="247" y="328" width="9" height="9" fill="#000"/><path d="M251 329h1v1h-1zM251 330h1v1h-1zM250 331h1v1h-1zM252 331h1v1h-1zM250 332h1v1h-1zM252 332h1v1h-1zM249 333h1v1h-1zM253 333h1v1h-1zM249 334h1v1h-1zM253 334h1v1h-1zM248 335h7v1h-7z" fill="#FFFF55"/>
<rect x="396" y="262" width="9" height="9" fill="#000"/><path d="M400 263h1v1h-1zM400 264h1v1h-1zM399 265h1v1h-1zM401 265h1v1h-1zM399 266h1v1h-1zM401 266h1v1h-1zM398 267h1v1h-1zM402 267h1v1h-1zM398 268h1v1h-1zM402 268h1v1h-1zM397 269h7v1h-7z" fill="#FFFF55"/>
<rect x="555" y="206" width="9" height="9" fill="#000"/><path d="M559 207h1v1h-1zM559 208h1v1h-1zM558 209h1v1h-1zM560 209h1v1h-1zM558 210h1v1h-1zM560 210h1v1h-1zM557 211h1v1h-1zM561 211h1v1h-1zM557 212h1v1h-1zM561 212h1v1h-1zM556 213h7v1h-7z" fill="#FFFF55"/>
<rect x="717" y="163" width="9" height="9" fill="#000"/><path d="M721 164h1v1h-1zM721 165h1v1h-1zM720 166h1v1h-1zM722 166h1v1h-1zM720 167h1v1h-1zM722 167h1v1h-1zM719 168h1v1h-1zM723 168h1v1h-1zM719 169h1v1h-1zM723 169h1v1h-1zM718 170h7v1h-7z" fill="#FFFF55"/>
<rect x="886" y="127" width="9" height="9" fill="#000"/><path d="M890 128h1v1h-1zM890 129h1v1h-1zM889 130h1v1h-1zM891 130h1v1h-1zM889 131h1v1h-1zM891 131h1v1h-1zM888 132h1v1h-1zM892 132h1v1h-1zM888 133h1v1h-1zM892 133h1v1h-1zM887 134h7v1h-7z" fill="#FFFF55"/>
<rect x="1059" y="101" width="9" height="9" fill="#000"/><path d="M1063 102h1v1h-1zM1063 103h1v1h-1zM1062 104h1v1h-1zM1064 104h1v1h-1zM1062 105h1v1h-1zM1064 105h1v1h-1zM1061 106h1v1h-1zM1065 106h1v1h-1zM1061 107h1v1h-1zM1065 107h1v1h-1zM1060 108h7v1h-7z" fill="#FFFF55"/>
<rect x="1245" y="90" width="9" height="9" fill="#000"/><path d="M1249 91h1v1h-1zM1249 92h1v1h-1zM1248 93h1v1h-1zM1250 93h1v1h-1zM1248 94h1v1h-1zM1250 94h1v1h-1zM1247 95h1v1h-1zM1251 95h1v1h-1zM1247 96h1v1h-1zM1251 96h1v1h-1zM1246 97h7v1h-7z" fill="#FFFF55"/>
<rect x="1433" y="95" width="9" height="9" fill="#000"/><path d="M1437 96h1v1h-1zM1437 97h1v1h-1zM1436 98h1v1h-1zM1438 98h1v1h-1zM1436 99h1v1h-1zM1438 99h1v1h-1zM1435 100h1v1h-1zM1439 100h1v1h-1zM1435 101h1v1h-1zM1439 101h1v1h-1zM1434 102h7v1h-7z" fill="#FFFF55"/>
<rect x="1610" y="117" width="9" height="9" fill="#000"/><path d="M1614 118h1v1h-1zM1614 119h1v1h-1zM1613 120h1v1h-1zM1615 120h1v1h-1zM1613 121h1v1h-1zM1615 121h1v1h-1zM1612 122h1v1h-1zM1616 122h1v1h-1zM1612 123h1v1h-1zM1616 123h1v1h-1zM1611 124h7v1h-7z" fill="#FFFF55"/>
<rect x="1774" y="158" width="9" height="9" fill="#000"/><path d="M1778 159h1v1h-1zM1778 160h1v1h-1zM1777 161h1v1h-1zM1779 161h1v1h-1zM1777 162h1v1h-1zM1779 162h1v1h-1zM1776 163h1v1h-1zM1780 163h1v1h-1zM1776 164h1v1h-1zM1780 164h1v1h-1zM1775 165h7v1h-7z" fill="#FFFF55"/>
<rect x="120" y="397" width="9" height="9" fill="#000"/><path d="M123 398h3v1h-3zM122 399h1v1h-1zM126 399h1v1h-1zM121 400h1v1h-1zM127 400h1v1h-1zM121 401h1v1h-1zM127 401h1v1h-1zM121 402h1v1h-1zM127 402h1v1h-1zM122 403h1v1h-1zM126 403h1v1h-1zM123 404h3v1h-3z" fill="#FF55FF"/>
<rect x="265" y="319" width="9" height="9" fill="#000"/><path d="M268 320h3v1h-3zM267 321h1v1h-1zM271 321h1v1h-1zM266 322h1v1h-1zM272 322h1v1h-1zM266 323h1v1h-1zM272 323h1v1h-1zM266 324h1v1h-1zM272 324h1v1h-1zM267 325h1v1h-1zM271 325h1v1h-1zM268 326h3v1h-3z" fill="#FF55FF"/>
<rect x="415" y="255" width="9" height="9" fill="#000"/><path d="M418 256h3v1h-3zM417 257h1v1h-1zM421 257h1v1h-1zM416 258h1v1h-1zM422 258h1v1h-1zM416 259h1v1h-1zM422 259h1v1h-1zM416 260h1v1h-1zM422 260h1v1h-1zM417 261h1v1h-1zM421 261h1v1h-1zM418 262h3v1h-3z" fill="#FF55FF"/>
<rect x="570" y="202" width="9" height="9" fill="#000"/><path d="M573 203h3v1h-3zM572 204h1v1h-1zM576 204h1v1h-1zM571 205h1v1h-1zM577 205h1v1h-1zM571 206h1v1h-1zM577 206h1v1h-1zM571 207h1v1h-1zM577 207h1v1h-1zM572 208h1v1h-1zM576 208h1v1h-1zM573 209h3v1h-3z" fill="#FF55FF"/>
<rect x="734" y="159" width="9" height="9" fill="#000"/><path d="M737 160h3v1h-3zM736 161h1v1h-1zM740 161h1v1h-1zM735 162h1v1h-1zM741 162h1v1h-1zM735 163h1v1h-1zM741 163h1v1h-1zM735 164h1v1h-1zM741 164h1v1h-1zM736 165h1v1h-1zM740 165h1v1h-1zM737 166h3v1h-3z" fill="#FF55FF"/>
<rect x="904" y="125" width="9" height="9" fill="#000"/><path d="M907 126h3v1h-3zM906 127h1v1h-1zM910 127h1v1h-1zM905 128h1v1h-1zM911 128h1v1h-1zM905 129h1v1h-1zM911 129h1v1h-1zM905 130h1v1h-1zM911 130h1v1h-1zM906 131h1v1h-1zM910 131h1v1h-1zM907 132h3v1h-3z" fill="#FF55FF"/>
<rect x="1080" y="100" width="9" height="9" fill="#000"/><path d="M1083 101h3v1h-3zM1082 102h1v1h-1zM1086 102h1v1h-1zM1081 103h1v1h-1zM1087 103h1v1h-1zM1081 104h1v1h-1zM1087 104h1v1h-1zM1081 105h1v1h-1zM1087 105h1v1h-1zM1082 106h1v1h-1zM1086 106h1v1h-1zM1083 107h3v1h-3z" fill="#FF55FF"/>
<rect x="1267" y="95" width="9" height="9" fill="#000"/><path d="M1270 96h3v1h-3zM1269 97h1v1h-1zM1273 97h1v1h-1zM1268 98h1v1h-1zM1274 98h1v1h-1zM1268 99h1v1h-1zM1274 99h1v1h-1zM1268 100h1v1h-1zM1274 100h1v1h-1zM1269 101h1v1h-1zM1273 101h1v1h-1zM1270 102h3v1h-3z" fill="#FF55FF"/>
<rect x="1454" y="104" width="9" height="9" fill="#000"/><path d="M1457 105h3v1h-3zM1456 106h1v1h-1zM1460 106h1v1h-1zM1455 107h1v1h-1zM1461 107h1v1h-1zM1455 108h1v1h-1zM1461 108h1v1h-1zM1455 109h1v1h-1zM1461 109h1v1h-1zM1456 110h1v1h-1zM1460 110h1v1h-1zM1457 111h3v1h-3z" fill="#FF55FF"/>
<rect x="1630" y="130" width="9" height="9" fill="#000"/><path d="M1633 131h3v1h-3zM1632 132h1v1h-1zM1636 132h1v1h-1zM1631 133h1v1h-1zM1637 133h1v1h-1zM1631 134h1v1h-1zM1637 134h1v1h-1zM1631 135h1v1h-1zM1637 135h1v1h-1zM1632 136h1v1h-1zM1636 136h1v1h-1zM1633 137h3v1h-3z" fill="#FF55FF"/>
<rect x="1790" y="172" width="9" height="9" fill="#000"/><path d="M1793 173h3v1h-3zM1792 174h1v1h-1zM1796 174h1v1h-1zM1791 175h1v1h-1zM1797 175h1v1h-1zM1791 176h1v1h-1zM1797 176h1v1h-1zM1791 177h1v1h-1zM1797 177h1v1h-1zM1792 178h1v1h-1zM1796 178h1v1h-1zM1793 179h3v1h-3z" fill="#FF55FF"/>
<rect x="133" y="389" width="9" height="9" fill="#000"/><path d="M137 390h1v1h-1zM137 391h1v1h-1zM137 392h1v1h-1zM134 393h7v1h-7zM137 394h1v1h-1zM137 395h1v1h-1zM137 396h1v1h-1z" fill="#55FFFF"/>
<rect x="275" y="315" width="9" height="9" fill="#000"/><path d="M279 316h1v1h-1zM279 317h1v1h-1zM279 318h1v1h-1zM276 319h7v1h-7zM279 320h1v1h-1zM279 321h1v1h-1zM279 322h1v1h-1z" fill="#55FFFF"/>
<rect x="425" y="251" width="9" height="9" fill="#000"/><path d="M429 252h1v1h-1zM429 253h1v1h-1zM429 254h1v1h-1zM426 255h7v1h-7zM429 256h1v1h-1zM429 257h1v1h-1zM429 258h1v1h-1z" fill="#55FFFF"/>
<rect x="582" y="199" width="9" height="9" fill="#000"/><path d="M586 200h1v1h-1zM586 201h1v1h-1zM586 202h1v1h-1zM583 203h7v1h-7zM586 204h1v1h-1zM586 205h1v1h-1zM586 206h1v1h-1z" fill="#55FFFF"/>
<rect x="745" y="157" width="9" height="9" fill="#000"/><path d="M749 158h1v1h-1zM749 159h1v1h-1zM749 160h1v1h-1zM746 161h7v1h-7zM749 162h1v1h-1zM749 163h1v1h-1zM749 164h1v1h-1z" fill="#55FFFF"/>
<rect x="911" y="124" width="9" height="9" fill="#000"/><path d="M915 125h1v1h-1zM915 126h1v1h-1zM915 127h1v1h-1zM912 128h7v1h-7zM915 129h1v1h-1zM915 130h1v1h-1zM915 131h1v1h-1z" fill="#55FFFF"/>
<rect x="1090" y="102" width="9" height="9" fill="#000"/><path d="M1094 103h1v1h-1zM1094 104h1v1h-1zM1094 105h1v1h-1zM1091 106h7v1h-7zM1094 107h1v1h-1zM1094 108h1v1h-1zM1094 109h1v1h-1z" fill="#55FFFF"/>
<rect x="1278" y="100" width="9" height="9" fill="#000"/><path d="M1282 101h1v1h-1zM1282 102h1v1h-1zM1282 103h1v1h-1zM1279 104h7v1h-7zM1282 105h1v1h-1zM1282 106h1v1h-1zM1282 107h1v1h-1z" fill="#55FFFF"/>
<rect x="1460" y="113" width="9" height="9" fill="#000"/><path d="M1464 114h1v1h-1zM1464 115h1v1h-1zM1464 116h1v1h-1zM1461 117h7v1h-7zM1464 118h1v1h-1zM1464 119h1v1h-1zM1464 120h1v1h-1z" fill="#55FFFF"/>
<rect x="1632" y="140" width="9" height="9" fill="#000"/><path d="M1636 141h1v1h-1zM1636 142h1v1h-1zM1636 143h1v1h-1zM1633 144h7v1h-7zM1636 145h1v1h-1zM1636 146h1v1h-1zM1636 147h1v1h-1z" fill="#55FFFF"/>
<rect x="1792" y="183" width="9" height="9" fill="#000"/><path d="M1796 184h1v1h-1zM1796 185h1v1h-1zM1796 186h1v1h-1zM1793 187h7v1h-7zM1796 188h1v1h-1zM1796 189h1v1h-1zM1796 190h1v1h-1z" fill="#55FFFF"/>
<rect x="145" y="382" width="9" height="9" fill="#000"/><path d="M146 383h1v1h-1zM152 383h1v1h-1zM147 384h1v1h-1zM151 384h1v1h-1zM148 385h1v1h-1zM150 385h1v1h-1zM149 386h1v1h-1zM148 387h1v1h-1zM150 387h1v1h-1zM147 388h1v1h-1zM151 388h1v1h-1zM146 389h1v1h-1zM152 389h1v1h-1z" fill="#FFAA00"/>
<rect x="288" y="309" width="9" height="9" fill="#000"/><path d="M289 310h1v1h-1zM295 310h1v1h-1zM290 311h1v1h-1zM294 311h1v1h-1zM291 312h1v1h-1zM293 312h1v1h-1zM292 313h1v1h-1zM291 314h1v1h-1zM293 314h1v1h-1zM290 315h1v1h-1zM294 315h1v1h-1zM289 316h1v1h-1zM295 316h1v1h-1z" fill="#FFAA00"/>
<rect x="438" y="247" width="9" height="9" fill="#000"/><path d="M439 248h1v1h-1zM445 248h1v1h-1zM440 249h1v1h-1zM444 249h1v1h-1zM441 250h1v1h-1zM443 250h1v1h-1zM442 251h1v1h-1zM441 252h1v1h-1zM443 252h1v1h-1zM440 253h1v1h-1zM444 253h1v1h-1zM439 254h1v1h-1zM445 254h1v1h-1z" fill="#FFAA00"/>
<rect x="599" y="194" width="9" height="9" fill="#000"/><path d="M600 195h1v1h-1zM606 195h1v1h-1zM601 196h1v1h-1zM605 196h1v1h-1zM602 197h1v1h-1zM604 197h1v1h-1zM603 198h1v1h-1zM602 199h1v1h-1zM604 199h1v1h-1zM601 200h1v1h-1zM605 200h1v1h-1zM600 201h1v1h-1zM606 201h1v1h-1z" fill="#FFAA00"/>
<rect x="762" y="154" width="9" height="9" fill="#000"/><path d="M763 155h1v1h-1zM769 155h1v1h-1zM764 156h1v1h-1zM768 156h1v1h-1zM765 157h1v1h-1zM767 157h1v1h-1zM766 158h1v1h-1zM765 159h1v1h-1zM767 159h1v1h-1zM764 160h1v1h-1zM768 160h1v1h-1zM763 161h1v1h-1zM769 161h1v1h-1z" fill="#FFAA00"/>
<rect x="931" y="122" width="9" height="9" fill="#000"/><path d="M932 123h1v1h-1zM938 123h1v1h-1zM933 124h1v1h-1zM937 124h1v1h-1zM934 125h1v1h-1zM936 125h1v1h-1zM935 126h1v1h-1zM934 127h1v1h-1zM936 127h1v1h-1zM933 128h1v1h-1zM937 128h1v1h-1zM932 129h1v1h-1zM938 129h1v1h-1z" fill="#FFAA00"/>
<rect x="1110" y="103" width="9" height="9" fill="#000"/><path d="M1111 104h1v1h-1zM1117 104h1v1h-1zM1112 105h1v1h-1zM1116 105h1v1h-1zM1113 106h1v1h-1zM1115 106h1v1h-1zM1114 107h1v1h-1zM1113 108h1v1h-1zM1115 108h1v1h-1zM1112 109h1v1h-1zM1116 109h1v1h-1zM1111 110h1v1h-1zM1117 110h1v1h-1z" fill="#FFAA00"/>
<rect x="1296" y="107" width="9" height="9" fill="#000"/><path d="M1297 108h1v1h-1zM1303 108h1v1h-1zM1298 109h1v1h-1zM1302 109h1v1h-1zM1299 110h1v1h-1zM1301 110h1v1h-1zM1300 111h1v1h-1zM1299 112h1v1h-1zM1301 112h1v1h-1zM1298 113h1v1h-1zM1302 113h1v1h-1zM1297 114h1v1h-1zM1303 114h1v1h-1z" fill="#FFAA00"/>
<rect x="1476" y="124" width="9" height="9" fill="#000"/><path d="M1477 125h1v1h-1zM1483 125h1v1h-1zM1478 126h1v1h-1zM1482 126h1v1h-1zM1479 127h1v1h-1zM1481 127h1v1h-1zM1480 128h1v1h-1zM1479 129h1v1h-1zM1481 129h1v1h-1zM1478 130h1v1h-1zM1482 130h1v1h-1zM1477 131h1v1h-1zM1483 131h1v1h-1z" fill="#FFAA00"/>
<rect x="1650" y="156" width="9" height="9" fill="#000"/><path d="M1651 157h1v1h-1zM1657 157h1v1h-1zM1652 158h1v1h-1zM1656 158h1v1h-1zM1653 159h1v1h-1zM1655 159h1v1h-1zM1654 160h1v1h-1zM1653 161h1v1h-1zM1655 161h1v1h-1zM1652 162h1v1h-1zM1656 162h1v1h-1zM1651 163h1v1h-1zM1657 163h1v1h-1z" fill="#FFAA00"/>
<rect x="1812" y="203" width="9" height="9" fill="#000"/><path d="M1813 204h1v1h-1zM1819 204h1v1h-1zM1814 205h1v1h-1zM1818 205h1v1h-1zM1815 206h1v1h-1zM1817 206h1v1h-1zM1816 207h1v1h-1zM1815 208h1v1h-1zM1817 208h1v1h-1zM1814 209h1v1h-1zM1818 209h1v1h-1zM1813 210h1v1h-1zM1819 210h1v1h-1z" fill="#FFAA00"/>
<rect x="160" y="374" width="9" height="9" fill="#000"/><path d="M164 375h1v1h-1zM164 376h1v1h-1zM164 377h1v1h-1zM164 378h1v1h-1zM163 379h1v1h-1zM165 379h1v1h-1zM162 380h1v1h-1zM166 380h1v1h-1zM161 381h1v1h-1zM167 381h1v1h-1z" fill="#FFAAAA"/>
<rect x="304" y="302" width="9" height="9" fill="#000"/><path d="M308 303h1v1h-1zM308 304h1v1h-1zM308 305h1v1h-1zM308 306h1v1h-1zM307 307h1v1h-1zM309 307h1v1h-1zM306 308h1v1h-1zM310 308h1v1h-1zM305 309h1v1h-1zM311 309h1v1h-1z" fill="#FFAAAA"/>
<rect x="456" y="240" width="9" height="9" fill="#000"/><path d="M460 241h1v1h-1zM460 242h1v1h-1zM460 243h1v1h-1zM460 244h1v1h-1zM459 245h1v1h-1zM461 245h1v1h-1zM458 246h1v1h-1zM462 246h1v1h-1zM457 247h1v1h-1zM463 247h1v1h-1z" fill="#FFAAAA"/>
<rect x="615" y="190" width="9" height="9" fill="#000"/><path d="M619 191h1v1h-1zM619 192h1v1h-1zM619 193h1v1h-1zM619 194h1v1h-1zM618 195h1v1h-1zM620 195h1v1h-1zM617 196h1v1h-1zM621 196h1v1h-1zM616 197h1v1h-1zM622 197h1v1h-1z" fill="#FFAAAA"/>
<rect x="781" y="150" width="9" height="9" fill="#000"/><path d="M785 151h1v1h-1zM785 152h1v1h-1zM785 153h1v1h-1zM785 154h1v1h-1zM784 155h1v1h-1zM786 155h1v1h-1zM783 156h1v1h-1zM787 156h1v1h-1zM782 157h1v1h-1zM788 157h1v1h-1z" fill="#FFAAAA"/>
<rect x="949" y="119" width="9" height="9" fill="#000"/><path d="M953 120h1v1h-1zM953 121h1v1h-1zM953 122h1v1h-1zM953 123h1v1h-1zM952 124h1v1h-1zM954 124h1v1h-1zM951 125h1v1h-1zM955 125h1v1h-1zM950 126h1v1h-1zM956 126h1v1h-1z" fill="#FFAAAA"/>
<rect x="1131" y="104" width="9" height="9" fill="#000"/><path d="M1135 105h1v1h-1zM1135 106h1v1h-1zM1135 107h1v1h-1zM1135 108h1v1h-1zM1134 109h1v1h-1zM1136 109h1v1h-1zM1133 110h1v1h-1zM1137 110h1v1h-1zM1132 111h1v1h-1zM1138 111h1v1h-1z" fill="#FFAAAA"/>
<rect x="1317" y="113" width="9" height="9" fill="#000"/><path d="M1321 114h1v1h-1zM1321 115h1v1h-1zM1321 116h1v1h-1zM1321 117h1v1h-1zM1320 118h1v1h-1zM1322 118h1v1h-1zM1319 119h1v1h-1zM1323 119h1v1h-1zM1318 120h1v1h-1zM1324 120h1v1h-1z" fill="#FFAAAA"/>
<rect x="1491" y="137" width="9" height="9" fill="#000"/><path d="M1495 138h1v1h-1zM1495 139h1v1h-1zM1495 140h1v1h-1zM1495 141h1v1h-1zM1494 142h1v1h-1zM1496 142h1v1h-1zM1493 143h1v1h-1zM1497 143h1v1h-1zM1492 144h1v1h-1zM1498 144h1v1h-1z" fill="#FFAAAA"/>
<rect x="1658" y="172" width="9" height="9" fill="#000"/><path d="M1662 173h1v1h-1zM1662 174h1v1h-1zM1662 175h1v1h-1zM1662 176h1v1h-1zM1661 177h1v1h-1zM1663 177h1v1h-1zM1660 178h1v1h-1zM1664 178h1v1h-1zM1659 179h1v1h-1zM1665 179h1v1h-1z" fill="#FFAAAA"/>
<rect x="1817" y="221" width="9" height="9" fill="#000"/><path d="M1821 222h1v1h-1zM1821 223h1v1h-1zM1821 224h1v1h-1zM1821 225h1v1h-1zM1820 226h1v1h-1zM1822 226h1v1h-1zM1819 227h1v1h-1zM1823 227h1v1h-1zM1818 228h1v1h-1zM1824 228h1v1h-1z" fill="#FFAAAA"/>
<rect x="173" y="368" width="9" height="9" fill="#000"/><path d="M174 369h1v1h-1zM180 369h1v1h-1zM175 370h1v1h-1zM179 370h1v1h-1zM176 371h1v1h-1zM178 371h1v1h-1zM177 372h1v1h-1zM177 373h1v1h-1zM177 374h1v1h-1zM177 375h1v1h-1z" fill="#AAFFAA"/>
<rect x="317" y="296" width="9" height="9" fill="#000"/><path d="M318 297h1v1h-1zM324 297h1v1h-1zM319 298h1v1h-1zM323 298h1v1h-1zM320 299h1v1h-1zM322 299h1v1h-1zM321 300h1v1h-1zM321 301h1v1h-1zM321 302h1v1h-1zM321 303h1v1h-1z" fill="#AAFFAA"/>
<rect x="467" y="236" width="9" height="9" fill="#000"/><path d="M468 237h1v1h-1zM474 237h1v1h-1zM469 238h1v1h-1zM473 238h1v1h-1zM470 239h1v1h-1zM472 239h1v1h-1zM471 240h1v1h-1zM471 241h1v1h-1zM471 242h1v1h-1zM471 243h1v1h-1z" fill="#AAFFAA"/>
<rect x="629" y="186" width="9" height="9" fill="#000"/><path d="M630 187h1v1h-1zM636 187h1v1h-1zM631 188h1v1h-1zM635 188h1v1h-1zM632 189h1v1h-1zM634 189h1v1h-1zM633 190h1v1h-1zM633 191h1v1h-1zM633 192h1v1h-1zM633 193h1v1h-1z" fill="#AAFFAA"/>
<rect x="794" y="148" width="9" height="9" fill="#000"/><path d="M795 149h1v1h-1zM801 149h1v1h-1zM796 150h1v1h-1zM800 150h1v1h-1zM797 151h1v1h-1zM799 151h1v1h-1zM798 152h1v1h-1zM798 153h1v1h-1zM798 154h1v1h-1zM798 155h1v1h-1z" fill="#AAFFAA"/>
<rect x="965" y="117" width="9" height="9" fill="#000"/><path d="M966 118h1v1h-1zM972 118h1v1h-1zM967 119h1v1h-1zM971 119h1v1h-1zM968 120h1v1h-1zM970 120h1v1h-1zM969 121h1v1h-1zM969 122h1v1h-1zM969 123h1v1h-1zM969 124h1v1h-1z" fill="#AAFFAA"/>
<rect x="1148" y="105" width="9" height="9" fill="#000"/><path d="M1149 106h1v1h-1zM1155 106h1v1h-1zM1150 107h1v1h-1zM1154 107h1v1h-1zM1151 108h1v1h-1zM1153 108h1v1h-1zM1152 109h1v1h-1zM1152 110h1v1h-1zM1152 111h1v1h-1zM1152 112h1v1h-1z" fill="#AAFFAA"/>
<rect x="1330" y="120" width="9" height="9" fill="#000"/><path d="M1331 121h1v1h-1zM1337 121h1v1h-1zM1332 122h1v1h-1zM1336 122h1v1h-1zM1333 123h1v1h-1zM1335 123h1v1h-1zM1334 124h1v1h-1zM1334 125h1v1h-1zM1334 126h1v1h-1zM1334 127h1v1h-1z" fill="#AAFFAA"/>
<rect x="1500" y="151" width="9" height="9" fill="#000"/><path d="M1501 152h1v1h-1zM1507 152h1v1h-1zM1502 153h1v1h-1zM1506 153h1v1h-1zM1503 154h1v1h-1zM1505 154h1v1h-1zM1504 155h1v1h-1zM1504 156h1v1h-1zM1504 157h1v1h-1zM1504 158h1v1h-1z" fill="#AAFFAA"/>
<rect x="1663" y="192" width="9" height="9" fill="#000"/><path d="M1664 193h1v1h-1zM1670 193h1v1h-1zM1665 194h1v1h-1zM1669 194h1v1h-1zM1666 195h1v1h-1zM1668 195h1v1h-1zM1667 196h1v1h-1zM1667 197h1v1h-1zM1667 198h1v1h-1zM1667 199h1v1h-1z" fill="#AAFFAA"/>
<rect x="1820" y="244" width="9" height="9" fill="#000"/><path d="M1821 245h1v1h-1zM1827 245h1v1h-1zM1822 246h1v1h-1zM1826 246h1v1h-1zM1823 247h1v1h-1zM1825 247h1v1h-1zM1824 248h1v1h-1zM1824 249h1v1h-1zM1824 250h1v1h-1zM1824 251h1v1h-1z" fill="#AAFFAA"/>
<rect x="183" y="362" width="9" height="9" fill="#000"/><path d="M187 363h1v1h-1zM185 364h1v1h-1zM187 364h1v1h-1zM189 364h1v1h-1zM186 365h3v1h-3zM187 366h1v1h-1zM186 367h3v1h-3zM185 368h1v1h-1zM187 368h1v1h-1zM189 368h1v1h-1zM187 369h1v1h-1z" fill="#FF00AA"/>
<rect x="329" y="291" width="9" height="9" fill="#000"/><path d="M333 292h1v1h-1zM331 293h1v1h-1zM333 293h1v1h-1zM335 293h1v1h-1zM332 294h3v1h-3zM333 295h1v1h-1zM332 296h3v1h-3zM331 297h1v1h-1zM333 297h1v1h-1zM335 297h1v1h-1zM333 298h1v1h-1z" fill="#FF00AA"/>
<rect x="482" y="231" width="9" height="9" fill="#000"/><path d="M486 232h1v1h-1zM484 233h1v1h-1zM486 233h1v1h-1zM488 233h1v1h-1zM485 234h3v1h-3zM486 235h1v1h-1zM485 236h3v1h-3zM484 237h1v1h-1zM486 237h1v1h-1zM488 237h1v1h-1zM486 238h1v1h-1z" fill="#FF00AA"/>
<rect x="643" y="183" width="9" height="9" fill="#000"/><path d="M647 184h1v1h-1zM645 185h1v1h-1zM647 185h1v1h-1zM649 185h1v1h-1zM646 186h3v1h-3zM647 187h1v1h-1zM646 188h3v1h-3zM645 189h1v1h-1zM647 189h1v1h-1zM649 189h1v1h-1zM647 190h1v1h-1z" fill="#FF00AA"/>
<rect x="805" y="146" width="9" height="9" fill="#000"/><path d="M809 147h1v1h-1zM807 148h1v1h-1zM809 148h1v1h-1zM811 148h1v1h-1zM808 149h3v1h-3zM809 150h1v1h-1zM808 151h3v1h-3zM807 152h1v1h-1zM809 152h1v1h-1zM811 152h1v1h-1zM809 153h1v1h-1z" fill="#FF00AA"/>
<rect x="975" y="116" width="9" height="9" fill="#000"/><path d="M979 117h1v1h-1zM977 118h1v1h-1zM979 118h1v1h-1zM981 118h1v1h-1zM978 119h3v1h-3zM979 120h1v1h-1zM978 121h3v1h-3zM977 122h1v1h-1zM979 122h1v1h-1zM981 122h1v1h-1zM979 123h1v1h-1z" fill="#FF00AA"/>
<rect x="1161" y="106" width="9" height="9" fill="#000"/><path d="M1165 107h1v1h-1zM1163 108h1v1h-1zM1165 108h1v1h-1zM1167 108h1v1h-1zM1164 109h3v1h-3zM1165 110h1v1h-1zM1164 111h3v1h-3zM1163 112h1v1h-1zM1165 112h1v1h-1zM1167 112h1v1h-1zM1165 113h1v1h-1z" fill="#FF00AA"/>
<rect x="1338" y="125" width="9" height="9" fill="#000"/><path d="M1342 126h1v1h-1zM1340 127h1v1h-1zM1342 127h1v1h-1zM1344 127h1v1h-1zM1341 128h3v1h-3zM1342 129h1v1h-1zM1341 130h3v1h-3zM1340 131h1v1h-1zM1342 131h1v1h-1zM1344 131h1v1h-1zM1342 132h1v1h-1z" fill="#FF00AA"/>
<rect x="1505" y="162" width="9" height="9" fill="#000"/><path d="M1509 163h1v1h-1zM1507 164h1v1h-1zM1509 164h1v1h-1zM1511 164h1v1h-1zM1508 165h3v1h-3zM1509 166h1v1h-1zM1508 167h3v1h-3zM1507 168h1v1h-1zM1509 168h1v1h-1zM1511 168h1v1h-1zM1509 169h1v1h-1z" fill="#FF00AA"/>
<rect x="1665" y="214" width="9" height="9" fill="#000"/><path d="M1669 215h1v1h-1zM1667 216h1v1h-1zM1669 216h1v1h-1zM1671 216h1v1h-1zM1668 217h3v1h-3zM1669 218h1v1h-1zM1668 219h3v1h-3zM1667 220h1v1h-1zM1669 220h1v1h-1zM1671 220h1v1h-1zM1669 221h1v1h-1z" fill="#FF00AA"/>
<rect x="1818" y="276" width="9" height="9" fill="#000"/><path d="M1822 277h1v1h-1zM1820 278h1v1h-1zM1822 278h1v1h-1zM1824 278h1v1h-1zM1821 279h3v1h-3zM1822 280h1v1h-1zM1821 281h3v1h-3zM1820 282h1v1h-1zM1822 282h1v1h-1zM1824 282h1v1h-1zM1822 283h1v1h-1z" fill="#FF00AA"/>
<rect x="196" y="355" width="9" height="9" fill="#000"/><path d="M197 356h7v1h-7zM197 357h1v1h-1zM203 357h1v1h-1zM197 358h1v1h-1zM203 358h1v1h-1zM197 359h1v1h-1zM203 359h1v1h-1zM197 360h1v1h-1zM203 360h1v1h-1zM197 361h1v1h-1zM203 361h1v1h-1zM197 362h7v1h-7z" fill="#55AAFF"/>
<rect x="340" y="286" width="9" height="9" fill="#000"/><path d="M341 287h7v1h-7zM341 288h1v1h-1zM347 288h1v1h-1zM341 289h1v1h-1zM347 289h1v1h-1zM341 290h1v1h-1zM347 290h1v1h-1zM341 291h1v1h-1zM347 291h1v1h-1zM341 292h1v1h-1zM347 292h1v1h-1zM341 293h7v1h-7z" fill="#55AAFF"/>
<rect x="495" y="227" width="9" height="9" fill="#000"/><path d="M496 228h7v1h-7zM496 229h1v1h-1zM502 229h1v1h-1zM496 230h1v1h-1zM502 230h1v1h-1zM496 231h1v1h-1zM502 231h1v1h-1zM496 232h1v1h-1zM502 232h1v1h-1zM496 233h1v1h-1zM502 233h1v1h-1zM496 234h7v1h-7z" fill="#55AAFF"/>
<rect x="658" y="179" width="9" height="9" fill="#000"/><path d="M659 180h7v1h-7zM659 181h1v1h-1zM665 181h1v1h-1zM659 182h1v1h-1zM665 182h1v1h-1zM659 183h1v1h-1zM665 183h1v1h-1zM659 184h1v1h-1zM665 184h1v1h-1zM659 185h1v1h-1zM665 185h1v1h-1zM659 186h7v1h-7z" fill="#55AAFF"/>
<rect x="823" y="142" width="9" height="9" fill="#000"/><path d="M824 143h7v1h-7zM824 144h1v1h-1zM830 144h1v1h-1zM824 145h1v1h-1zM830 145h1v1h-1zM824 146h1v1h-1zM830 146h1v1h-1zM824 147h1v1h-1zM830 147h1v1h-1zM824 148h1v1h-1zM830 148h1v1h-1zM824 149h7v1h-7z" fill="#55AAFF"/>
<rect x="996" y="114" width="9" height="9" fill="#000"/><path d="M997 115h7v1h-7zM997 116h1v1h-1zM1003 116h1v1h-1zM997 117h1v1h-1zM1003 117h1v1h-1zM997 118h1v1h-1zM1003 118h1v1h-1zM997 119h1v1h-1zM1003 119h1v1h-1zM997 120h1v1h-1zM1003 120h1v1h-1zM997 121h7v1h-7z" fill="#55AAFF"/>
<rect x="1181" y="108" width="9" height="9" fill="#000"/><path d="M1182 109h7v1h-7zM1182 110h1v1h-1zM1188 110h1v1h-1zM1182 111h1v1h-1zM1188 111h1v1h-1zM1182 112h1v1h-1zM1188 112h1v1h-1zM1182 113h1v1h-1zM1188 113h1v1h-1zM1182 114h1v1h-1zM1188 114h1v1h-1zM1182 115h7v1h-7z" fill="#55AAFF"/>
<rect x="1358" y="129" width="9" height="9" fill="#000"/><path d="M1359 130h7v1h-7zM1359 131h1v1h-1zM1365 131h1v1h-1zM1359 132h1v1h-1zM1365 132h1v1h-1zM1359 133h1v1h-1zM1365 133h1v1h-1zM1359 134h1v1h-1zM1365 134h1v1h-1zM1359 135h1v1h-1zM1365 135h1v1h-1zM1359 136h7v1h-7z" fill="#55AAFF"/>
<rect x="1521" y="171" width="9" height="9" fill="#000"/><path d="M1522 172h7v1h-7zM1522 173h1v1h-1zM1528 173h1v1h-1zM1522 174h1v1h-1zM1528 174h1v1h-1zM1522 175h1v1h-1zM1528 175h1v1h-1zM1522 176h1v1h-1zM1528 176h1v1h-1zM1522 177h1v1h-1zM1528 177h1v1h-1zM1522 178h7v1h-7z" fill="#55AAFF"/>
<rect x="1676" y="232" width="9" height="9" fill="#000"/><path d="M1677 233h7v1h-7zM1677 234h1v1h-1zM1683 234h1v1h-1zM1677 235h1v1h-1zM1683 235h1v1h-1zM1677 236h1v1h-1zM1683 236h1v1h-1zM1677 237h1v1h-1zM1683 237h1v1h-1zM1677 238h1v1h-1zM1683 238h1v1h-1zM1677 239h7v1h-7z" fill="#55AAFF"/>
<rect x="1821" y="308" width="9" height="9" fill="#000"/><path d="M1822 309h7v1h-7zM1822 310h1v1h-1zM1828 310h1v1h-1zM1822 311h1v1h-1zM1828 311h1v1h-1zM1822 312h1v1h-1zM1828 312h1v1h-1zM1822 313h1v1h-1zM1828 313h1v1h-1zM1822 314h1v1h-1zM1828 314h1v1h-1zM1822 315h7v1h-7z" fill="#55AAFF"/>
<path d="M68 590h7v1h-7zM68 591h1v1h-1zM74 591h1v1h-1zM68 592h1v1h-1zM74 592h1v1h-1zM68 593h1v1h-1zM74 593h1v1h-1zM68 594h1v1h-1zM74 594h1v1h-1zM68 595h1v1h-1zM74 595h1v1h-1zM68 596h7v1h-7z" fill="#55AAFF"/>
<path d="M87 590h1v1h-1zM86 591h1v1h-1zM88 591h1v1h-1zM85 592h1v1h-1zM89 592h1v1h-1zM84 593h1v1h-1zM90 593h1v1h-1zM85 594h1v1h-1zM89 594h1v1h-1zM86 595h1v1h-1zM88 595h1v1h-1zM87 596h1v1h-1z" fill="#FF5555"/>
<path d="M100 590h7v1h-7zM101 591h1v1h-1zM105 591h1v1h-1zM101 592h1v1h-1zM105 592h1v1h-1zM102 593h1v1h-1zM104 593h1v1h-1zM102 594h1v1h-1zM104 594h1v1h-1zM103 595h1v1h-1zM103 596h1v1h-1z" fill="#5500FF"/>
<path d="M119 590h1v1h-1zM119 591h1v1h-1zM118 592h1v1h-1zM120 592h1v1h-1zM118 593h1v1h-1zM120 593h1v1h-1zM117 594h1v1h-1zM121 594h1v1h-1zM117 595h1v1h-1zM121 595h1v1h-1zM116 596h7v1h-7z" fill="#FFFF55"/>
<path d="M134 590h3v1h-3zM133 591h1v1h-1zM137 591h1v1h-1zM132 592h1v1h-1zM138 592h1v1h-1zM132 593h1v1h-1zM138 593h1v1h-1zM132 594h1v1h-1zM138 594h1v1h-1zM133 595h1v1h-1zM137 595h1v1h-1zM134 596h3v1h-3z" fill="#FF55FF"/>
<path d="M151 590h1v1h-1zM151 591h1v1h-1zM151 592h1v1h-1zM148 593h7v1h-7zM151 594h1v1h-1zM151 595h1v1h-1zM151 596h1v1h-1z" fill="#55FFFF"/>
<path d="M164 590h1v1h-1zM170 590h1v1h-1zM165 591h1v1h-1zM169 591h1v1h-1zM166 592h1v1h-1zM168 592h1v1h-1zM167 593h1v1h-1zM166 594h1v1h-1zM168 594h1v1h-1zM165 595h1v1h-1zM169 595h1v1h-1zM164 596h1v1h-1zM170 596h1v1h-1z" fill="#FFAA00"/>
<path d="M183 590h1v1h-1zM183 591h1v1h-1zM183 592h1v1h-1zM183 593h1v1h-1zM182 594h1v1h-1zM184 594h1v1h-1zM181 595h1v1h-1zM185 595h1v1h-1zM180 596h1v1h-1zM186 596h1v1h-1z" fill="#FFAAAA"/>
<path d="M196 590h1v1h-1zM202 590h1v1h-1zM197 591h1v1h-1zM201 591h1v1h-1zM198 592h1v1h-1zM200 592h1v1h-1zM199 593h1v1h-1zM199 594h1v1h-1zM199 595h1v1h-1zM199 596h1v1h-1z" fill="#AAFFAA"/>
<path d="M215 590h1v1h-1zM213 591h1v1h-1zM215 591h1v1h-1zM217 591h1v1h-1zM214 592h3v1h-3zM215 593h1v1h-1zM214 594h3v1h-3zM213 595h1v1h-1zM215 595h1v1h-1zM217 595h1v1h-1zM215 596h1v1h-1z" fill="#FF00AA"/>
<rect x="64.5" y="586.5" width="15" height="15" fill="none" stroke-width="1" stroke="#C8C8C8" stroke-dasharray="3 2"/>
</g>
</svg>
<div class="pt" style="left:44.0px;top:11px">60</div>
<div class="pt" style="left:44.0px;top:148px">40</div>
<div class="pt" style="left:44.0px;top:284px">20</div>
<div class="pt" style="left:52.0px;top:421px">0</div>
<div class="pt" style="left:36.0px;top:558px">-20</div>
<div class="pt" style="left:50.0px;top:573px">10Hz</div>
<div class="pt" style="left:335.0px;top:573px">30Hz</div>
<div class="pt" style="left:644.0px;top:573px">100Hz</div>
<div class="pt" style="left:929.0px;top:573px">300Hz</div>
<div class="pt" style="left:1238.0px;top:573px">1.0KHz</div>
<div class="pt" style="left:1523.0px;top:573px">3.0KHz</div>
<div class="pt" style="left:1822.0px;top:573px">10KHz</div>
<div class="pt" style="left:227.0px;top:588px">... DB(V(R30:2))</div>
<div class="pt" style="left:928.0px;top:603px">Frequency</div>
<div class="a" style="left:7px;top:622px;width:90px;height:21px;background:#F0F0F0;border-left:1px solid #fff;border-right:1px solid #696969;border-bottom:1px solid #696969;border-radius:0 0 0 3px"></div>
<div class="a" style="left:98px;top:622px;width:1px;height:23px;background:#000"></div>
<div class="a" style="left:9px;top:644px;width:90px;height:1px;background:#000"></div>
<svg class="a" style="left:11px;top:625px" width="13" height="17" viewBox="0 0 13 17" shape-rendering="crispEdges"><path d="M0 0h9l4 4v13h-13z" fill="#000"/><rect x="1" y="1" width="11" height="6" fill="#303030"/><rect x="1" y="8" width="11" height="8" fill="#303030"/><path d="M1 4.5h2v-2h4v2h4" stroke="#00FF00" fill="none"/><path d="M1 10.5h2l2 2h2l2 1h2" stroke="#00FFFF" fill="none" shape-rendering="auto"/><path d="M1 14.5h1l3 -4l2 -1l3 2" stroke="#FFFF00" fill="none" shape-rendering="auto"/><path d="M9 0v4h4" stroke="#909090" fill="#E8E8E8"/></svg>
<div class="ms" style="left:27px;top:627px;font-size:12.5px;line-height:14px;transform:scaleX(0.86);will-change:auto">bode_3.dat (...</div>
<div class="a" style="left:0px;top:648px;width:1880px;height:1px;background:#A0A0A0"></div>
<div class="a" style="left:0px;top:649px;width:1880px;height:1px;background:#fff"></div>
<div class="a" style="left:0px;top:658px;width:593px;height:1px;background:#A0A0A0"></div>
<div class="a" style="left:0px;top:659px;width:592px;height:1px;background:#696969"></div>
<div class="a" style="left:592px;top:659px;width:1px;height:224px;background:#FAFAFA"></div>
<div class="a" style="left:0px;top:882px;width:593px;height:1px;background:#FAFAFA"></div>
<div class="a" style="left:0px;top:664px;width:588px;height:199px;background:#828790"></div>
<div class="a" style="left:0px;top:665px;width:587px;height:197px;background:#fff"></div>
<div class="a" style="left:115px;top:666px;width:1px;height:24px;background:#E5E5E5"></div>
<div class="a" style="left:300px;top:666px;width:1px;height:24px;background:#E5E5E5"></div>
<div class="a" style="left:395px;top:666px;width:1px;height:24px;background:#E5E5E5"></div>
<div class="ms" style="left:-6.5px;top:693px">param high_cut =</div>
<div class="ms" style="left:86px;top:693px">1</div>
<div class="ms" style="left:-7px;top:727px">Start =</div>
<div class="ms" style="left:29px;top:727px">10</div>
<div class="ms" style="left:122px;top:727px">Freq =</div>
<div class="ms" style="left:158px;top:727px">10.00E+03</div>
<div class="ms" style="left:307px;top:727px">End =</div>
<div class="ms" style="left:341px;top:727px">10.00E+...</div>
<div class="a" style="left:73px;top:865px;width:519px;height:1px;background:#000"></div>
<div class="a" style="left:0px;top:866px;width:15px;height:16px;background:#C8C8C8"></div>
<svg class="a" style="left:0;top:864px" width="200" height="20" viewBox="0 0 200 20"><path d="M4.5 4v10l6 -5z" fill="#8A8A8A"/><path d="M16 1l5 16.5h48l4.5 -16.5z" fill="#fff"/><path d="M16.5 1.5l5 16h47.5l4.5 -16" fill="none" stroke="#000" stroke-width="1"/><path d="M69 17.5l3 -8l3 8h40l3 -8 l3 8h49.5l4.5 -16" fill="none" stroke="#000" stroke-width="1"/><path d="M118 9.5l-2.6 -8" fill="none" stroke="#000" stroke-width="1"/></svg>
<div class="ms" style="left:25px;top:868px">Analysis</div>
<div class="ms" style="left:78px;top:868px;transform:scaleX(0.95)">Watch</div>
<div class="ms" style="left:125px;top:868px;transform:scaleX(0.91)">Devices</div>
<div class="a" style="left:603px;top:655px;width:636px;height:1px;background:#A0A0A0"></div>
<div class="a" style="left:603px;top:655px;width:1px;height:232px;background:#A0A0A0"></div>
<div class="a" style="left:604px;top:656px;width:634px;height:1px;background:#fff"></div>
<div class="a" style="left:604px;top:656px;width:1px;height:231px;background:#fff"></div>
<div class="a" style="left:1238px;top:655px;width:1px;height:232px;background:#A0A0A0"></div>
<div class="a" style="left:603px;top:885px;width:636px;height:1px;background:#A0A0A0"></div>
<div class="a" style="left:606px;top:658px;width:15px;height:224px;background:linear-gradient(90deg,#F2F2F2 0%,#D4D4D4 45%,#B4B4B4 100%)"></div>
<div class="btn" style="left:607px;top:660px"></div>
<div class="btn" style="left:607px;top:672px"></div>
<svg class="a" style="left:607px;top:660px" width="11" height="23" viewBox="0 0 11 23"><path d="M2.5 3l5 5m0 -5l-5 5" stroke="#000" stroke-width="1.8" fill="none"/><path d="M6.5 14v6l-3.5 -3z" fill="#000"/></svg>
<div class="a" style="left:620px;top:658px;width:614px;height:224px;background:#828790"></div>
<div class="a" style="left:621px;top:659px;width:612px;height:222px;background:#fff"></div>
<div class="ms" style="left:640px;top:663px">Bias point calculated</div>
<div class="ms" style="left:640px;top:680px">AC (and Noise) Analysis</div>
<div class="ms" style="left:640px;top:697px">AC Analysis finished</div>
<div class="ms" style="left:640px;top:714px">Calculating bias point</div>
<div class="ms" style="left:640px;top:731px">Bias point calculated</div>
<div class="ms" style="left:640px;top:748px">AC (and Noise) Analysis</div>
<div class="ms" style="left:640px;top:765px">AC Analysis finished</div>
<div class="ms" style="left:640px;top:782px">Calculating bias point</div>
<div class="ms" style="left:640px;top:799px">Bias point calculated</div>
<div class="ms" style="left:640px;top:816px">AC (and Noise) Analysis</div>
<div class="ms" style="left:640px;top:833px">AC Analysis finished</div>
<div class="ms" style="left:640px;top:850px">INFO(ORPROBE-3190): Simulation complete</div>
<div class="a" style="left:1216px;top:659px;width:17px;height:222px;background:#F0F0F0"></div>
<div class="a" style="left:1216px;top:818px;width:15px;height:45px;background:#CDCDCD"></div>
<svg class="a" style="left:1219px;top:664px" width="10" height="10" viewBox="0 0 10 10"><path d="M1 6l4 -4l4 4" stroke="#5a5a5a" stroke-width="2" fill="none"/></svg>
<svg class="a" style="left:1219px;top:866px" width="10" height="10" viewBox="0 0 10 10"><path d="M1 2l4 4l4 -4" stroke="#5a5a5a" stroke-width="2" fill="none"/></svg>
<div class="a" style="left:1245px;top:655px;width:634px;height:1px;background:#A0A0A0"></div>
<div class="a" style="left:1245px;top:655px;width:1px;height:232px;background:#A0A0A0"></div>
<div class="a" style="left:1246px;top:656px;width:632px;height:1px;background:#fff"></div>
<div class="a" style="left:1246px;top:656px;width:1px;height:231px;background:#fff"></div>
<div class="a" style="left:1878px;top:655px;width:1px;height:232px;background:#A0A0A0"></div>
<div class="a" style="left:1245px;top:885px;width:634px;height:1px;background:#A0A0A0"></div>
<div class="a" style="left:1248px;top:658px;width:15px;height:224px;background:linear-gradient(90deg,#F2F2F2 0%,#D4D4D4 45%,#B4B4B4 100%)"></div>
<div class="btn" style="left:1249px;top:660px"></div>
<div class="btn" style="left:1249px;top:672px"></div>
<svg class="a" style="left:1249px;top:660px" width="11" height="23" viewBox="0 0 11 23"><path d="M2.5 3l5 5m0 -5l-5 5" stroke="#000" stroke-width="1.8" fill="none"/><path d="M6.5 14v6l-3.5 -3z" fill="#000"/></svg>
<div class="a" style="left:1265px;top:665px;width:605px;height:212px;background:#fff"></div>
<div class="a" style="left:1265px;top:665px;width:604px;height:211px;background:#A0A0A0"></div>
<div class="a" style="left:1266px;top:666px;width:603px;height:210px;background:#696969"></div>
<div class="a" style="left:1267px;top:667px;width:602px;height:209px;background:#F0F0F0"></div>
<div class="a" style="left:1310px;top:687px;width:542px;height:171px;background:#fff"></div>
<div class="a" style="left:1267px;top:667px;width:41px;height:18px;background:#fff"></div>
<div class="a" style="left:1268px;top:668px;width:40px;height:17px;background:#F0F0F0"></div>
<div class="a" style="left:1310px;top:667px;width:73px;height:18px;background:#fff"></div>
<div class="a" style="left:1311px;top:668px;width:72px;height:17px;background:#F0F0F0"></div>
<div class="a" style="left:1385px;top:667px;width:73px;height:18px;background:#fff"></div>
<div class="a" style="left:1386px;top:668px;width:72px;height:17px;background:#F0F0F0"></div>
<div class="a" style="left:1460px;top:667px;width:48px;height:18px;background:#fff"></div>
<div class="a" style="left:1461px;top:668px;width:47px;height:17px;background:#F0F0F0"></div>
<div class="a" style="left:1510px;top:667px;width:45px;height:18px;background:#fff"></div>
<div class="a" style="left:1511px;top:668px;width:44px;height:17px;background:#F0F0F0"></div>
<div class="a" style="left:1557px;top:667px;width:48px;height:18px;background:#fff"></div>
<div class="a" style="left:1558px;top:668px;width:47px;height:17px;background:#F0F0F0"></div>
<div class="a" style="left:1607px;top:667px;width:37px;height:18px;background:#fff"></div>
<div class="a" style="left:1608px;top:668px;width:36px;height:17px;background:#F0F0F0"></div>
<div class="a" style="left:1646px;top:667px;width:97px;height:18px;background:#fff"></div>
<div class="a" style="left:1647px;top:668px;width:96px;height:17px;background:#F0F0F0"></div>
<div class="a" style="left:1745px;top:667px;width:97px;height:18px;background:#fff"></div>
<div class="a" style="left:1746px;top:668px;width:96px;height:17px;background:#F0F0F0"></div>
<div class="a" style="left:1844px;top:667px;width:8px;height:18px;background:#fff"></div>
<div class="a" style="left:1845px;top:668px;width:7px;height:17px;background:#F0F0F0"></div>
<div class="a" style="left:1267px;top:685px;width:585px;height:1px;background:#000"></div>
<div class="a" style="left:1267px;top:686px;width:585px;height:1px;background:#9a9a9a"></div>
<div class="a" style="left:1308px;top:667px;width:1px;height:19px;background:#000"></div>
<div class="a" style="left:1309px;top:667px;width:1px;height:19px;background:#707070"></div>
<div class="a" style="left:1383px;top:667px;width:1px;height:19px;background:#000"></div>
<div class="a" style="left:1384px;top:667px;width:1px;height:19px;background:#707070"></div>
<div class="a" style="left:1458px;top:667px;width:1px;height:19px;background:#000"></div>
<div class="a" style="left:1459px;top:667px;width:1px;height:19px;background:#707070"></div>
<div class="a" style="left:1508px;top:667px;width:1px;height:19px;background:#000"></div>
<div class="a" style="left:1509px;top:667px;width:1px;height:19px;background:#707070"></div>
<div class="a" style="left:1555px;top:667px;width:1px;height:19px;background:#000"></div>
<div class="a" style="left:1556px;top:667px;width:1px;height:19px;background:#707070"></div>
<div class="a" style="left:1605px;top:667px;width:1px;height:19px;background:#000"></div>
<div class="a" style="left:1606px;top:667px;width:1px;height:19px;background:#707070"></div>
<div class="a" style="left:1644px;top:667px;width:1px;height:19px;background:#000"></div>
<div class="a" style="left:1645px;top:667px;width:1px;height:19px;background:#707070"></div>
<div class="a" style="left:1743px;top:667px;width:1px;height:19px;background:#000"></div>
<div class="a" style="left:1744px;top:667px;width:1px;height:19px;background:#707070"></div>
<div class="a" style="left:1842px;top:667px;width:1px;height:19px;background:#000"></div>
<div class="a" style="left:1843px;top:667px;width:1px;height:19px;background:#707070"></div>
<div class="a" style="left:1267px;top:687px;width:41px;height:15px;background:#fff"></div>
<div class="a" style="left:1268px;top:688px;width:40px;height:14px;background:#F0F0F0"></div>
<div class="a" style="left:1267px;top:701px;width:42px;height:1px;background:#000"></div>
<div class="a" style="left:1267px;top:702px;width:42px;height:1px;background:#9a9a9a"></div>
<div class="a" style="left:1310px;top:687px;width:74px;height:15px;background:#55AAFF"></div>
<div class="tc" style="left:1314px;top:687px;height:15px;letter-spacing:-0.3px">CURSOR 1,2</div>
<div class="tc" style="left:1388px;top:687px;width:71px;height:15px">DB(V(R30:2))</div>
<div class="tc" style="left:1464px;top:687px;width:45px;height:15px">49.118</div>
<div class="tc" style="left:1514px;top:687px;width:42px;height:15px">-1.5105</div>
<div class="tc" style="left:1561px;top:687px;width:45px;height:15px">50.629</div>
<div class="tc" style="left:1650px;top:687px;width:94px;height:15px">0.000</div>
<div class="tc" style="left:1749px;top:687px;width:94px;height:15px">0.000</div>
<div class="tc" style="left:1848px;top:687px;width:4px;height:15px">4</div>
<div class="a" style="left:1310px;top:702px;width:542px;height:1px;background:#808080"></div>
<div class="a" style="left:1267px;top:703px;width:41px;height:15px;background:#fff"></div>
<div class="a" style="left:1268px;top:704px;width:40px;height:14px;background:#F0F0F0"></div>
<div class="a" style="left:1267px;top:717px;width:42px;height:1px;background:#000"></div>
<div class="a" style="left:1267px;top:718px;width:42px;height:1px;background:#9a9a9a"></div>
<div class="a" style="left:1310px;top:703px;width:74px;height:15px;background:#FF5555"></div>
<div class="tc" style="left:1388px;top:703px;width:71px;height:15px">DB(V(R30:2))</div>
<div class="tc" style="left:1464px;top:703px;width:45px;height:15px">48.217</div>
<div class="tc" style="left:1514px;top:703px;width:42px;height:15px">-1.5608</div>
<div class="tc" style="left:1561px;top:703px;width:45px;height:15px">49.778</div>
<div class="tc" style="left:1650px;top:703px;width:94px;height:15px">-901.000m</div>
<div class="tc" style="left:1749px;top:703px;width:94px;height:15px">-50.300m</div>
<div class="tc" style="left:1848px;top:703px;width:4px;height:15px">4</div>
<div class="a" style="left:1310px;top:718px;width:542px;height:1px;background:#808080"></div>
<div class="a" style="left:1267px;top:719px;width:41px;height:15px;background:#fff"></div>
<div class="a" style="left:1268px;top:720px;width:40px;height:14px;background:#F0F0F0"></div>
<div class="a" style="left:1267px;top:733px;width:42px;height:1px;background:#000"></div>
<div class="a" style="left:1267px;top:734px;width:42px;height:1px;background:#9a9a9a"></div>
<div class="a" style="left:1310px;top:719px;width:74px;height:15px;background:#5500FF"></div>
<div class="tc" style="left:1388px;top:719px;width:71px;height:15px">DB(V(R30:2))</div>
<div class="tc" style="left:1464px;top:719px;width:45px;height:15px">47.232</div>
<div class="tc" style="left:1514px;top:719px;width:42px;height:15px">-1.6108</div>
<div class="tc" style="left:1561px;top:719px;width:45px;height:15px">48.843</div>
<div class="tc" style="left:1650px;top:719px;width:94px;height:15px">-1.8860</div>
<div class="tc" style="left:1749px;top:719px;width:94px;height:15px">-100.300m</div>
<div class="tc" style="left:1848px;top:719px;width:4px;height:15px">4</div>
<div class="a" style="left:1310px;top:734px;width:542px;height:1px;background:#808080"></div>
<div class="a" style="left:1267px;top:735px;width:41px;height:15px;background:#fff"></div>
<div class="a" style="left:1268px;top:736px;width:40px;height:14px;background:#F0F0F0"></div>
<div class="a" style="left:1267px;top:749px;width:42px;height:1px;background:#000"></div>
<div class="a" style="left:1267px;top:750px;width:42px;height:1px;background:#9a9a9a"></div>
<div class="a" style="left:1310px;top:735px;width:74px;height:15px;background:#FFFF55"></div>
<div class="tc" style="left:1388px;top:735px;width:71px;height:15px">DB(V(R30:2))</div>
<div class="tc" style="left:1464px;top:735px;width:45px;height:15px">46.144</div>
<div class="tc" style="left:1514px;top:735px;width:42px;height:15px">-1.6605</div>
<div class="tc" style="left:1561px;top:735px;width:45px;height:15px">47.805</div>
<div class="tc" style="left:1650px;top:735px;width:94px;height:15px">-2.9740</div>
<div class="tc" style="left:1749px;top:735px;width:94px;height:15px">-150.000m</div>
<div class="tc" style="left:1848px;top:735px;width:4px;height:15px">4</div>
<div class="a" style="left:1310px;top:750px;width:542px;height:1px;background:#808080"></div>
<div class="a" style="left:1267px;top:751px;width:41px;height:15px;background:#fff"></div>
<div class="a" style="left:1268px;top:752px;width:40px;height:14px;background:#F0F0F0"></div>
<div class="a" style="left:1267px;top:765px;width:42px;height:1px;background:#000"></div>
<div class="a" style="left:1267px;top:766px;width:42px;height:1px;background:#9a9a9a"></div>
<div class="a" style="left:1310px;top:751px;width:74px;height:15px;background:#FF55FF"></div>
<div class="tc" style="left:1388px;top:751px;width:71px;height:15px">DB(V(R30:2))</div>
<div class="tc" style="left:1464px;top:751px;width:45px;height:15px">44.928</div>
<div class="tc" style="left:1514px;top:751px;width:42px;height:15px">-1.7099</div>
<div class="tc" style="left:1561px;top:751px;width:45px;height:15px">46.638</div>
<div class="tc" style="left:1650px;top:751px;width:94px;height:15px">-4.1900</div>
<div class="tc" style="left:1749px;top:751px;width:94px;height:15px">-199.400m</div>
<div class="tc" style="left:1848px;top:751px;width:4px;height:15px">4</div>
<div class="a" style="left:1310px;top:766px;width:542px;height:1px;background:#808080"></div>
<div class="a" style="left:1267px;top:767px;width:41px;height:15px;background:#fff"></div>
<div class="a" style="left:1268px;top:768px;width:40px;height:14px;background:#F0F0F0"></div>
<div class="a" style="left:1267px;top:781px;width:42px;height:1px;background:#000"></div>
<div class="a" style="left:1267px;top:782px;width:42px;height:1px;background:#9a9a9a"></div>
<div class="a" style="left:1310px;top:767px;width:74px;height:15px;background:#55FFFF"></div>
<div class="tc" style="left:1388px;top:767px;width:71px;height:15px">DB(V(R30:2))</div>
<div class="tc" style="left:1464px;top:767px;width:45px;height:15px">43.552</div>
<div class="tc" style="left:1514px;top:767px;width:42px;height:15px">-1.7590</div>
<div class="tc" style="left:1561px;top:767px;width:45px;height:15px">45.311</div>
<div class="tc" style="left:1650px;top:767px;width:94px;height:15px">-5.5660</div>
<div class="tc" style="left:1749px;top:767px;width:94px;height:15px">-248.500m</div>
<div class="tc" style="left:1848px;top:767px;width:4px;height:15px">4</div>
<div class="a" style="left:1310px;top:782px;width:542px;height:1px;background:#808080"></div>
<div class="a" style="left:1267px;top:783px;width:41px;height:15px;background:#fff"></div>
<div class="a" style="left:1268px;top:784px;width:40px;height:14px;background:#F0F0F0"></div>
<div class="a" style="left:1267px;top:797px;width:42px;height:1px;background:#000"></div>
<div class="a" style="left:1267px;top:798px;width:42px;height:1px;background:#9a9a9a"></div>
<div class="a" style="left:1310px;top:783px;width:74px;height:15px;background:#FFAA00"></div>
<div class="tc" style="left:1388px;top:783px;width:71px;height:15px">DB(V(R30:2))</div>
<div class="tc" style="left:1464px;top:783px;width:45px;height:15px">41.981</div>
<div class="tc" style="left:1514px;top:783px;width:42px;height:15px">-1.8077</div>
<div class="tc" style="left:1561px;top:783px;width:45px;height:15px">43.789</div>
<div class="tc" style="left:1650px;top:783px;width:94px;height:15px">-7.1370</div>
<div class="tc" style="left:1749px;top:783px;width:94px;height:15px">-297.200m</div>
<div class="tc" style="left:1848px;top:783px;width:4px;height:15px">4</div>
<div class="a" style="left:1310px;top:798px;width:542px;height:1px;background:#808080"></div>
<div class="a" style="left:1267px;top:799px;width:41px;height:15px;background:#fff"></div>
<div class="a" style="left:1268px;top:800px;width:40px;height:14px;background:#F0F0F0"></div>
<div class="a" style="left:1267px;top:813px;width:42px;height:1px;background:#000"></div>
<div class="a" style="left:1267px;top:814px;width:42px;height:1px;background:#9a9a9a"></div>
<div class="a" style="left:1310px;top:799px;width:74px;height:15px;background:#FFAAAA"></div>
<div class="tc" style="left:1388px;top:799px;width:71px;height:15px">DB(V(R30:2))</div>
<div class="tc" style="left:1464px;top:799px;width:45px;height:15px">40.186</div>
<div class="tc" style="left:1514px;top:799px;width:42px;height:15px">-1.8562</div>
<div class="tc" style="left:1561px;top:799px;width:45px;height:15px">42.042</div>
<div class="tc" style="left:1650px;top:799px;width:94px;height:15px">-8.9320</div>
<div class="tc" style="left:1749px;top:799px;width:94px;height:15px">-345.700m</div>
<div class="tc" style="left:1848px;top:799px;width:4px;height:15px">4</div>
<div class="a" style="left:1310px;top:814px;width:542px;height:1px;background:#808080"></div>
<div class="a" style="left:1267px;top:815px;width:41px;height:15px;background:#fff"></div>
<div class="a" style="left:1268px;top:816px;width:40px;height:14px;background:#F0F0F0"></div>
<div class="a" style="left:1267px;top:829px;width:42px;height:1px;background:#000"></div>
<div class="a" style="left:1267px;top:830px;width:42px;height:1px;background:#9a9a9a"></div>
<div class="a" style="left:1310px;top:815px;width:74px;height:15px;background:#AAFFAA"></div>
<div class="tc" style="left:1388px;top:815px;width:71px;height:15px">DB(V(R30:2))</div>
<div class="tc" style="left:1464px;top:815px;width:45px;height:15px">38.206</div>
<div class="tc" style="left:1514px;top:815px;width:42px;height:15px">-1.9043</div>
<div class="tc" style="left:1561px;top:815px;width:45px;height:15px">40.110</div>
<div class="tc" style="left:1650px;top:815px;width:94px;height:15px">-10.912</div>
<div class="tc" style="left:1749px;top:815px;width:94px;height:15px">-393.800m</div>
<div class="tc" style="left:1848px;top:815px;width:4px;height:15px">3</div>
<div class="a" style="left:1310px;top:830px;width:542px;height:1px;background:#808080"></div>
<div class="a" style="left:1267px;top:831px;width:41px;height:15px;background:#fff"></div>
<div class="a" style="left:1268px;top:832px;width:40px;height:14px;background:#F0F0F0"></div>
<div class="a" style="left:1267px;top:845px;width:42px;height:1px;background:#000"></div>
<div class="a" style="left:1267px;top:846px;width:42px;height:1px;background:#9a9a9a"></div>
<div class="a" style="left:1310px;top:831px;width:74px;height:15px;background:#FF00AA"></div>
<div class="tc" style="left:1388px;top:831px;width:71px;height:15px">DB(V(R30:2))</div>
<div class="tc" style="left:1464px;top:831px;width:45px;height:15px">36.357</div>
<div class="tc" style="left:1514px;top:831px;width:42px;height:15px">-1.9522</div>
<div class="tc" style="left:1561px;top:831px;width:45px;height:15px">38.309</div>
<div class="tc" style="left:1650px;top:831px;width:94px;height:15px">-12.761</div>
<div class="tc" style="left:1749px;top:831px;width:94px;height:15px">-441.700m</div>
<div class="tc" style="left:1848px;top:831px;width:4px;height:15px">3</div>
<div class="a" style="left:1310px;top:846px;width:542px;height:1px;background:#808080"></div>
<div class="a" style="left:1267px;top:847px;width:41px;height:11px;background:#fff"></div>
<div class="a" style="left:1268px;top:848px;width:40px;height:10px;background:#F0F0F0"></div>
<div class="a" style="left:1310px;top:847px;width:74px;height:11px;background:#55AAFF"></div>
<div class="tc" style="left:1388px;top:847px;width:71px;height:11px">DB(V(R30:2))</div>
<div class="tc" style="left:1464px;top:847px;width:45px;height:11px">35.529</div>
<div class="tc" style="left:1514px;top:847px;width:42px;height:11px">-1.9997</div>
<div class="tc" style="left:1561px;top:847px;width:45px;height:11px">37.529</div>
<div class="tc" style="left:1650px;top:847px;width:94px;height:11px">-13.589</div>
<div class="tc" style="left:1749px;top:847px;width:94px;height:11px">-489.200m</div>
<div class="tc" style="left:1848px;top:847px;width:4px;height:11px">3</div>
<div class="a" style="left:1308px;top:687px;width:1px;height:171px;background:#000"></div>
<div class="a" style="left:1309px;top:687px;width:1px;height:171px;background:#707070"></div>
<div class="a" style="left:1384px;top:687px;width:1px;height:171px;background:#808080"></div>
<div class="a" style="left:1459px;top:687px;width:1px;height:171px;background:#808080"></div>
<div class="a" style="left:1509px;top:687px;width:1px;height:171px;background:#808080"></div>
<div class="a" style="left:1556px;top:687px;width:1px;height:171px;background:#808080"></div>
<div class="a" style="left:1606px;top:687px;width:1px;height:171px;background:#808080"></div>
<div class="a" style="left:1645px;top:687px;width:1px;height:171px;background:#808080"></div>
<div class="a" style="left:1744px;top:687px;width:1px;height:171px;background:#808080"></div>
<div class="a" style="left:1843px;top:687px;width:1px;height:171px;background:#808080"></div>
<div class="a" style="left:1852px;top:667px;width:17px;height:191px;background:#F0F0F0"></div>
<div class="a" style="left:1852px;top:687px;width:15px;height:17px;background:#CDCDCD"></div>
<svg class="a" style="left:1855px;top:671px" width="10" height="10" viewBox="0 0 10 10"><path d="M1 6l4 -4l4 4" stroke="#5a5a5a" stroke-width="2" fill="none"/></svg>
<svg class="a" style="left:1855px;top:845px" width="10" height="10" viewBox="0 0 10 10"><path d="M1 2l4 4l4 -4" stroke="#5a5a5a" stroke-width="2" fill="none"/></svg>
<div class="a" style="left:1267px;top:858px;width:602px;height:18px;background:#F0F0F0"></div>
<div class="a" style="left:1284px;top:859px;width:450px;height:15px;background:#CDCDCD"></div>
<svg class="a" style="left:1270px;top:862px" width="10" height="10" viewBox="0 0 10 10"><path d="M6 1l-4 4l4 4" stroke="#5a5a5a" stroke-width="2" fill="none"/></svg>
<svg class="a" style="left:1838px;top:862px" width="10" height="10" viewBox="0 0 10 10"><path d="M2 1l4 4l-4 4" stroke="#5a5a5a" stroke-width="2" fill="none"/></svg>
</body></html>
